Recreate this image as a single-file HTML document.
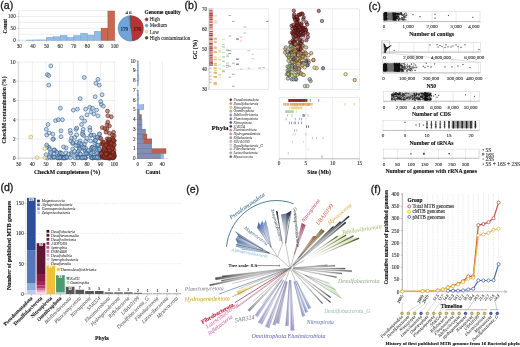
<!DOCTYPE html>
<html><head><meta charset="utf-8"><style>
html,body{margin:0;padding:0;background:#fff;width:520px;height:347px;overflow:hidden}
svg{display:block;will-change:transform;font-family:"Liberation Serif",serif}
</style></head><body>
<svg width="520" height="347" viewBox="0 0 520 347">
<rect width="520" height="347" fill="#fff"/>
<text x="0.3" y="9" font-size="10.6" text-anchor="start" fill="#1a1a1a" stroke="#1a1a1a" stroke-width="0.3" font-family='"Liberation Sans", sans-serif'>(a)</text>
<line x1="18.8" y1="10.55" x2="116.5" y2="10.55" stroke="#e4e4e4" stroke-width="0.6"/>
<line x1="18.8" y1="16.5" x2="116.5" y2="16.5" stroke="#e4e4e4" stroke-width="0.6"/>
<line x1="18.8" y1="22.45" x2="116.5" y2="22.45" stroke="#e4e4e4" stroke-width="0.6"/>
<line x1="18.8" y1="28.4" x2="116.5" y2="28.4" stroke="#e4e4e4" stroke-width="0.6"/>
<line x1="18.8" y1="34.35" x2="116.5" y2="34.35" stroke="#e4e4e4" stroke-width="0.6"/>
<line x1="18.8" y1="11" x2="18.8" y2="40.3" stroke="#bbb" stroke-width="0.5"/>
<line x1="18.8" y1="40.3" x2="116" y2="40.3" stroke="#bbb" stroke-width="0.5"/>
<text x="15.8" y="18.3" font-size="5.2" text-anchor="end" fill="#333" stroke="#333" stroke-width="0.12">100</text>
<line x1="16.8" y1="16.5" x2="18.8" y2="16.5" stroke="#999" stroke-width="0.4"/>
<text x="15.8" y="30.2" font-size="5.2" text-anchor="end" fill="#333" stroke="#333" stroke-width="0.12">50</text>
<line x1="16.8" y1="28.4" x2="18.8" y2="28.4" stroke="#999" stroke-width="0.4"/>
<text x="15.8" y="42.1" font-size="5.2" text-anchor="end" fill="#333" stroke="#333" stroke-width="0.12">0</text>
<line x1="16.8" y1="40.3" x2="18.8" y2="40.3" stroke="#999" stroke-width="0.4"/>
<text x="19.3" y="47.9" font-size="5.2" text-anchor="middle" fill="#333" stroke="#333" stroke-width="0.12">30</text>
<line x1="19.3" y1="40.3" x2="19.3" y2="42" stroke="#999" stroke-width="0.4"/>
<text x="32.93" y="47.9" font-size="5.2" text-anchor="middle" fill="#333" stroke="#333" stroke-width="0.12">40</text>
<line x1="32.93" y1="40.3" x2="32.93" y2="42" stroke="#999" stroke-width="0.4"/>
<text x="46.56" y="47.9" font-size="5.2" text-anchor="middle" fill="#333" stroke="#333" stroke-width="0.12">50</text>
<line x1="46.56" y1="40.3" x2="46.56" y2="42" stroke="#999" stroke-width="0.4"/>
<text x="60.19" y="47.9" font-size="5.2" text-anchor="middle" fill="#333" stroke="#333" stroke-width="0.12">60</text>
<line x1="60.19" y1="40.3" x2="60.19" y2="42" stroke="#999" stroke-width="0.4"/>
<text x="73.82" y="47.9" font-size="5.2" text-anchor="middle" fill="#333" stroke="#333" stroke-width="0.12">70</text>
<line x1="73.82" y1="40.3" x2="73.82" y2="42" stroke="#999" stroke-width="0.4"/>
<text x="87.45" y="47.9" font-size="5.2" text-anchor="middle" fill="#333" stroke="#333" stroke-width="0.12">80</text>
<line x1="87.45" y1="40.3" x2="87.45" y2="42" stroke="#999" stroke-width="0.4"/>
<text x="101.08" y="47.9" font-size="5.2" text-anchor="middle" fill="#333" stroke="#333" stroke-width="0.12">90</text>
<line x1="101.08" y1="40.3" x2="101.08" y2="42" stroke="#999" stroke-width="0.4"/>
<text x="114.71" y="47.9" font-size="5.2" text-anchor="middle" fill="#333" stroke="#333" stroke-width="0.12">100</text>
<line x1="114.71" y1="40.3" x2="114.71" y2="42" stroke="#999" stroke-width="0.4"/>
<text x="6.9" y="26.3" font-size="5.5" text-anchor="middle" fill="#111" stroke="#111" stroke-width="0.1" font-weight="bold" transform="rotate(-90 6.9 26.3)">Count</text>
<rect x="26.12" y="40.06" width="6.81" height="0.24" fill="#92bce6" stroke="#6c9dcf" stroke-width="0.4"/>
<rect x="32.93" y="39.94" width="6.82" height="0.36" fill="#92bce6" stroke="#6c9dcf" stroke-width="0.4"/>
<rect x="39.75" y="39.94" width="6.81" height="0.36" fill="#92bce6" stroke="#6c9dcf" stroke-width="0.4"/>
<rect x="46.56" y="37.21" width="6.81" height="3.09" fill="#92bce6" stroke="#6c9dcf" stroke-width="0.4"/>
<rect x="53.38" y="36.73" width="6.81" height="3.57" fill="#92bce6" stroke="#6c9dcf" stroke-width="0.4"/>
<rect x="60.19" y="35.3" width="6.81" height="5" fill="#92bce6" stroke="#6c9dcf" stroke-width="0.4"/>
<rect x="67" y="37.44" width="6.81" height="2.86" fill="#92bce6" stroke="#6c9dcf" stroke-width="0.4"/>
<rect x="73.82" y="35.54" width="6.82" height="4.76" fill="#92bce6" stroke="#6c9dcf" stroke-width="0.4"/>
<rect x="80.64" y="33.16" width="6.81" height="7.14" fill="#92bce6" stroke="#6c9dcf" stroke-width="0.4"/>
<rect x="87.45" y="35.06" width="6.81" height="5.24" fill="#92bce6" stroke="#6c9dcf" stroke-width="0.4"/>
<rect x="94.27" y="31.26" width="6.81" height="9.04" fill="#92bce6" stroke="#6c9dcf" stroke-width="0.4"/>
<rect x="101.08" y="28.16" width="6.81" height="12.14" fill="#c9684e" stroke="#9a4a38" stroke-width="0.4"/>
<rect x="107.89" y="11.03" width="6.81" height="29.27" fill="#c9684e" stroke="#9a4a38" stroke-width="0.4"/>
<path d="M130.75 28.4 L130.75 15.6 A12.8 12.8 0 0 1 132.18 41.12 Z" fill="#b83434" stroke="#555" stroke-width="0.3"/>
<path d="M130.75 28.4 L132.18 41.12 A12.8 12.8 0 0 1 128.56 15.79 Z" fill="#6ea6dc" stroke="#555" stroke-width="0.3"/>
<path d="M130.75 28.4 L128.56 15.79 A12.8 12.8 0 0 1 129.43 15.67 Z" fill="#e0cc70" stroke="#555" stroke-width="0.3"/>
<path d="M130.75 28.4 L129.43 15.67 A12.8 12.8 0 0 1 130.75 15.6 Z" fill="#4a4a44" stroke="#555" stroke-width="0.3"/>
<text x="124.3" y="30.6" font-size="5.2" text-anchor="middle" fill="#1c3a72" stroke="#1c3a72" stroke-width="0.1" font-weight="bold">179</text>
<text x="137.3" y="30.6" font-size="5.2" text-anchor="middle" fill="#5a1212" stroke="#5a1212" stroke-width="0.1" font-weight="bold">176</text>
<text x="126.7" y="14.3" font-size="5" text-anchor="middle" fill="#222" stroke="#222" stroke-width="0.12">4</text>
<text x="130.2" y="14.3" font-size="5" text-anchor="middle" fill="#222" stroke="#222" stroke-width="0.12">6</text>
<text x="144.6" y="14" font-size="5.3" text-anchor="start" fill="#111" stroke="#111" stroke-width="0.1" font-weight="bold">Genome quality</text>
<circle cx="146.6" cy="19.4" r="1.4" fill="#a83030" stroke="#7a2020" stroke-width="0.5"/>
<text x="149.7" y="21.2" font-size="5.1" text-anchor="start" fill="#333" stroke="#333" stroke-width="0.12">High</text>
<circle cx="146.6" cy="25.55" r="1.4" fill="#6ea6dc" stroke="#4a80b8" stroke-width="0.5"/>
<text x="149.7" y="27.35" font-size="5.1" text-anchor="start" fill="#333" stroke="#333" stroke-width="0.12">Medium</text>
<circle cx="146.6" cy="31.7" r="1.4" fill="#f4ecc0" stroke="#c0a850" stroke-width="0.5"/>
<text x="149.7" y="33.5" font-size="5.1" text-anchor="start" fill="#333" stroke="#333" stroke-width="0.12">Low</text>
<circle cx="146.6" cy="37.85" r="1.4" fill="#4a4a44" stroke="#333" stroke-width="0.5"/>
<text x="149.7" y="39.65" font-size="5.1" text-anchor="start" fill="#333" stroke="#333" stroke-width="0.12">High contamination</text>
<line x1="18.7" y1="61.5" x2="18.7" y2="158.1" stroke="#e2e2ea" stroke-width="0.55"/>
<line x1="32.36" y1="61.5" x2="32.36" y2="158.1" stroke="#e2e2ea" stroke-width="0.55"/>
<line x1="46.02" y1="61.5" x2="46.02" y2="158.1" stroke="#e2e2ea" stroke-width="0.55"/>
<line x1="59.68" y1="61.5" x2="59.68" y2="158.1" stroke="#e2e2ea" stroke-width="0.55"/>
<line x1="73.34" y1="61.5" x2="73.34" y2="158.1" stroke="#e2e2ea" stroke-width="0.55"/>
<line x1="87" y1="61.5" x2="87" y2="158.1" stroke="#e2e2ea" stroke-width="0.55"/>
<line x1="100.66" y1="61.5" x2="100.66" y2="158.1" stroke="#e2e2ea" stroke-width="0.55"/>
<line x1="114.32" y1="61.5" x2="114.32" y2="158.1" stroke="#e2e2ea" stroke-width="0.55"/>
<line x1="18" y1="158.1" x2="116" y2="158.1" stroke="#e2e2ea" stroke-width="0.55"/>
<line x1="18" y1="138.9" x2="116" y2="138.9" stroke="#e2e2ea" stroke-width="0.55"/>
<line x1="18" y1="119.7" x2="116" y2="119.7" stroke="#e2e2ea" stroke-width="0.55"/>
<line x1="18" y1="100.5" x2="116" y2="100.5" stroke="#e2e2ea" stroke-width="0.55"/>
<line x1="18" y1="81.3" x2="116" y2="81.3" stroke="#e2e2ea" stroke-width="0.55"/>
<line x1="18" y1="62.1" x2="116" y2="62.1" stroke="#e2e2ea" stroke-width="0.55"/>
<line x1="18.3" y1="61.5" x2="18.3" y2="158.1" stroke="#bbb" stroke-width="0.5"/>
<line x1="18" y1="158.1" x2="115" y2="158.1" stroke="#bbb" stroke-width="0.5"/>
<text x="15.5" y="159.9" font-size="5.2" text-anchor="end" fill="#333" stroke="#333" stroke-width="0.12">0</text>
<line x1="16.3" y1="158.1" x2="18" y2="158.1" stroke="#999" stroke-width="0.4"/>
<text x="15.5" y="140.7" font-size="5.2" text-anchor="end" fill="#333" stroke="#333" stroke-width="0.12">2</text>
<line x1="16.3" y1="138.9" x2="18" y2="138.9" stroke="#999" stroke-width="0.4"/>
<text x="15.5" y="121.5" font-size="5.2" text-anchor="end" fill="#333" stroke="#333" stroke-width="0.12">4</text>
<line x1="16.3" y1="119.7" x2="18" y2="119.7" stroke="#999" stroke-width="0.4"/>
<text x="15.5" y="102.3" font-size="5.2" text-anchor="end" fill="#333" stroke="#333" stroke-width="0.12">6</text>
<line x1="16.3" y1="100.5" x2="18" y2="100.5" stroke="#999" stroke-width="0.4"/>
<text x="15.5" y="83.1" font-size="5.2" text-anchor="end" fill="#333" stroke="#333" stroke-width="0.12">8</text>
<line x1="16.3" y1="81.3" x2="18" y2="81.3" stroke="#999" stroke-width="0.4"/>
<text x="15.5" y="63.9" font-size="5.2" text-anchor="end" fill="#333" stroke="#333" stroke-width="0.12">10</text>
<line x1="16.3" y1="62.1" x2="18" y2="62.1" stroke="#999" stroke-width="0.4"/>
<text x="18.7" y="165.9" font-size="5.2" text-anchor="middle" fill="#333" stroke="#333" stroke-width="0.12">30</text>
<line x1="18.7" y1="158.1" x2="18.7" y2="160" stroke="#999" stroke-width="0.4"/>
<text x="32.36" y="165.9" font-size="5.2" text-anchor="middle" fill="#333" stroke="#333" stroke-width="0.12">40</text>
<line x1="32.36" y1="158.1" x2="32.36" y2="160" stroke="#999" stroke-width="0.4"/>
<text x="46.02" y="165.9" font-size="5.2" text-anchor="middle" fill="#333" stroke="#333" stroke-width="0.12">50</text>
<line x1="46.02" y1="158.1" x2="46.02" y2="160" stroke="#999" stroke-width="0.4"/>
<text x="59.68" y="165.9" font-size="5.2" text-anchor="middle" fill="#333" stroke="#333" stroke-width="0.12">60</text>
<line x1="59.68" y1="158.1" x2="59.68" y2="160" stroke="#999" stroke-width="0.4"/>
<text x="73.34" y="165.9" font-size="5.2" text-anchor="middle" fill="#333" stroke="#333" stroke-width="0.12">70</text>
<line x1="73.34" y1="158.1" x2="73.34" y2="160" stroke="#999" stroke-width="0.4"/>
<text x="87" y="165.9" font-size="5.2" text-anchor="middle" fill="#333" stroke="#333" stroke-width="0.12">80</text>
<line x1="87" y1="158.1" x2="87" y2="160" stroke="#999" stroke-width="0.4"/>
<text x="100.66" y="165.9" font-size="5.2" text-anchor="middle" fill="#333" stroke="#333" stroke-width="0.12">90</text>
<line x1="100.66" y1="158.1" x2="100.66" y2="160" stroke="#999" stroke-width="0.4"/>
<text x="114.32" y="165.9" font-size="5.2" text-anchor="middle" fill="#333" stroke="#333" stroke-width="0.12">100</text>
<line x1="114.32" y1="158.1" x2="114.32" y2="160" stroke="#999" stroke-width="0.4"/>
<text x="67.1" y="173.8" font-size="5.8" text-anchor="middle" fill="#111" stroke="#111" stroke-width="0.1" font-weight="bold">CheckM completeness (%)</text>
<text x="6.4" y="110" font-size="5.6" text-anchor="middle" fill="#111" stroke="#111" stroke-width="0.1" font-weight="bold" transform="rotate(-90 6.4 110)">CheckM contamination (%)</text>
<circle cx="50.8" cy="65.94" r="1.95" fill="rgba(150,186,222,0.55)" stroke="#2a527e" stroke-width="0.55"/>
<circle cx="47.39" cy="74.58" r="1.95" fill="rgba(150,186,222,0.55)" stroke="#2a527e" stroke-width="0.55"/>
<circle cx="48.75" cy="75.54" r="1.95" fill="rgba(150,186,222,0.55)" stroke="#2a527e" stroke-width="0.55"/>
<circle cx="48.75" cy="85.14" r="1.95" fill="rgba(150,186,222,0.55)" stroke="#2a527e" stroke-width="0.55"/>
<circle cx="84.27" cy="77.46" r="1.95" fill="rgba(150,186,222,0.55)" stroke="#2a527e" stroke-width="0.55"/>
<circle cx="97.93" cy="79.38" r="1.95" fill="rgba(150,186,222,0.55)" stroke="#2a527e" stroke-width="0.55"/>
<circle cx="95.88" cy="83.22" r="1.95" fill="rgba(150,186,222,0.55)" stroke="#2a527e" stroke-width="0.55"/>
<circle cx="99.29" cy="85.14" r="1.95" fill="rgba(150,186,222,0.55)" stroke="#2a527e" stroke-width="0.55"/>
<circle cx="95.2" cy="96.66" r="1.95" fill="rgba(150,186,222,0.55)" stroke="#2a527e" stroke-width="0.55"/>
<circle cx="80.17" cy="98.58" r="1.95" fill="rgba(150,186,222,0.55)" stroke="#2a527e" stroke-width="0.55"/>
<circle cx="101.34" cy="104.34" r="1.95" fill="rgba(150,186,222,0.55)" stroke="#2a527e" stroke-width="0.55"/>
<circle cx="60.36" cy="108.18" r="1.95" fill="rgba(150,186,222,0.55)" stroke="#2a527e" stroke-width="0.55"/>
<circle cx="73.34" cy="110.1" r="1.95" fill="rgba(150,186,222,0.55)" stroke="#2a527e" stroke-width="0.55"/>
<circle cx="77.44" cy="109.14" r="1.95" fill="rgba(150,186,222,0.55)" stroke="#2a527e" stroke-width="0.55"/>
<circle cx="89.73" cy="107.22" r="1.95" fill="rgba(150,186,222,0.55)" stroke="#2a527e" stroke-width="0.55"/>
<circle cx="91.1" cy="112.02" r="1.95" fill="rgba(150,186,222,0.55)" stroke="#2a527e" stroke-width="0.55"/>
<circle cx="103.39" cy="106.26" r="1.95" fill="rgba(150,186,222,0.55)" stroke="#2a527e" stroke-width="0.55"/>
<circle cx="100.66" cy="101.46" r="1.95" fill="rgba(150,186,222,0.55)" stroke="#2a527e" stroke-width="0.55"/>
<circle cx="96.56" cy="110.1" r="1.95" fill="rgba(150,186,222,0.55)" stroke="#2a527e" stroke-width="0.55"/>
<circle cx="55.58" cy="120.66" r="1.95" fill="rgba(150,186,222,0.55)" stroke="#2a527e" stroke-width="0.55"/>
<circle cx="58.31" cy="119.7" r="1.95" fill="rgba(150,186,222,0.55)" stroke="#2a527e" stroke-width="0.55"/>
<circle cx="62.41" cy="119.7" r="1.95" fill="rgba(150,186,222,0.55)" stroke="#2a527e" stroke-width="0.55"/>
<circle cx="48.07" cy="124.5" r="1.95" fill="rgba(150,186,222,0.55)" stroke="#2a527e" stroke-width="0.55"/>
<circle cx="46.7" cy="135.06" r="1.95" fill="rgba(150,186,222,0.55)" stroke="#2a527e" stroke-width="0.55"/>
<circle cx="52.85" cy="134.1" r="1.95" fill="rgba(150,186,222,0.55)" stroke="#2a527e" stroke-width="0.55"/>
<circle cx="53.53" cy="138.9" r="1.95" fill="rgba(150,186,222,0.55)" stroke="#2a527e" stroke-width="0.55"/>
<circle cx="81.54" cy="124.5" r="1.95" fill="rgba(150,186,222,0.55)" stroke="#2a527e" stroke-width="0.55"/>
<circle cx="87" cy="114.9" r="1.95" fill="rgba(150,186,222,0.55)" stroke="#2a527e" stroke-width="0.55"/>
<circle cx="93.83" cy="113.94" r="1.95" fill="rgba(150,186,222,0.55)" stroke="#2a527e" stroke-width="0.55"/>
<circle cx="70.61" cy="133.14" r="1.95" fill="rgba(150,186,222,0.55)" stroke="#2a527e" stroke-width="0.55"/>
<circle cx="76.07" cy="129.3" r="1.95" fill="rgba(150,186,222,0.55)" stroke="#2a527e" stroke-width="0.55"/>
<circle cx="92.46" cy="108.18" r="1.95" fill="rgba(150,186,222,0.55)" stroke="#2a527e" stroke-width="0.55"/>
<circle cx="85.63" cy="109.14" r="1.95" fill="rgba(150,186,222,0.55)" stroke="#2a527e" stroke-width="0.55"/>
<circle cx="97.93" cy="115.86" r="1.95" fill="rgba(150,186,222,0.55)" stroke="#2a527e" stroke-width="0.55"/>
<circle cx="102.03" cy="94.74" r="1.95" fill="rgba(150,186,222,0.55)" stroke="#2a527e" stroke-width="0.55"/>
<circle cx="49.11" cy="132.93" r="1.95" fill="rgba(150,186,222,0.55)" stroke="#2a527e" stroke-width="0.55"/>
<circle cx="49.2" cy="147.57" r="1.95" fill="rgba(150,186,222,0.55)" stroke="#2a527e" stroke-width="0.55"/>
<circle cx="47.28" cy="146.63" r="1.95" fill="rgba(150,186,222,0.55)" stroke="#2a527e" stroke-width="0.55"/>
<circle cx="51.44" cy="157.75" r="1.95" fill="rgba(150,186,222,0.55)" stroke="#2a527e" stroke-width="0.55"/>
<circle cx="46.64" cy="145" r="1.95" fill="rgba(150,186,222,0.55)" stroke="#2a527e" stroke-width="0.55"/>
<circle cx="46.31" cy="129.3" r="1.95" fill="rgba(150,186,222,0.55)" stroke="#2a527e" stroke-width="0.55"/>
<circle cx="50.49" cy="153.74" r="1.95" fill="rgba(150,186,222,0.55)" stroke="#2a527e" stroke-width="0.55"/>
<circle cx="46.12" cy="154.69" r="1.95" fill="rgba(150,186,222,0.55)" stroke="#2a527e" stroke-width="0.55"/>
<circle cx="47.32" cy="158.07" r="1.95" fill="rgba(150,186,222,0.55)" stroke="#2a527e" stroke-width="0.55"/>
<circle cx="49.19" cy="157.13" r="1.95" fill="rgba(150,186,222,0.55)" stroke="#2a527e" stroke-width="0.55"/>
<circle cx="49.57" cy="149.24" r="1.95" fill="rgba(150,186,222,0.55)" stroke="#2a527e" stroke-width="0.55"/>
<circle cx="50.54" cy="152.4" r="1.95" fill="rgba(150,186,222,0.55)" stroke="#2a527e" stroke-width="0.55"/>
<circle cx="52.83" cy="139.37" r="1.95" fill="rgba(150,186,222,0.55)" stroke="#2a527e" stroke-width="0.55"/>
<circle cx="57.68" cy="157.84" r="1.95" fill="rgba(150,186,222,0.55)" stroke="#2a527e" stroke-width="0.55"/>
<circle cx="54.82" cy="157.22" r="1.95" fill="rgba(150,186,222,0.55)" stroke="#2a527e" stroke-width="0.55"/>
<circle cx="55.58" cy="151" r="1.95" fill="rgba(150,186,222,0.55)" stroke="#2a527e" stroke-width="0.55"/>
<circle cx="59.39" cy="155.22" r="1.95" fill="rgba(150,186,222,0.55)" stroke="#2a527e" stroke-width="0.55"/>
<circle cx="54.28" cy="149.73" r="1.95" fill="rgba(150,186,222,0.55)" stroke="#2a527e" stroke-width="0.55"/>
<circle cx="59.55" cy="158.02" r="1.95" fill="rgba(150,186,222,0.55)" stroke="#2a527e" stroke-width="0.55"/>
<circle cx="57.15" cy="152.5" r="1.95" fill="rgba(150,186,222,0.55)" stroke="#2a527e" stroke-width="0.55"/>
<circle cx="53.45" cy="156.99" r="1.95" fill="rgba(150,186,222,0.55)" stroke="#2a527e" stroke-width="0.55"/>
<circle cx="58.03" cy="157.82" r="1.95" fill="rgba(150,186,222,0.55)" stroke="#2a527e" stroke-width="0.55"/>
<circle cx="53.54" cy="157.18" r="1.95" fill="rgba(150,186,222,0.55)" stroke="#2a527e" stroke-width="0.55"/>
<circle cx="54.06" cy="150.1" r="1.95" fill="rgba(150,186,222,0.55)" stroke="#2a527e" stroke-width="0.55"/>
<circle cx="54.15" cy="154.01" r="1.95" fill="rgba(150,186,222,0.55)" stroke="#2a527e" stroke-width="0.55"/>
<circle cx="57.25" cy="157.62" r="1.95" fill="rgba(150,186,222,0.55)" stroke="#2a527e" stroke-width="0.55"/>
<circle cx="54.3" cy="156.98" r="1.95" fill="rgba(150,186,222,0.55)" stroke="#2a527e" stroke-width="0.55"/>
<circle cx="65.17" cy="157.08" r="1.95" fill="rgba(150,186,222,0.55)" stroke="#2a527e" stroke-width="0.55"/>
<circle cx="61.12" cy="157.12" r="1.95" fill="rgba(150,186,222,0.55)" stroke="#2a527e" stroke-width="0.55"/>
<circle cx="64.06" cy="156.96" r="1.95" fill="rgba(150,186,222,0.55)" stroke="#2a527e" stroke-width="0.55"/>
<circle cx="61.14" cy="157.21" r="1.95" fill="rgba(150,186,222,0.55)" stroke="#2a527e" stroke-width="0.55"/>
<circle cx="61.93" cy="158.02" r="1.95" fill="rgba(150,186,222,0.55)" stroke="#2a527e" stroke-width="0.55"/>
<circle cx="60.3" cy="152.81" r="1.95" fill="rgba(150,186,222,0.55)" stroke="#2a527e" stroke-width="0.55"/>
<circle cx="63.79" cy="157.58" r="1.95" fill="rgba(150,186,222,0.55)" stroke="#2a527e" stroke-width="0.55"/>
<circle cx="66.23" cy="147.84" r="1.95" fill="rgba(150,186,222,0.55)" stroke="#2a527e" stroke-width="0.55"/>
<circle cx="65.6" cy="157.92" r="1.95" fill="rgba(150,186,222,0.55)" stroke="#2a527e" stroke-width="0.55"/>
<circle cx="65.88" cy="152.74" r="1.95" fill="rgba(150,186,222,0.55)" stroke="#2a527e" stroke-width="0.55"/>
<circle cx="60.98" cy="130.85" r="1.95" fill="rgba(150,186,222,0.55)" stroke="#2a527e" stroke-width="0.55"/>
<circle cx="61.02" cy="136.74" r="1.95" fill="rgba(150,186,222,0.55)" stroke="#2a527e" stroke-width="0.55"/>
<circle cx="63.8" cy="157.98" r="1.95" fill="rgba(150,186,222,0.55)" stroke="#2a527e" stroke-width="0.55"/>
<circle cx="59.94" cy="152.87" r="1.95" fill="rgba(150,186,222,0.55)" stroke="#2a527e" stroke-width="0.55"/>
<circle cx="64.49" cy="157.15" r="1.95" fill="rgba(150,186,222,0.55)" stroke="#2a527e" stroke-width="0.55"/>
<circle cx="63.75" cy="157.9" r="1.95" fill="rgba(150,186,222,0.55)" stroke="#2a527e" stroke-width="0.55"/>
<circle cx="64.6" cy="157.84" r="1.95" fill="rgba(150,186,222,0.55)" stroke="#2a527e" stroke-width="0.55"/>
<circle cx="63.5" cy="146.99" r="1.95" fill="rgba(150,186,222,0.55)" stroke="#2a527e" stroke-width="0.55"/>
<circle cx="61.59" cy="153.25" r="1.95" fill="rgba(150,186,222,0.55)" stroke="#2a527e" stroke-width="0.55"/>
<circle cx="59.79" cy="157.59" r="1.95" fill="rgba(150,186,222,0.55)" stroke="#2a527e" stroke-width="0.55"/>
<circle cx="66.92" cy="157.68" r="1.95" fill="rgba(150,186,222,0.55)" stroke="#2a527e" stroke-width="0.55"/>
<circle cx="70.42" cy="157.68" r="1.95" fill="rgba(150,186,222,0.55)" stroke="#2a527e" stroke-width="0.55"/>
<circle cx="72.6" cy="143.44" r="1.95" fill="rgba(150,186,222,0.55)" stroke="#2a527e" stroke-width="0.55"/>
<circle cx="71.23" cy="153.14" r="1.95" fill="rgba(150,186,222,0.55)" stroke="#2a527e" stroke-width="0.55"/>
<circle cx="66.75" cy="157.05" r="1.95" fill="rgba(150,186,222,0.55)" stroke="#2a527e" stroke-width="0.55"/>
<circle cx="71.3" cy="154.51" r="1.95" fill="rgba(150,186,222,0.55)" stroke="#2a527e" stroke-width="0.55"/>
<circle cx="70.86" cy="140.89" r="1.95" fill="rgba(150,186,222,0.55)" stroke="#2a527e" stroke-width="0.55"/>
<circle cx="68.69" cy="153.91" r="1.95" fill="rgba(150,186,222,0.55)" stroke="#2a527e" stroke-width="0.55"/>
<circle cx="70.24" cy="130.4" r="1.95" fill="rgba(150,186,222,0.55)" stroke="#2a527e" stroke-width="0.55"/>
<circle cx="71.54" cy="138.09" r="1.95" fill="rgba(150,186,222,0.55)" stroke="#2a527e" stroke-width="0.55"/>
<circle cx="72.76" cy="142.54" r="1.95" fill="rgba(150,186,222,0.55)" stroke="#2a527e" stroke-width="0.55"/>
<circle cx="72.66" cy="149.04" r="1.95" fill="rgba(150,186,222,0.55)" stroke="#2a527e" stroke-width="0.55"/>
<circle cx="78.74" cy="145.76" r="1.95" fill="rgba(150,186,222,0.55)" stroke="#2a527e" stroke-width="0.55"/>
<circle cx="77.61" cy="145.51" r="1.95" fill="rgba(150,186,222,0.55)" stroke="#2a527e" stroke-width="0.55"/>
<circle cx="77.5" cy="157.36" r="1.95" fill="rgba(150,186,222,0.55)" stroke="#2a527e" stroke-width="0.55"/>
<circle cx="80.12" cy="140.98" r="1.95" fill="rgba(150,186,222,0.55)" stroke="#2a527e" stroke-width="0.55"/>
<circle cx="75.99" cy="145.56" r="1.95" fill="rgba(150,186,222,0.55)" stroke="#2a527e" stroke-width="0.55"/>
<circle cx="76.35" cy="153.82" r="1.95" fill="rgba(150,186,222,0.55)" stroke="#2a527e" stroke-width="0.55"/>
<circle cx="78.46" cy="157.41" r="1.95" fill="rgba(150,186,222,0.55)" stroke="#2a527e" stroke-width="0.55"/>
<circle cx="76.62" cy="142.08" r="1.95" fill="rgba(150,186,222,0.55)" stroke="#2a527e" stroke-width="0.55"/>
<circle cx="76.74" cy="128.01" r="1.95" fill="rgba(150,186,222,0.55)" stroke="#2a527e" stroke-width="0.55"/>
<circle cx="75.09" cy="157.75" r="1.95" fill="rgba(150,186,222,0.55)" stroke="#2a527e" stroke-width="0.55"/>
<circle cx="77.97" cy="157.9" r="1.95" fill="rgba(150,186,222,0.55)" stroke="#2a527e" stroke-width="0.55"/>
<circle cx="79.53" cy="148.58" r="1.95" fill="rgba(150,186,222,0.55)" stroke="#2a527e" stroke-width="0.55"/>
<circle cx="79.43" cy="143.16" r="1.95" fill="rgba(150,186,222,0.55)" stroke="#2a527e" stroke-width="0.55"/>
<circle cx="74.7" cy="137.42" r="1.95" fill="rgba(150,186,222,0.55)" stroke="#2a527e" stroke-width="0.55"/>
<circle cx="79.58" cy="149.62" r="1.95" fill="rgba(150,186,222,0.55)" stroke="#2a527e" stroke-width="0.55"/>
<circle cx="77.32" cy="153.19" r="1.95" fill="rgba(150,186,222,0.55)" stroke="#2a527e" stroke-width="0.55"/>
<circle cx="76.73" cy="134.8" r="1.95" fill="rgba(150,186,222,0.55)" stroke="#2a527e" stroke-width="0.55"/>
<circle cx="78.2" cy="151.32" r="1.95" fill="rgba(150,186,222,0.55)" stroke="#2a527e" stroke-width="0.55"/>
<circle cx="74.5" cy="151.34" r="1.95" fill="rgba(150,186,222,0.55)" stroke="#2a527e" stroke-width="0.55"/>
<circle cx="81.63" cy="144.36" r="1.95" fill="rgba(150,186,222,0.55)" stroke="#2a527e" stroke-width="0.55"/>
<circle cx="83.54" cy="135.45" r="1.95" fill="rgba(150,186,222,0.55)" stroke="#2a527e" stroke-width="0.55"/>
<circle cx="86.88" cy="153.92" r="1.95" fill="rgba(150,186,222,0.55)" stroke="#2a527e" stroke-width="0.55"/>
<circle cx="80.39" cy="154.29" r="1.95" fill="rgba(150,186,222,0.55)" stroke="#2a527e" stroke-width="0.55"/>
<circle cx="85.01" cy="150.84" r="1.95" fill="rgba(150,186,222,0.55)" stroke="#2a527e" stroke-width="0.55"/>
<circle cx="85.58" cy="157.94" r="1.95" fill="rgba(150,186,222,0.55)" stroke="#2a527e" stroke-width="0.55"/>
<circle cx="83.28" cy="157.14" r="1.95" fill="rgba(150,186,222,0.55)" stroke="#2a527e" stroke-width="0.55"/>
<circle cx="81.79" cy="158.05" r="1.95" fill="rgba(150,186,222,0.55)" stroke="#2a527e" stroke-width="0.55"/>
<circle cx="84.47" cy="144.24" r="1.95" fill="rgba(150,186,222,0.55)" stroke="#2a527e" stroke-width="0.55"/>
<circle cx="84.64" cy="121.15" r="1.95" fill="rgba(150,186,222,0.55)" stroke="#2a527e" stroke-width="0.55"/>
<circle cx="84.85" cy="157.55" r="1.95" fill="rgba(150,186,222,0.55)" stroke="#2a527e" stroke-width="0.55"/>
<circle cx="81.39" cy="157.56" r="1.95" fill="rgba(150,186,222,0.55)" stroke="#2a527e" stroke-width="0.55"/>
<circle cx="85.05" cy="157.79" r="1.95" fill="rgba(150,186,222,0.55)" stroke="#2a527e" stroke-width="0.55"/>
<circle cx="82.53" cy="146.98" r="1.95" fill="rgba(150,186,222,0.55)" stroke="#2a527e" stroke-width="0.55"/>
<circle cx="84.37" cy="149.46" r="1.95" fill="rgba(150,186,222,0.55)" stroke="#2a527e" stroke-width="0.55"/>
<circle cx="85.58" cy="153.78" r="1.95" fill="rgba(150,186,222,0.55)" stroke="#2a527e" stroke-width="0.55"/>
<circle cx="86.54" cy="153.27" r="1.95" fill="rgba(150,186,222,0.55)" stroke="#2a527e" stroke-width="0.55"/>
<circle cx="83.27" cy="129.32" r="1.95" fill="rgba(150,186,222,0.55)" stroke="#2a527e" stroke-width="0.55"/>
<circle cx="82.74" cy="132.41" r="1.95" fill="rgba(150,186,222,0.55)" stroke="#2a527e" stroke-width="0.55"/>
<circle cx="85.61" cy="148.16" r="1.95" fill="rgba(150,186,222,0.55)" stroke="#2a527e" stroke-width="0.55"/>
<circle cx="84.62" cy="157.27" r="1.95" fill="rgba(150,186,222,0.55)" stroke="#2a527e" stroke-width="0.55"/>
<circle cx="85.76" cy="141.39" r="1.95" fill="rgba(150,186,222,0.55)" stroke="#2a527e" stroke-width="0.55"/>
<circle cx="81.63" cy="117.78" r="1.95" fill="rgba(150,186,222,0.55)" stroke="#2a527e" stroke-width="0.55"/>
<circle cx="86.85" cy="138.22" r="1.95" fill="rgba(150,186,222,0.55)" stroke="#2a527e" stroke-width="0.55"/>
<circle cx="82.36" cy="134.29" r="1.95" fill="rgba(150,186,222,0.55)" stroke="#2a527e" stroke-width="0.55"/>
<circle cx="82.55" cy="157.59" r="1.95" fill="rgba(150,186,222,0.55)" stroke="#2a527e" stroke-width="0.55"/>
<circle cx="83.93" cy="147.68" r="1.95" fill="rgba(150,186,222,0.55)" stroke="#2a527e" stroke-width="0.55"/>
<circle cx="80.36" cy="154.04" r="1.95" fill="rgba(150,186,222,0.55)" stroke="#2a527e" stroke-width="0.55"/>
<circle cx="92.46" cy="157.71" r="1.95" fill="rgba(150,186,222,0.55)" stroke="#2a527e" stroke-width="0.55"/>
<circle cx="92.38" cy="157.93" r="1.95" fill="rgba(150,186,222,0.55)" stroke="#2a527e" stroke-width="0.55"/>
<circle cx="90.53" cy="135.39" r="1.95" fill="rgba(150,186,222,0.55)" stroke="#2a527e" stroke-width="0.55"/>
<circle cx="91.71" cy="147.58" r="1.95" fill="rgba(150,186,222,0.55)" stroke="#2a527e" stroke-width="0.55"/>
<circle cx="93.48" cy="157.84" r="1.95" fill="rgba(150,186,222,0.55)" stroke="#2a527e" stroke-width="0.55"/>
<circle cx="90.6" cy="140.96" r="1.95" fill="rgba(150,186,222,0.55)" stroke="#2a527e" stroke-width="0.55"/>
<circle cx="91.36" cy="135.15" r="1.95" fill="rgba(150,186,222,0.55)" stroke="#2a527e" stroke-width="0.55"/>
<circle cx="90.82" cy="149.67" r="1.95" fill="rgba(150,186,222,0.55)" stroke="#2a527e" stroke-width="0.55"/>
<circle cx="92.77" cy="152.27" r="1.95" fill="rgba(150,186,222,0.55)" stroke="#2a527e" stroke-width="0.55"/>
<circle cx="92.81" cy="146.9" r="1.95" fill="rgba(150,186,222,0.55)" stroke="#2a527e" stroke-width="0.55"/>
<circle cx="90.91" cy="157.48" r="1.95" fill="rgba(150,186,222,0.55)" stroke="#2a527e" stroke-width="0.55"/>
<circle cx="90.44" cy="154.44" r="1.95" fill="rgba(150,186,222,0.55)" stroke="#2a527e" stroke-width="0.55"/>
<circle cx="93.62" cy="149.34" r="1.95" fill="rgba(150,186,222,0.55)" stroke="#2a527e" stroke-width="0.55"/>
<circle cx="92.47" cy="147.61" r="1.95" fill="rgba(150,186,222,0.55)" stroke="#2a527e" stroke-width="0.55"/>
<circle cx="91.72" cy="157.48" r="1.95" fill="rgba(150,186,222,0.55)" stroke="#2a527e" stroke-width="0.55"/>
<circle cx="89.83" cy="127.61" r="1.95" fill="rgba(150,186,222,0.55)" stroke="#2a527e" stroke-width="0.55"/>
<circle cx="88.84" cy="153.31" r="1.95" fill="rgba(150,186,222,0.55)" stroke="#2a527e" stroke-width="0.55"/>
<circle cx="89.96" cy="130.37" r="1.95" fill="rgba(150,186,222,0.55)" stroke="#2a527e" stroke-width="0.55"/>
<circle cx="90.25" cy="152.5" r="1.95" fill="rgba(150,186,222,0.55)" stroke="#2a527e" stroke-width="0.55"/>
<circle cx="91.22" cy="153.28" r="1.95" fill="rgba(150,186,222,0.55)" stroke="#2a527e" stroke-width="0.55"/>
<circle cx="92.32" cy="157.88" r="1.95" fill="rgba(150,186,222,0.55)" stroke="#2a527e" stroke-width="0.55"/>
<circle cx="88.55" cy="150.64" r="1.95" fill="rgba(150,186,222,0.55)" stroke="#2a527e" stroke-width="0.55"/>
<circle cx="96.26" cy="153.57" r="1.95" fill="rgba(150,186,222,0.55)" stroke="#2a527e" stroke-width="0.55"/>
<circle cx="98.82" cy="157.51" r="1.95" fill="rgba(150,186,222,0.55)" stroke="#2a527e" stroke-width="0.55"/>
<circle cx="95.54" cy="157.49" r="1.95" fill="rgba(150,186,222,0.55)" stroke="#2a527e" stroke-width="0.55"/>
<circle cx="96.81" cy="149.11" r="1.95" fill="rgba(150,186,222,0.55)" stroke="#2a527e" stroke-width="0.55"/>
<circle cx="97.45" cy="157.86" r="1.95" fill="rgba(150,186,222,0.55)" stroke="#2a527e" stroke-width="0.55"/>
<circle cx="98.14" cy="146.78" r="1.95" fill="rgba(150,186,222,0.55)" stroke="#2a527e" stroke-width="0.55"/>
<circle cx="99.64" cy="134.22" r="1.95" fill="rgba(150,186,222,0.55)" stroke="#2a527e" stroke-width="0.55"/>
<circle cx="95.42" cy="137.17" r="1.95" fill="rgba(150,186,222,0.55)" stroke="#2a527e" stroke-width="0.55"/>
<circle cx="100" cy="150.74" r="1.95" fill="rgba(150,186,222,0.55)" stroke="#2a527e" stroke-width="0.55"/>
<circle cx="100.13" cy="156.95" r="1.95" fill="rgba(150,186,222,0.55)" stroke="#2a527e" stroke-width="0.55"/>
<circle cx="99.89" cy="157.82" r="1.95" fill="rgba(150,186,222,0.55)" stroke="#2a527e" stroke-width="0.55"/>
<circle cx="98.79" cy="153.66" r="1.95" fill="rgba(150,186,222,0.55)" stroke="#2a527e" stroke-width="0.55"/>
<circle cx="99.51" cy="138.26" r="1.95" fill="rgba(150,186,222,0.55)" stroke="#2a527e" stroke-width="0.55"/>
<circle cx="94.69" cy="142.53" r="1.95" fill="rgba(150,186,222,0.55)" stroke="#2a527e" stroke-width="0.55"/>
<circle cx="93.95" cy="157.31" r="1.95" fill="rgba(150,186,222,0.55)" stroke="#2a527e" stroke-width="0.55"/>
<circle cx="100.05" cy="153.45" r="1.95" fill="rgba(150,186,222,0.55)" stroke="#2a527e" stroke-width="0.55"/>
<circle cx="97.28" cy="147.36" r="1.95" fill="rgba(150,186,222,0.55)" stroke="#2a527e" stroke-width="0.55"/>
<circle cx="98.51" cy="158.02" r="1.95" fill="rgba(150,186,222,0.55)" stroke="#2a527e" stroke-width="0.55"/>
<circle cx="94.56" cy="157.46" r="1.95" fill="rgba(150,186,222,0.55)" stroke="#2a527e" stroke-width="0.55"/>
<circle cx="97.35" cy="153.07" r="1.95" fill="rgba(150,186,222,0.55)" stroke="#2a527e" stroke-width="0.55"/>
<circle cx="95.09" cy="157.13" r="1.95" fill="rgba(150,186,222,0.55)" stroke="#2a527e" stroke-width="0.55"/>
<circle cx="100.59" cy="153.68" r="1.95" fill="rgba(150,186,222,0.55)" stroke="#2a527e" stroke-width="0.55"/>
<circle cx="94.25" cy="148.19" r="1.95" fill="rgba(150,186,222,0.55)" stroke="#2a527e" stroke-width="0.55"/>
<circle cx="99.05" cy="148.1" r="1.95" fill="rgba(150,186,222,0.55)" stroke="#2a527e" stroke-width="0.55"/>
<circle cx="97.35" cy="145.04" r="1.95" fill="rgba(150,186,222,0.55)" stroke="#2a527e" stroke-width="0.55"/>
<circle cx="93.92" cy="135.1" r="1.95" fill="rgba(150,186,222,0.55)" stroke="#2a527e" stroke-width="0.55"/>
<circle cx="95.07" cy="140.54" r="1.95" fill="rgba(150,186,222,0.55)" stroke="#2a527e" stroke-width="0.55"/>
<circle cx="96.6" cy="157.91" r="1.95" fill="rgba(150,186,222,0.55)" stroke="#2a527e" stroke-width="0.55"/>
<circle cx="97.33" cy="157.07" r="1.95" fill="rgba(150,186,222,0.55)" stroke="#2a527e" stroke-width="0.55"/>
<circle cx="99.31" cy="133.92" r="1.95" fill="rgba(150,186,222,0.55)" stroke="#2a527e" stroke-width="0.55"/>
<circle cx="98.13" cy="145.07" r="1.95" fill="rgba(150,186,222,0.55)" stroke="#2a527e" stroke-width="0.55"/>
<circle cx="97.27" cy="137.49" r="1.95" fill="rgba(150,186,222,0.55)" stroke="#2a527e" stroke-width="0.55"/>
<circle cx="95.59" cy="140.33" r="1.95" fill="rgba(150,186,222,0.55)" stroke="#2a527e" stroke-width="0.55"/>
<circle cx="99.14" cy="149.25" r="1.95" fill="rgba(150,186,222,0.55)" stroke="#2a527e" stroke-width="0.55"/>
<circle cx="113.31" cy="145.57" r="1.95" fill="rgba(160,66,50,0.6)" stroke="#5a1a12" stroke-width="0.55"/>
<circle cx="112.01" cy="152.6" r="1.95" fill="rgba(160,66,50,0.6)" stroke="#5a1a12" stroke-width="0.55"/>
<circle cx="111.54" cy="157.12" r="1.95" fill="rgba(160,66,50,0.6)" stroke="#5a1a12" stroke-width="0.55"/>
<circle cx="108.7" cy="157.08" r="1.95" fill="rgba(160,66,50,0.6)" stroke="#5a1a12" stroke-width="0.55"/>
<circle cx="110.64" cy="155.31" r="1.95" fill="rgba(160,66,50,0.6)" stroke="#5a1a12" stroke-width="0.55"/>
<circle cx="113.79" cy="153.75" r="1.95" fill="rgba(160,66,50,0.6)" stroke="#5a1a12" stroke-width="0.55"/>
<circle cx="110.87" cy="150.06" r="1.95" fill="rgba(160,66,50,0.6)" stroke="#5a1a12" stroke-width="0.55"/>
<circle cx="107.72" cy="147.24" r="1.95" fill="rgba(160,66,50,0.6)" stroke="#5a1a12" stroke-width="0.55"/>
<circle cx="111.32" cy="116.74" r="1.95" fill="rgba(160,66,50,0.6)" stroke="#5a1a12" stroke-width="0.55"/>
<circle cx="101.63" cy="143.92" r="1.95" fill="rgba(160,66,50,0.6)" stroke="#5a1a12" stroke-width="0.55"/>
<circle cx="105.93" cy="157.55" r="1.95" fill="rgba(160,66,50,0.6)" stroke="#5a1a12" stroke-width="0.55"/>
<circle cx="105.02" cy="157.01" r="1.95" fill="rgba(160,66,50,0.6)" stroke="#5a1a12" stroke-width="0.55"/>
<circle cx="105.85" cy="149.67" r="1.95" fill="rgba(160,66,50,0.6)" stroke="#5a1a12" stroke-width="0.55"/>
<circle cx="109.16" cy="149.24" r="1.95" fill="rgba(160,66,50,0.6)" stroke="#5a1a12" stroke-width="0.55"/>
<circle cx="114.27" cy="140.59" r="1.95" fill="rgba(160,66,50,0.6)" stroke="#5a1a12" stroke-width="0.55"/>
<circle cx="102.91" cy="143.06" r="1.95" fill="rgba(160,66,50,0.6)" stroke="#5a1a12" stroke-width="0.55"/>
<circle cx="102.22" cy="156.26" r="1.95" fill="rgba(160,66,50,0.6)" stroke="#5a1a12" stroke-width="0.55"/>
<circle cx="108.73" cy="156.67" r="1.95" fill="rgba(160,66,50,0.6)" stroke="#5a1a12" stroke-width="0.55"/>
<circle cx="110.34" cy="155.38" r="1.95" fill="rgba(160,66,50,0.6)" stroke="#5a1a12" stroke-width="0.55"/>
<circle cx="108.11" cy="148.48" r="1.95" fill="rgba(160,66,50,0.6)" stroke="#5a1a12" stroke-width="0.55"/>
<circle cx="107.41" cy="146.86" r="1.95" fill="rgba(160,66,50,0.6)" stroke="#5a1a12" stroke-width="0.55"/>
<circle cx="109.77" cy="144.78" r="1.95" fill="rgba(160,66,50,0.6)" stroke="#5a1a12" stroke-width="0.55"/>
<circle cx="106.49" cy="157.39" r="1.95" fill="rgba(160,66,50,0.6)" stroke="#5a1a12" stroke-width="0.55"/>
<circle cx="102.16" cy="155.93" r="1.95" fill="rgba(160,66,50,0.6)" stroke="#5a1a12" stroke-width="0.55"/>
<circle cx="107.73" cy="143.53" r="1.95" fill="rgba(160,66,50,0.6)" stroke="#5a1a12" stroke-width="0.55"/>
<circle cx="102.34" cy="127.58" r="1.95" fill="rgba(160,66,50,0.6)" stroke="#5a1a12" stroke-width="0.55"/>
<circle cx="102.86" cy="152.17" r="1.95" fill="rgba(160,66,50,0.6)" stroke="#5a1a12" stroke-width="0.55"/>
<circle cx="108.8" cy="155.15" r="1.95" fill="rgba(160,66,50,0.6)" stroke="#5a1a12" stroke-width="0.55"/>
<circle cx="109.34" cy="144.55" r="1.95" fill="rgba(160,66,50,0.6)" stroke="#5a1a12" stroke-width="0.55"/>
<circle cx="108.69" cy="140.18" r="1.95" fill="rgba(160,66,50,0.6)" stroke="#5a1a12" stroke-width="0.55"/>
<circle cx="110.25" cy="156.3" r="1.95" fill="rgba(160,66,50,0.6)" stroke="#5a1a12" stroke-width="0.55"/>
<circle cx="108.54" cy="157.95" r="1.95" fill="rgba(160,66,50,0.6)" stroke="#5a1a12" stroke-width="0.55"/>
<circle cx="109.4" cy="156.82" r="1.95" fill="rgba(160,66,50,0.6)" stroke="#5a1a12" stroke-width="0.55"/>
<circle cx="110.96" cy="154.89" r="1.95" fill="rgba(160,66,50,0.6)" stroke="#5a1a12" stroke-width="0.55"/>
<circle cx="110.01" cy="142.21" r="1.95" fill="rgba(160,66,50,0.6)" stroke="#5a1a12" stroke-width="0.55"/>
<circle cx="109.43" cy="125.89" r="1.95" fill="rgba(160,66,50,0.6)" stroke="#5a1a12" stroke-width="0.55"/>
<circle cx="111.66" cy="157.77" r="1.95" fill="rgba(160,66,50,0.6)" stroke="#5a1a12" stroke-width="0.55"/>
<circle cx="113.28" cy="147.74" r="1.95" fill="rgba(160,66,50,0.6)" stroke="#5a1a12" stroke-width="0.55"/>
<circle cx="107.33" cy="145.9" r="1.95" fill="rgba(160,66,50,0.6)" stroke="#5a1a12" stroke-width="0.55"/>
<circle cx="109.82" cy="147.51" r="1.95" fill="rgba(160,66,50,0.6)" stroke="#5a1a12" stroke-width="0.55"/>
<circle cx="111.86" cy="157.38" r="1.95" fill="rgba(160,66,50,0.6)" stroke="#5a1a12" stroke-width="0.55"/>
<circle cx="114.13" cy="135.82" r="1.95" fill="rgba(160,66,50,0.6)" stroke="#5a1a12" stroke-width="0.55"/>
<circle cx="102.08" cy="157.32" r="1.95" fill="rgba(160,66,50,0.6)" stroke="#5a1a12" stroke-width="0.55"/>
<circle cx="108.17" cy="156.96" r="1.95" fill="rgba(160,66,50,0.6)" stroke="#5a1a12" stroke-width="0.55"/>
<circle cx="109.55" cy="157.85" r="1.95" fill="rgba(160,66,50,0.6)" stroke="#5a1a12" stroke-width="0.55"/>
<circle cx="111.05" cy="147.57" r="1.95" fill="rgba(160,66,50,0.6)" stroke="#5a1a12" stroke-width="0.55"/>
<circle cx="107.51" cy="155.6" r="1.95" fill="rgba(160,66,50,0.6)" stroke="#5a1a12" stroke-width="0.55"/>
<circle cx="107.13" cy="138.84" r="1.95" fill="rgba(160,66,50,0.6)" stroke="#5a1a12" stroke-width="0.55"/>
<circle cx="102.87" cy="155.77" r="1.95" fill="rgba(160,66,50,0.6)" stroke="#5a1a12" stroke-width="0.55"/>
<circle cx="110.48" cy="155.57" r="1.95" fill="rgba(160,66,50,0.6)" stroke="#5a1a12" stroke-width="0.55"/>
<circle cx="108.16" cy="140.57" r="1.95" fill="rgba(160,66,50,0.6)" stroke="#5a1a12" stroke-width="0.55"/>
<circle cx="107.46" cy="111.06" r="1.95" fill="rgba(160,66,50,0.6)" stroke="#5a1a12" stroke-width="0.55"/>
<circle cx="106.88" cy="143.62" r="1.95" fill="rgba(160,66,50,0.6)" stroke="#5a1a12" stroke-width="0.55"/>
<circle cx="113.55" cy="153.23" r="1.95" fill="rgba(160,66,50,0.6)" stroke="#5a1a12" stroke-width="0.55"/>
<circle cx="103.33" cy="157.24" r="1.95" fill="rgba(160,66,50,0.6)" stroke="#5a1a12" stroke-width="0.55"/>
<circle cx="103.05" cy="151.1" r="1.95" fill="rgba(160,66,50,0.6)" stroke="#5a1a12" stroke-width="0.55"/>
<circle cx="111.15" cy="142.32" r="1.95" fill="rgba(160,66,50,0.6)" stroke="#5a1a12" stroke-width="0.55"/>
<circle cx="102.91" cy="156.19" r="1.95" fill="rgba(160,66,50,0.6)" stroke="#5a1a12" stroke-width="0.55"/>
<circle cx="103.03" cy="144.47" r="1.95" fill="rgba(160,66,50,0.6)" stroke="#5a1a12" stroke-width="0.55"/>
<circle cx="111.24" cy="156.47" r="1.95" fill="rgba(160,66,50,0.6)" stroke="#5a1a12" stroke-width="0.55"/>
<circle cx="107.31" cy="153.28" r="1.95" fill="rgba(160,66,50,0.6)" stroke="#5a1a12" stroke-width="0.55"/>
<circle cx="103.71" cy="149.21" r="1.95" fill="rgba(160,66,50,0.6)" stroke="#5a1a12" stroke-width="0.55"/>
<circle cx="113.53" cy="132.27" r="1.95" fill="rgba(160,66,50,0.6)" stroke="#5a1a12" stroke-width="0.55"/>
<circle cx="108.32" cy="154.26" r="1.95" fill="rgba(160,66,50,0.6)" stroke="#5a1a12" stroke-width="0.55"/>
<circle cx="106.78" cy="129.29" r="1.95" fill="rgba(160,66,50,0.6)" stroke="#5a1a12" stroke-width="0.55"/>
<circle cx="113.3" cy="157.06" r="1.95" fill="rgba(160,66,50,0.6)" stroke="#5a1a12" stroke-width="0.55"/>
<circle cx="107.41" cy="152.78" r="1.95" fill="rgba(160,66,50,0.6)" stroke="#5a1a12" stroke-width="0.55"/>
<circle cx="107.7" cy="156.48" r="1.95" fill="rgba(160,66,50,0.6)" stroke="#5a1a12" stroke-width="0.55"/>
<circle cx="112.31" cy="138.98" r="1.95" fill="rgba(160,66,50,0.6)" stroke="#5a1a12" stroke-width="0.55"/>
<circle cx="109.79" cy="155.91" r="1.95" fill="rgba(160,66,50,0.6)" stroke="#5a1a12" stroke-width="0.55"/>
<circle cx="113.16" cy="157.86" r="1.95" fill="rgba(160,66,50,0.6)" stroke="#5a1a12" stroke-width="0.55"/>
<circle cx="109.25" cy="149.25" r="1.95" fill="rgba(160,66,50,0.6)" stroke="#5a1a12" stroke-width="0.55"/>
<circle cx="114" cy="140.87" r="1.95" fill="rgba(160,66,50,0.6)" stroke="#5a1a12" stroke-width="0.55"/>
<circle cx="102.66" cy="141.72" r="1.95" fill="rgba(160,66,50,0.6)" stroke="#5a1a12" stroke-width="0.55"/>
<circle cx="103.07" cy="155.98" r="1.95" fill="rgba(160,66,50,0.6)" stroke="#5a1a12" stroke-width="0.55"/>
<circle cx="113.34" cy="156.27" r="1.95" fill="rgba(160,66,50,0.6)" stroke="#5a1a12" stroke-width="0.55"/>
<circle cx="104.18" cy="147.04" r="1.95" fill="rgba(160,66,50,0.6)" stroke="#5a1a12" stroke-width="0.55"/>
<circle cx="105.77" cy="155.9" r="1.95" fill="rgba(160,66,50,0.6)" stroke="#5a1a12" stroke-width="0.55"/>
<circle cx="109.32" cy="152.8" r="1.95" fill="rgba(160,66,50,0.6)" stroke="#5a1a12" stroke-width="0.55"/>
<circle cx="107.05" cy="146.32" r="1.95" fill="rgba(160,66,50,0.6)" stroke="#5a1a12" stroke-width="0.55"/>
<circle cx="108.99" cy="144.62" r="1.95" fill="rgba(160,66,50,0.6)" stroke="#5a1a12" stroke-width="0.55"/>
<circle cx="111.39" cy="152.52" r="1.95" fill="rgba(160,66,50,0.6)" stroke="#5a1a12" stroke-width="0.55"/>
<circle cx="112.61" cy="137.82" r="1.95" fill="rgba(160,66,50,0.6)" stroke="#5a1a12" stroke-width="0.55"/>
<circle cx="112.4" cy="134.92" r="1.95" fill="rgba(160,66,50,0.6)" stroke="#5a1a12" stroke-width="0.55"/>
<circle cx="113.91" cy="150.26" r="1.95" fill="rgba(160,66,50,0.6)" stroke="#5a1a12" stroke-width="0.55"/>
<circle cx="111.41" cy="152.32" r="1.95" fill="rgba(160,66,50,0.6)" stroke="#5a1a12" stroke-width="0.55"/>
<circle cx="108.11" cy="155.97" r="1.95" fill="rgba(160,66,50,0.6)" stroke="#5a1a12" stroke-width="0.55"/>
<circle cx="114.23" cy="156.16" r="1.95" fill="rgba(160,66,50,0.6)" stroke="#5a1a12" stroke-width="0.55"/>
<circle cx="105.16" cy="154.45" r="1.95" fill="rgba(160,66,50,0.6)" stroke="#5a1a12" stroke-width="0.55"/>
<circle cx="114.03" cy="157.21" r="1.95" fill="rgba(160,66,50,0.6)" stroke="#5a1a12" stroke-width="0.55"/>
<circle cx="103.66" cy="142.3" r="1.95" fill="rgba(160,66,50,0.6)" stroke="#5a1a12" stroke-width="0.55"/>
<circle cx="104.76" cy="156.78" r="1.95" fill="rgba(160,66,50,0.6)" stroke="#5a1a12" stroke-width="0.55"/>
<circle cx="110.04" cy="157.71" r="1.95" fill="rgba(160,66,50,0.6)" stroke="#5a1a12" stroke-width="0.55"/>
<circle cx="103.55" cy="157.47" r="1.95" fill="rgba(160,66,50,0.6)" stroke="#5a1a12" stroke-width="0.55"/>
<circle cx="105.62" cy="148.56" r="1.95" fill="rgba(160,66,50,0.6)" stroke="#5a1a12" stroke-width="0.55"/>
<circle cx="105.45" cy="157.29" r="1.95" fill="rgba(160,66,50,0.6)" stroke="#5a1a12" stroke-width="0.55"/>
<circle cx="104.65" cy="154.16" r="1.95" fill="rgba(160,66,50,0.6)" stroke="#5a1a12" stroke-width="0.55"/>
<circle cx="109.63" cy="151.2" r="1.95" fill="rgba(160,66,50,0.6)" stroke="#5a1a12" stroke-width="0.55"/>
<circle cx="105.99" cy="132.16" r="1.95" fill="rgba(160,66,50,0.6)" stroke="#5a1a12" stroke-width="0.55"/>
<circle cx="107.11" cy="124.87" r="1.95" fill="rgba(160,66,50,0.6)" stroke="#5a1a12" stroke-width="0.55"/>
<circle cx="108.86" cy="157.96" r="1.95" fill="rgba(160,66,50,0.6)" stroke="#5a1a12" stroke-width="0.55"/>
<circle cx="113.81" cy="152.97" r="1.95" fill="rgba(160,66,50,0.6)" stroke="#5a1a12" stroke-width="0.55"/>
<circle cx="109.39" cy="154.71" r="1.95" fill="rgba(160,66,50,0.6)" stroke="#5a1a12" stroke-width="0.55"/>
<circle cx="114.23" cy="155.24" r="1.95" fill="rgba(160,66,50,0.6)" stroke="#5a1a12" stroke-width="0.55"/>
<circle cx="101.24" cy="153.19" r="1.95" fill="rgba(160,66,50,0.6)" stroke="#5a1a12" stroke-width="0.55"/>
<circle cx="112.31" cy="148.26" r="1.95" fill="rgba(160,66,50,0.6)" stroke="#5a1a12" stroke-width="0.55"/>
<circle cx="104.4" cy="157.17" r="1.95" fill="rgba(160,66,50,0.6)" stroke="#5a1a12" stroke-width="0.55"/>
<circle cx="105.97" cy="150.43" r="1.95" fill="rgba(160,66,50,0.6)" stroke="#5a1a12" stroke-width="0.55"/>
<circle cx="110.62" cy="154.83" r="1.95" fill="rgba(160,66,50,0.6)" stroke="#5a1a12" stroke-width="0.55"/>
<circle cx="109.47" cy="155.88" r="1.95" fill="rgba(160,66,50,0.6)" stroke="#5a1a12" stroke-width="0.55"/>
<circle cx="100.79" cy="138.33" r="1.95" fill="rgba(160,66,50,0.6)" stroke="#5a1a12" stroke-width="0.55"/>
<circle cx="112.57" cy="157.32" r="1.95" fill="rgba(160,66,50,0.6)" stroke="#5a1a12" stroke-width="0.55"/>
<circle cx="111.48" cy="156.72" r="1.95" fill="rgba(160,66,50,0.6)" stroke="#5a1a12" stroke-width="0.55"/>
<circle cx="108.7" cy="148.77" r="1.95" fill="rgba(160,66,50,0.6)" stroke="#5a1a12" stroke-width="0.55"/>
<circle cx="112.92" cy="141.65" r="1.95" fill="rgba(160,66,50,0.6)" stroke="#5a1a12" stroke-width="0.55"/>
<circle cx="108.06" cy="157.09" r="1.95" fill="rgba(160,66,50,0.6)" stroke="#5a1a12" stroke-width="0.55"/>
<circle cx="112.61" cy="156.54" r="1.95" fill="rgba(160,66,50,0.6)" stroke="#5a1a12" stroke-width="0.55"/>
<circle cx="109.37" cy="155.7" r="1.95" fill="rgba(160,66,50,0.6)" stroke="#5a1a12" stroke-width="0.55"/>
<circle cx="106.7" cy="157.27" r="1.95" fill="rgba(160,66,50,0.6)" stroke="#5a1a12" stroke-width="0.55"/>
<circle cx="106.62" cy="144.84" r="1.95" fill="rgba(160,66,50,0.6)" stroke="#5a1a12" stroke-width="0.55"/>
<circle cx="107.34" cy="156.92" r="1.95" fill="rgba(160,66,50,0.6)" stroke="#5a1a12" stroke-width="0.55"/>
<circle cx="107.78" cy="122.11" r="1.95" fill="rgba(160,66,50,0.6)" stroke="#5a1a12" stroke-width="0.55"/>
<circle cx="112.65" cy="157.97" r="1.95" fill="rgba(160,66,50,0.6)" stroke="#5a1a12" stroke-width="0.55"/>
<circle cx="107.56" cy="155.24" r="1.95" fill="rgba(160,66,50,0.6)" stroke="#5a1a12" stroke-width="0.55"/>
<circle cx="109.81" cy="157.99" r="1.95" fill="rgba(160,66,50,0.6)" stroke="#5a1a12" stroke-width="0.55"/>
<circle cx="114.24" cy="155.65" r="1.95" fill="rgba(160,66,50,0.6)" stroke="#5a1a12" stroke-width="0.55"/>
<circle cx="110.39" cy="153.12" r="1.95" fill="rgba(160,66,50,0.6)" stroke="#5a1a12" stroke-width="0.55"/>
<circle cx="109.53" cy="153.75" r="1.95" fill="rgba(160,66,50,0.6)" stroke="#5a1a12" stroke-width="0.55"/>
<circle cx="107.75" cy="154.97" r="1.95" fill="rgba(160,66,50,0.6)" stroke="#5a1a12" stroke-width="0.55"/>
<circle cx="105.09" cy="153.88" r="1.95" fill="rgba(160,66,50,0.6)" stroke="#5a1a12" stroke-width="0.55"/>
<circle cx="113.79" cy="144.51" r="1.95" fill="rgba(160,66,50,0.6)" stroke="#5a1a12" stroke-width="0.55"/>
<circle cx="106.97" cy="157.08" r="1.95" fill="rgba(160,66,50,0.6)" stroke="#5a1a12" stroke-width="0.55"/>
<circle cx="104.12" cy="156.15" r="1.95" fill="rgba(160,66,50,0.6)" stroke="#5a1a12" stroke-width="0.55"/>
<circle cx="111.39" cy="156.94" r="1.95" fill="rgba(160,66,50,0.6)" stroke="#5a1a12" stroke-width="0.55"/>
<circle cx="112.72" cy="157.1" r="1.95" fill="rgba(160,66,50,0.6)" stroke="#5a1a12" stroke-width="0.55"/>
<circle cx="105.49" cy="157.74" r="1.95" fill="rgba(160,66,50,0.6)" stroke="#5a1a12" stroke-width="0.55"/>
<circle cx="107.94" cy="155.45" r="1.95" fill="rgba(160,66,50,0.6)" stroke="#5a1a12" stroke-width="0.55"/>
<circle cx="108.19" cy="147.1" r="1.95" fill="rgba(160,66,50,0.6)" stroke="#5a1a12" stroke-width="0.55"/>
<circle cx="112" cy="152.95" r="1.95" fill="rgba(160,66,50,0.6)" stroke="#5a1a12" stroke-width="0.55"/>
<circle cx="106.97" cy="157.94" r="1.95" fill="rgba(160,66,50,0.6)" stroke="#5a1a12" stroke-width="0.55"/>
<circle cx="107.86" cy="115.71" r="1.95" fill="rgba(160,66,50,0.6)" stroke="#5a1a12" stroke-width="0.55"/>
<circle cx="112.24" cy="148.19" r="1.95" fill="rgba(160,66,50,0.6)" stroke="#5a1a12" stroke-width="0.55"/>
<circle cx="101.5" cy="153.68" r="1.95" fill="rgba(160,66,50,0.6)" stroke="#5a1a12" stroke-width="0.55"/>
<circle cx="110.77" cy="157.01" r="1.95" fill="rgba(160,66,50,0.6)" stroke="#5a1a12" stroke-width="0.55"/>
<circle cx="109.18" cy="139.68" r="1.95" fill="rgba(160,66,50,0.6)" stroke="#5a1a12" stroke-width="0.55"/>
<circle cx="110.34" cy="155.89" r="1.95" fill="rgba(160,66,50,0.6)" stroke="#5a1a12" stroke-width="0.55"/>
<circle cx="113.38" cy="153.51" r="1.95" fill="rgba(160,66,50,0.6)" stroke="#5a1a12" stroke-width="0.55"/>
<circle cx="109.07" cy="156.05" r="1.95" fill="rgba(160,66,50,0.6)" stroke="#5a1a12" stroke-width="0.55"/>
<circle cx="114.19" cy="144.83" r="1.95" fill="rgba(160,66,50,0.6)" stroke="#5a1a12" stroke-width="0.55"/>
<circle cx="112.71" cy="155.38" r="1.95" fill="rgba(160,66,50,0.6)" stroke="#5a1a12" stroke-width="0.55"/>
<circle cx="110.51" cy="157.86" r="1.95" fill="rgba(160,66,50,0.6)" stroke="#5a1a12" stroke-width="0.55"/>
<circle cx="105.76" cy="145.49" r="1.95" fill="rgba(160,66,50,0.6)" stroke="#5a1a12" stroke-width="0.55"/>
<circle cx="106.94" cy="153.37" r="1.95" fill="rgba(160,66,50,0.6)" stroke="#5a1a12" stroke-width="0.55"/>
<circle cx="108.63" cy="155.3" r="1.95" fill="rgba(160,66,50,0.6)" stroke="#5a1a12" stroke-width="0.55"/>
<circle cx="104.03" cy="149.82" r="1.95" fill="rgba(160,66,50,0.6)" stroke="#5a1a12" stroke-width="0.55"/>
<circle cx="109.77" cy="154.86" r="1.95" fill="rgba(160,66,50,0.6)" stroke="#5a1a12" stroke-width="0.55"/>
<circle cx="113.44" cy="140.14" r="1.95" fill="rgba(160,66,50,0.6)" stroke="#5a1a12" stroke-width="0.55"/>
<circle cx="110.23" cy="155.73" r="1.95" fill="rgba(160,66,50,0.6)" stroke="#5a1a12" stroke-width="0.55"/>
<circle cx="106.38" cy="155.19" r="1.95" fill="rgba(160,66,50,0.6)" stroke="#5a1a12" stroke-width="0.55"/>
<circle cx="109.92" cy="155.93" r="1.95" fill="rgba(160,66,50,0.6)" stroke="#5a1a12" stroke-width="0.55"/>
<circle cx="109.62" cy="158.01" r="1.95" fill="rgba(160,66,50,0.6)" stroke="#5a1a12" stroke-width="0.55"/>
<circle cx="104.77" cy="128.49" r="1.95" fill="rgba(160,66,50,0.6)" stroke="#5a1a12" stroke-width="0.55"/>
<circle cx="110.85" cy="146.35" r="1.95" fill="rgba(160,66,50,0.6)" stroke="#5a1a12" stroke-width="0.55"/>
<circle cx="111.7" cy="148.64" r="1.95" fill="rgba(160,66,50,0.6)" stroke="#5a1a12" stroke-width="0.55"/>
<circle cx="112.38" cy="157.53" r="1.95" fill="rgba(160,66,50,0.6)" stroke="#5a1a12" stroke-width="0.55"/>
<circle cx="108.69" cy="156.99" r="1.95" fill="rgba(160,66,50,0.6)" stroke="#5a1a12" stroke-width="0.55"/>
<circle cx="109.87" cy="156.6" r="1.95" fill="rgba(160,66,50,0.6)" stroke="#5a1a12" stroke-width="0.55"/>
<circle cx="106.03" cy="153.84" r="1.95" fill="rgba(160,66,50,0.6)" stroke="#5a1a12" stroke-width="0.55"/>
<circle cx="110.67" cy="156.17" r="1.95" fill="rgba(160,66,50,0.6)" stroke="#5a1a12" stroke-width="0.55"/>
<circle cx="104.19" cy="148.42" r="1.95" fill="rgba(160,66,50,0.6)" stroke="#5a1a12" stroke-width="0.55"/>
<circle cx="108.71" cy="147.78" r="1.95" fill="rgba(160,66,50,0.6)" stroke="#5a1a12" stroke-width="0.55"/>
<circle cx="111.19" cy="143.39" r="1.95" fill="rgba(160,66,50,0.6)" stroke="#5a1a12" stroke-width="0.55"/>
<circle cx="108.9" cy="138.86" r="1.95" fill="rgba(160,66,50,0.6)" stroke="#5a1a12" stroke-width="0.55"/>
<circle cx="112.9" cy="152.09" r="1.95" fill="rgba(160,66,50,0.6)" stroke="#5a1a12" stroke-width="0.55"/>
<circle cx="109.83" cy="150.22" r="1.95" fill="rgba(160,66,50,0.6)" stroke="#5a1a12" stroke-width="0.55"/>
<circle cx="109.36" cy="133.32" r="1.95" fill="rgba(160,66,50,0.6)" stroke="#5a1a12" stroke-width="0.55"/>
<circle cx="30.72" cy="136.98" r="1.95" fill="rgba(240,232,170,0.7)" stroke="#b8a850" stroke-width="0.55"/>
<circle cx="45.06" cy="148.5" r="1.95" fill="rgba(240,232,170,0.7)" stroke="#b8a850" stroke-width="0.55"/>
<circle cx="37.14" cy="157.62" r="1.95" fill="rgba(240,232,170,0.7)" stroke="#b8a850" stroke-width="0.55"/>
<circle cx="44.93" cy="157.62" r="1.95" fill="rgba(240,232,170,0.7)" stroke="#b8a850" stroke-width="0.55"/>
<line x1="137.7" y1="61.5" x2="137.7" y2="158.4" stroke="#e2e2ea" stroke-width="0.55"/>
<line x1="150" y1="61.5" x2="150" y2="158.4" stroke="#e2e2ea" stroke-width="0.55"/>
<line x1="162.3" y1="61.5" x2="162.3" y2="158.4" stroke="#e2e2ea" stroke-width="0.55"/>
<text x="135.6" y="160.2" font-size="5.2" text-anchor="end" fill="#333" stroke="#333" stroke-width="0.12">0</text>
<line x1="136.2" y1="158.4" x2="137.7" y2="158.4" stroke="#999" stroke-width="0.4"/>
<text x="135.6" y="150.45" font-size="5.2" text-anchor="end" fill="#333" stroke="#333" stroke-width="0.12">1</text>
<line x1="136.2" y1="148.65" x2="137.7" y2="148.65" stroke="#999" stroke-width="0.4"/>
<text x="135.6" y="140.7" font-size="5.2" text-anchor="end" fill="#333" stroke="#333" stroke-width="0.12">2</text>
<line x1="136.2" y1="138.9" x2="137.7" y2="138.9" stroke="#999" stroke-width="0.4"/>
<text x="135.6" y="130.95" font-size="5.2" text-anchor="end" fill="#333" stroke="#333" stroke-width="0.12">3</text>
<line x1="136.2" y1="129.15" x2="137.7" y2="129.15" stroke="#999" stroke-width="0.4"/>
<text x="135.6" y="121.2" font-size="5.2" text-anchor="end" fill="#333" stroke="#333" stroke-width="0.12">4</text>
<line x1="136.2" y1="119.4" x2="137.7" y2="119.4" stroke="#999" stroke-width="0.4"/>
<text x="135.6" y="111.45" font-size="5.2" text-anchor="end" fill="#333" stroke="#333" stroke-width="0.12">5</text>
<line x1="136.2" y1="109.65" x2="137.7" y2="109.65" stroke="#999" stroke-width="0.4"/>
<text x="135.6" y="101.7" font-size="5.2" text-anchor="end" fill="#333" stroke="#333" stroke-width="0.12">6</text>
<line x1="136.2" y1="99.9" x2="137.7" y2="99.9" stroke="#999" stroke-width="0.4"/>
<text x="135.6" y="91.95" font-size="5.2" text-anchor="end" fill="#333" stroke="#333" stroke-width="0.12">7</text>
<line x1="136.2" y1="90.15" x2="137.7" y2="90.15" stroke="#999" stroke-width="0.4"/>
<text x="135.6" y="82.2" font-size="5.2" text-anchor="end" fill="#333" stroke="#333" stroke-width="0.12">8</text>
<line x1="136.2" y1="80.4" x2="137.7" y2="80.4" stroke="#999" stroke-width="0.4"/>
<text x="135.6" y="72.45" font-size="5.2" text-anchor="end" fill="#333" stroke="#333" stroke-width="0.12">9</text>
<line x1="136.2" y1="70.65" x2="137.7" y2="70.65" stroke="#999" stroke-width="0.4"/>
<text x="135.6" y="62.7" font-size="5.2" text-anchor="end" fill="#333" stroke="#333" stroke-width="0.12">10</text>
<line x1="136.2" y1="60.9" x2="137.7" y2="60.9" stroke="#999" stroke-width="0.4"/>
<line x1="137.7" y1="61.5" x2="137.7" y2="158.4" stroke="#bbb" stroke-width="0.5"/>
<line x1="137.7" y1="158.4" x2="168.5" y2="158.4" stroke="#bbb" stroke-width="0.5"/>
<text x="137.7" y="165.9" font-size="5.2" text-anchor="middle" fill="#333" stroke="#333" stroke-width="0.12">0</text>
<text x="150" y="165.9" font-size="5.2" text-anchor="middle" fill="#333" stroke="#333" stroke-width="0.12">20</text>
<text x="162.3" y="165.9" font-size="5.2" text-anchor="middle" fill="#333" stroke="#333" stroke-width="0.12">40</text>
<text x="152.9" y="173.8" font-size="5.55" text-anchor="middle" fill="#111" stroke="#111" stroke-width="0.1" font-weight="bold">Count</text>
<rect x="137.7" y="153.53" width="22.75" height="4.88" fill="rgb(184,98,80)" stroke="#8a3a30" stroke-width="0.35"/>
<rect x="137.7" y="148.65" width="28.29" height="4.88" fill="rgb(184,98,80)" stroke="#8a3a30" stroke-width="0.35"/>
<rect x="137.7" y="143.78" width="13.53" height="4.88" fill="rgb(184,98,80)" stroke="#8a3a30" stroke-width="0.35"/>
<rect x="137.7" y="138.9" width="14.14" height="4.88" fill="rgb(184,98,80)" stroke="#8a3a30" stroke-width="0.35"/>
<rect x="137.7" y="134.03" width="9.22" height="4.88" fill="rgb(184,98,80)" stroke="#8a3a30" stroke-width="0.35"/>
<rect x="137.7" y="129.15" width="7.38" height="4.88" fill="rgb(184,98,80)" stroke="#8a3a30" stroke-width="0.35"/>
<rect x="137.7" y="124.28" width="3.69" height="4.88" fill="rgb(184,98,80)" stroke="#8a3a30" stroke-width="0.35"/>
<rect x="137.7" y="119.4" width="3.69" height="4.88" fill="rgb(184,98,80)" stroke="#8a3a30" stroke-width="0.35"/>
<rect x="137.7" y="114.53" width="3.69" height="4.88" fill="rgb(184,98,80)" stroke="#8a3a30" stroke-width="0.35"/>
<rect x="137.7" y="109.65" width="1.23" height="4.88" fill="rgb(184,98,80)" stroke="#8a3a30" stroke-width="0.35"/>
<rect x="137.7" y="153.53" width="25.83" height="4.88" fill="rgba(110,160,220,0.7)" stroke="#5a80b0" stroke-width="0.35"/>
<rect x="137.7" y="148.65" width="14.14" height="4.88" fill="rgba(110,160,220,0.7)" stroke="#5a80b0" stroke-width="0.35"/>
<rect x="137.7" y="143.78" width="14.14" height="4.88" fill="rgba(110,160,220,0.7)" stroke="#5a80b0" stroke-width="0.35"/>
<rect x="137.7" y="138.9" width="6.15" height="4.88" fill="rgba(110,160,220,0.7)" stroke="#5a80b0" stroke-width="0.35"/>
<rect x="137.7" y="134.03" width="4.92" height="4.88" fill="rgba(110,160,220,0.7)" stroke="#5a80b0" stroke-width="0.35"/>
<rect x="137.7" y="129.15" width="8" height="4.88" fill="rgba(110,160,220,0.7)" stroke="#5a80b0" stroke-width="0.35"/>
<rect x="137.7" y="124.28" width="4.3" height="4.88" fill="rgba(110,160,220,0.7)" stroke="#5a80b0" stroke-width="0.35"/>
<rect x="137.7" y="119.4" width="4.3" height="4.88" fill="rgba(110,160,220,0.7)" stroke="#5a80b0" stroke-width="0.35"/>
<rect x="137.7" y="114.53" width="1.84" height="4.88" fill="rgba(110,160,220,0.7)" stroke="#5a80b0" stroke-width="0.35"/>
<rect x="137.7" y="109.65" width="1.54" height="4.88" fill="rgba(110,160,220,0.7)" stroke="#5a80b0" stroke-width="0.35"/>
<rect x="137.7" y="104.78" width="6.15" height="4.88" fill="rgba(110,160,220,0.7)" stroke="#5a80b0" stroke-width="0.35"/>
<rect x="137.7" y="99.9" width="0.61" height="4.88" fill="rgba(110,160,220,0.7)" stroke="#5a80b0" stroke-width="0.35"/>
<rect x="137.7" y="95.03" width="1.23" height="4.88" fill="rgba(110,160,220,0.7)" stroke="#5a80b0" stroke-width="0.35"/>
<rect x="137.7" y="90.15" width="0.61" height="4.88" fill="rgba(110,160,220,0.7)" stroke="#5a80b0" stroke-width="0.35"/>
<rect x="137.7" y="80.4" width="0.61" height="4.88" fill="rgba(110,160,220,0.7)" stroke="#5a80b0" stroke-width="0.35"/>
<rect x="137.7" y="75.53" width="1.23" height="4.88" fill="rgba(110,160,220,0.7)" stroke="#5a80b0" stroke-width="0.35"/>
<rect x="137.7" y="70.65" width="0.61" height="4.88" fill="rgba(110,160,220,0.7)" stroke="#5a80b0" stroke-width="0.35"/>
<rect x="137.7" y="65.78" width="0.61" height="4.88" fill="rgba(110,160,220,0.7)" stroke="#5a80b0" stroke-width="0.35"/>
<rect x="137.7" y="60.9" width="0.61" height="4.88" fill="rgba(110,160,220,0.7)" stroke="#5a80b0" stroke-width="0.35"/>
<text x="184.5" y="8.9" font-size="10.6" text-anchor="start" fill="#1a1a1a" stroke="#1a1a1a" stroke-width="0.3" font-family='"Liberation Sans", sans-serif'>(b)</text>
<line x1="209.1" y1="29" x2="268.8" y2="29" stroke="#dcdcdc" stroke-width="0.5"/>
<line x1="209.1" y1="49.1" x2="268.8" y2="49.1" stroke="#dcdcdc" stroke-width="0.5"/>
<line x1="209.1" y1="69.2" x2="268.8" y2="69.2" stroke="#dcdcdc" stroke-width="0.5"/>
<rect x="209.1" y="8.9" width="59.7" height="80.4" fill="none" stroke="#d4d4d4" stroke-width="0.5"/>
<line x1="209.1" y1="8.9" x2="209.1" y2="89.3" stroke="#aaa" stroke-width="0.5"/>
<text x="207.2" y="10.7" font-size="5.2" text-anchor="end" fill="#333" stroke="#333" stroke-width="0.12">70</text>
<line x1="207.6" y1="8.9" x2="209.1" y2="8.9" stroke="#999" stroke-width="0.4"/>
<text x="207.2" y="30.8" font-size="5.2" text-anchor="end" fill="#333" stroke="#333" stroke-width="0.12">60</text>
<line x1="207.6" y1="29" x2="209.1" y2="29" stroke="#999" stroke-width="0.4"/>
<text x="207.2" y="50.9" font-size="5.2" text-anchor="end" fill="#333" stroke="#333" stroke-width="0.12">50</text>
<line x1="207.6" y1="49.1" x2="209.1" y2="49.1" stroke="#999" stroke-width="0.4"/>
<text x="207.2" y="71" font-size="5.2" text-anchor="end" fill="#333" stroke="#333" stroke-width="0.12">40</text>
<line x1="207.6" y1="69.2" x2="209.1" y2="69.2" stroke="#999" stroke-width="0.4"/>
<text x="207.2" y="91.1" font-size="5.2" text-anchor="end" fill="#333" stroke="#333" stroke-width="0.12">30</text>
<line x1="207.6" y1="89.3" x2="209.1" y2="89.3" stroke="#999" stroke-width="0.4"/>
<text x="197.4" y="49.5" font-size="5.7" text-anchor="middle" fill="#111" stroke="#111" stroke-width="0.1" font-weight="bold" transform="rotate(-90 197.4 49.5)">GC (%)</text>
<rect x="209.3" y="8.5" width="3.5" height="1.2" fill="#e0a0a0" stroke="none" stroke-width="0.4" opacity="0.92"/>
<rect x="209.3" y="10.19" width="3.5" height="1.34" fill="#b83a3a" stroke="none" stroke-width="0.4" opacity="0.92"/>
<rect x="209.3" y="12.42" width="3.5" height="1.57" fill="#a82c2c" stroke="none" stroke-width="0.4" opacity="0.92"/>
<rect x="209.3" y="14.32" width="3.5" height="1.63" fill="#9e2424" stroke="none" stroke-width="0.4" opacity="0.92"/>
<rect x="209.3" y="16.16" width="3.5" height="2.12" fill="#c45858" stroke="none" stroke-width="0.4" opacity="0.92"/>
<rect x="209.3" y="18.53" width="3.5" height="1.95" fill="#b83a3a" stroke="none" stroke-width="0.4" opacity="0.92"/>
<rect x="209.3" y="21.33" width="3.5" height="1.83" fill="#c45858" stroke="none" stroke-width="0.4" opacity="0.92"/>
<rect x="209.3" y="24.06" width="3.5" height="1.89" fill="#c45858" stroke="none" stroke-width="0.4" opacity="0.92"/>
<rect x="209.3" y="26.57" width="3.5" height="1.04" fill="#8a1c1c" stroke="none" stroke-width="0.4" opacity="0.92"/>
<rect x="209.3" y="28.19" width="3.5" height="1.83" fill="#e0a0a0" stroke="none" stroke-width="0.4" opacity="0.92"/>
<rect x="209.3" y="30.89" width="3.5" height="1.44" fill="#b83a3a" stroke="none" stroke-width="0.4" opacity="0.92"/>
<rect x="209.3" y="33.05" width="3.5" height="1.11" fill="#9e2424" stroke="none" stroke-width="0.4" opacity="0.92"/>
<rect x="209.3" y="34.68" width="3.5" height="1.66" fill="#8a1c1c" stroke="none" stroke-width="0.4" opacity="0.92"/>
<rect x="209.3" y="36.82" width="3.5" height="1.18" fill="#e0a0a0" stroke="none" stroke-width="0.4" opacity="0.92"/>
<rect x="209.3" y="38.23" width="3.5" height="2.04" fill="#b83a3a" stroke="none" stroke-width="0.4" opacity="0.92"/>
<rect x="209.3" y="40.52" width="3.5" height="1.24" fill="#e0a0a0" stroke="none" stroke-width="0.4" opacity="0.92"/>
<rect x="209.3" y="42.63" width="3.5" height="2.07" fill="#a82c2c" stroke="none" stroke-width="0.4" opacity="0.92"/>
<rect x="209.3" y="45.6" width="3.5" height="1.09" fill="#a82c2c" stroke="none" stroke-width="0.4" opacity="0.92"/>
<rect x="209.3" y="47.22" width="3.5" height="1.99" fill="#b83a3a" stroke="none" stroke-width="0.4" opacity="0.92"/>
<rect x="209.3" y="49.65" width="3.5" height="1.18" fill="#a82c2c" stroke="none" stroke-width="0.4" opacity="0.92"/>
<rect x="209.3" y="51.31" width="3.5" height="1.44" fill="#c45858" stroke="none" stroke-width="0.4" opacity="0.92"/>
<rect x="209.3" y="53.3" width="3.5" height="1.38" fill="#c45858" stroke="none" stroke-width="0.4" opacity="0.92"/>
<rect x="209.3" y="55.15" width="3.5" height="1.03" fill="#9e2424" stroke="none" stroke-width="0.4" opacity="0.92"/>
<rect x="209.3" y="56.49" width="3.5" height="1.86" fill="#c45858" stroke="none" stroke-width="0.4" opacity="0.92"/>
<rect x="209.3" y="58.56" width="3.5" height="1.08" fill="#a82c2c" stroke="none" stroke-width="0.4" opacity="0.92"/>
<rect x="209.3" y="60.36" width="3.5" height="1.27" fill="#a82c2c" stroke="none" stroke-width="0.4" opacity="0.92"/>
<rect x="209.3" y="62.05" width="3.5" height="2.18" fill="#9e2424" stroke="none" stroke-width="0.4" opacity="0.92"/>
<rect x="209.3" y="64.56" width="3.5" height="1.2" fill="#8a1c1c" stroke="none" stroke-width="0.4" opacity="0.92"/>
<rect x="209.3" y="59.65" width="2.4" height="1" fill="#dc9a9a" stroke="none" stroke-width="0.4" opacity="0.85"/>
<rect x="209.3" y="62.67" width="2.4" height="1" fill="#dc9a9a" stroke="none" stroke-width="0.4" opacity="0.85"/>
<rect x="209.3" y="64.68" width="2.4" height="1" fill="#dc9a9a" stroke="none" stroke-width="0.4" opacity="0.85"/>
<rect x="209.3" y="67.69" width="2.4" height="1" fill="#dc9a9a" stroke="none" stroke-width="0.4" opacity="0.85"/>
<rect x="209.3" y="71.71" width="2.4" height="1" fill="#dc9a9a" stroke="none" stroke-width="0.4" opacity="0.85"/>
<rect x="209.3" y="75.73" width="2.4" height="1" fill="#dc9a9a" stroke="none" stroke-width="0.4" opacity="0.85"/>
<rect x="209.3" y="78.75" width="2.4" height="1" fill="#dc9a9a" stroke="none" stroke-width="0.4" opacity="0.85"/>
<rect x="209.3" y="81.77" width="2.4" height="1" fill="#dc9a9a" stroke="none" stroke-width="0.4" opacity="0.85"/>
<rect x="213.8" y="68.08" width="3" height="1" fill="#e4b050" stroke="none" stroke-width="0.4" opacity="0.8"/>
<rect x="213.8" y="46.5" width="3" height="1" fill="#e4b050" stroke="none" stroke-width="0.4" opacity="0.8"/>
<rect x="213.8" y="38.06" width="3" height="1" fill="#e4b050" stroke="none" stroke-width="0.4" opacity="0.8"/>
<rect x="213.8" y="72.43" width="3" height="1" fill="#e4b050" stroke="none" stroke-width="0.4" opacity="0.8"/>
<rect x="213.8" y="76.3" width="3" height="1" fill="#e4b050" stroke="none" stroke-width="0.4" opacity="0.8"/>
<rect x="213.8" y="38.39" width="3" height="1" fill="#e4b050" stroke="none" stroke-width="0.4" opacity="0.8"/>
<rect x="213.8" y="76.04" width="3" height="1" fill="#e4b050" stroke="none" stroke-width="0.4" opacity="0.8"/>
<rect x="213.8" y="63.24" width="3" height="1" fill="#e4b050" stroke="none" stroke-width="0.4" opacity="0.8"/>
<rect x="213.8" y="76.75" width="3" height="1" fill="#e4b050" stroke="none" stroke-width="0.4" opacity="0.8"/>
<rect x="213.8" y="82.94" width="3" height="1" fill="#e4b050" stroke="none" stroke-width="0.4" opacity="0.8"/>
<rect x="213.8" y="58.67" width="3" height="1" fill="#e4b050" stroke="none" stroke-width="0.4" opacity="0.8"/>
<rect x="213.8" y="51.72" width="3" height="1" fill="#e4b050" stroke="none" stroke-width="0.4" opacity="0.8"/>
<rect x="213.8" y="72.64" width="3" height="1" fill="#e4b050" stroke="none" stroke-width="0.4" opacity="0.8"/>
<rect x="213.8" y="38.66" width="3" height="1" fill="#e4b050" stroke="none" stroke-width="0.4" opacity="0.8"/>
<rect x="213.8" y="76.58" width="3" height="1" fill="#e4b050" stroke="none" stroke-width="0.4" opacity="0.8"/>
<rect x="213.8" y="47.5" width="3" height="1" fill="#e4b050" stroke="none" stroke-width="0.4" opacity="0.8"/>
<rect x="213.8" y="84.06" width="3" height="1" fill="#e4b050" stroke="none" stroke-width="0.4" opacity="0.8"/>
<rect x="213.8" y="67.36" width="3" height="1" fill="#e4b050" stroke="none" stroke-width="0.4" opacity="0.8"/>
<rect x="213.8" y="59.35" width="3" height="1" fill="#e4b050" stroke="none" stroke-width="0.4" opacity="0.8"/>
<rect x="213.8" y="51.27" width="3" height="1" fill="#e4b050" stroke="none" stroke-width="0.4" opacity="0.8"/>
<rect x="213.8" y="37.73" width="3" height="1" fill="#e4b050" stroke="none" stroke-width="0.4" opacity="0.8"/>
<rect x="213.8" y="72.42" width="3" height="1" fill="#e4b050" stroke="none" stroke-width="0.4" opacity="0.8"/>
<rect x="213.8" y="56.55" width="3" height="1" fill="#e4b050" stroke="none" stroke-width="0.4" opacity="0.8"/>
<rect x="213.8" y="62.71" width="3" height="1" fill="#e4b050" stroke="none" stroke-width="0.4" opacity="0.8"/>
<rect x="213.8" y="64.3" width="3" height="1" fill="#e4b050" stroke="none" stroke-width="0.4" opacity="0.8"/>
<rect x="213.8" y="47.52" width="3" height="1" fill="#e4b050" stroke="none" stroke-width="0.4" opacity="0.8"/>
<rect x="213.8" y="81.89" width="3" height="1" fill="#e4b050" stroke="none" stroke-width="0.4" opacity="0.8"/>
<rect x="213.8" y="70.31" width="3" height="1" fill="#e4b050" stroke="none" stroke-width="0.4" opacity="0.8"/>
<rect x="213.8" y="41.9" width="3" height="1" fill="#e4b050" stroke="none" stroke-width="0.4" opacity="0.8"/>
<rect x="213.8" y="51.69" width="3" height="1" fill="#e4b050" stroke="none" stroke-width="0.4" opacity="0.8"/>
<rect x="213.8" y="83.03" width="3" height="1" fill="#e4b050" stroke="none" stroke-width="0.4" opacity="0.8"/>
<rect x="213.8" y="72.29" width="3" height="1" fill="#e4b050" stroke="none" stroke-width="0.4" opacity="0.8"/>
<rect x="213.8" y="64.96" width="3" height="1" fill="#e4b050" stroke="none" stroke-width="0.4" opacity="0.8"/>
<rect x="213.8" y="41.04" width="3" height="1" fill="#e4b050" stroke="none" stroke-width="0.4" opacity="0.8"/>
<rect x="213.8" y="22.47" width="3" height="1" fill="#e4b050" stroke="none" stroke-width="0.4" opacity="0.8"/>
<rect x="213.8" y="20.46" width="3" height="1" fill="#e4b050" stroke="none" stroke-width="0.4" opacity="0.8"/>
<rect x="213.8" y="15.43" width="3" height="1" fill="#e4b050" stroke="none" stroke-width="0.4" opacity="0.8"/>
<rect x="218.3" y="59.29" width="2.8" height="1" fill="#d8d070" stroke="none" stroke-width="0.4" opacity="0.6"/>
<rect x="218.3" y="74.34" width="2.8" height="1" fill="#d8d070" stroke="none" stroke-width="0.4" opacity="0.6"/>
<rect x="218.3" y="74.19" width="2.8" height="1" fill="#d8d070" stroke="none" stroke-width="0.4" opacity="0.6"/>
<rect x="218.3" y="56.79" width="2.8" height="1" fill="#d8d070" stroke="none" stroke-width="0.4" opacity="0.6"/>
<rect x="218.3" y="77.26" width="2.8" height="1" fill="#d8d070" stroke="none" stroke-width="0.4" opacity="0.6"/>
<rect x="218.3" y="74.54" width="2.8" height="1" fill="#d8d070" stroke="none" stroke-width="0.4" opacity="0.6"/>
<rect x="218.3" y="59.14" width="2.8" height="1" fill="#d8d070" stroke="none" stroke-width="0.4" opacity="0.6"/>
<rect x="218.3" y="51.27" width="2.8" height="1" fill="#d8d070" stroke="none" stroke-width="0.4" opacity="0.6"/>
<rect x="218.3" y="64.31" width="2.8" height="1" fill="#d8d070" stroke="none" stroke-width="0.4" opacity="0.6"/>
<rect x="218.3" y="50.02" width="2.8" height="1" fill="#d8d070" stroke="none" stroke-width="0.4" opacity="0.6"/>
<rect x="218.3" y="51.63" width="2.8" height="1" fill="#d8d070" stroke="none" stroke-width="0.4" opacity="0.6"/>
<rect x="218.3" y="67.72" width="2.8" height="1" fill="#d8d070" stroke="none" stroke-width="0.4" opacity="0.6"/>
<rect x="222.1" y="70.25" width="2.8" height="1" fill="#98c488" stroke="none" stroke-width="0.4" opacity="0.6"/>
<rect x="222.1" y="61.17" width="2.8" height="1" fill="#98c488" stroke="none" stroke-width="0.4" opacity="0.6"/>
<rect x="222.1" y="44.12" width="2.8" height="1" fill="#98c488" stroke="none" stroke-width="0.4" opacity="0.6"/>
<rect x="222.1" y="56.29" width="2.8" height="1" fill="#98c488" stroke="none" stroke-width="0.4" opacity="0.6"/>
<rect x="222.1" y="38.64" width="2.8" height="1" fill="#98c488" stroke="none" stroke-width="0.4" opacity="0.6"/>
<rect x="222.1" y="56.61" width="2.8" height="1" fill="#98c488" stroke="none" stroke-width="0.4" opacity="0.6"/>
<rect x="222.1" y="70.88" width="2.8" height="1" fill="#98c488" stroke="none" stroke-width="0.4" opacity="0.6"/>
<rect x="222.1" y="51.9" width="2.8" height="1" fill="#98c488" stroke="none" stroke-width="0.4" opacity="0.6"/>
<rect x="222.1" y="70.86" width="2.8" height="1" fill="#98c488" stroke="none" stroke-width="0.4" opacity="0.6"/>
<rect x="222.1" y="46.32" width="2.8" height="1" fill="#98c488" stroke="none" stroke-width="0.4" opacity="0.6"/>
<rect x="222.1" y="60.6" width="2.8" height="1" fill="#98c488" stroke="none" stroke-width="0.4" opacity="0.6"/>
<rect x="222.1" y="71.43" width="2.8" height="1" fill="#98c488" stroke="none" stroke-width="0.4" opacity="0.6"/>
<rect x="222.1" y="46.53" width="2.8" height="1" fill="#98c488" stroke="none" stroke-width="0.4" opacity="0.6"/>
<rect x="222.1" y="65.58" width="2.8" height="1" fill="#98c488" stroke="none" stroke-width="0.4" opacity="0.6"/>
<rect x="226.1" y="64.85" width="2.8" height="1" fill="#88a8b0" stroke="none" stroke-width="0.4" opacity="0.65"/>
<rect x="226.1" y="66.7" width="2.8" height="1" fill="#88a8b0" stroke="none" stroke-width="0.4" opacity="0.65"/>
<rect x="226.1" y="49.67" width="2.8" height="1" fill="#88a8b0" stroke="none" stroke-width="0.4" opacity="0.65"/>
<rect x="226.1" y="62.56" width="2.8" height="1" fill="#88a8b0" stroke="none" stroke-width="0.4" opacity="0.65"/>
<rect x="226.1" y="56.24" width="2.8" height="1" fill="#88a8b0" stroke="none" stroke-width="0.4" opacity="0.65"/>
<rect x="226.1" y="54.59" width="2.8" height="1" fill="#88a8b0" stroke="none" stroke-width="0.4" opacity="0.65"/>
<rect x="226.1" y="49.6" width="2.8" height="1" fill="#88a8b0" stroke="none" stroke-width="0.4" opacity="0.65"/>
<rect x="226.1" y="64.68" width="2.8" height="1" fill="#88a8b0" stroke="none" stroke-width="0.4" opacity="0.65"/>
<rect x="228.5" y="15.03" width="2.6" height="1" fill="#8a8a9a" stroke="none" stroke-width="0.4" opacity="0.7"/>
<rect x="228.5" y="35.53" width="2.6" height="1" fill="#8a8a9a" stroke="none" stroke-width="0.4" opacity="0.7"/>
<rect x="228.5" y="65.69" width="2.6" height="1" fill="#8a8a9a" stroke="none" stroke-width="0.4" opacity="0.7"/>
<rect x="228.5" y="76.74" width="2.6" height="1" fill="#8a8a9a" stroke="none" stroke-width="0.4" opacity="0.7"/>
<rect x="228.3" y="50.21" width="3" height="1" fill="#6a86b8" stroke="none" stroke-width="0.4" opacity="0.8"/>
<rect x="228.3" y="53.02" width="3" height="1" fill="#6a86b8" stroke="none" stroke-width="0.4" opacity="0.8"/>
<rect x="232" y="20.86" width="2.6" height="1" fill="#8a8a8a" stroke="none" stroke-width="0.4" opacity="0.75"/>
<rect x="232" y="62.67" width="2.6" height="1" fill="#8a8a8a" stroke="none" stroke-width="0.4" opacity="0.75"/>
<rect x="232" y="73.72" width="2.6" height="1" fill="#8a8a8a" stroke="none" stroke-width="0.4" opacity="0.75"/>
<rect x="232" y="85.78" width="2.6" height="1" fill="#8a8a8a" stroke="none" stroke-width="0.4" opacity="0.75"/>
<rect x="236.1" y="38.55" width="2.8" height="1" fill="#2c2c66" stroke="none" stroke-width="0.4" opacity="0.85"/>
<rect x="236.1" y="58.65" width="2.8" height="1" fill="#2c2c66" stroke="none" stroke-width="0.4" opacity="0.85"/>
<rect x="236.1" y="63.67" width="2.8" height="1" fill="#2c2c66" stroke="none" stroke-width="0.4" opacity="0.85"/>
<rect x="239.7" y="36.54" width="2.6" height="1" fill="#dc8c9c" stroke="none" stroke-width="0.4" opacity="0.6"/>
<rect x="239.7" y="40.56" width="2.6" height="1" fill="#dc8c9c" stroke="none" stroke-width="0.4" opacity="0.6"/>
<rect x="239.7" y="68.7" width="2.6" height="1" fill="#dc8c9c" stroke="none" stroke-width="0.4" opacity="0.6"/>
<rect x="243.5" y="26.49" width="2.6" height="1" fill="#9a9a9a" stroke="none" stroke-width="0.4" opacity="0.7"/>
<rect x="243.5" y="32.52" width="2.6" height="1" fill="#9a9a9a" stroke="none" stroke-width="0.4" opacity="0.7"/>
<rect x="247.5" y="50.21" width="2.6" height="1" fill="#9a9a9a" stroke="none" stroke-width="0.4" opacity="0.6"/>
<rect x="247.5" y="67.69" width="2.6" height="1" fill="#9a9a9a" stroke="none" stroke-width="0.4" opacity="0.6"/>
<rect x="251.4" y="53.62" width="2.6" height="1" fill="#aaaaaa" stroke="none" stroke-width="0.4" opacity="0.6"/>
<rect x="251.4" y="58.25" width="2.6" height="1" fill="#aaaaaa" stroke="none" stroke-width="0.4" opacity="0.6"/>
<rect x="258.3" y="67.49" width="2.6" height="1" fill="#999999" stroke="none" stroke-width="0.4" opacity="0.7"/>
<rect x="262.2" y="67.09" width="2.6" height="1" fill="#999999" stroke="none" stroke-width="0.4" opacity="0.7"/>
<rect x="266" y="20.86" width="2.6" height="1" fill="#6e6e6a" stroke="none" stroke-width="0.4" opacity="0.8"/>
<line x1="279.1" y1="29" x2="359.5" y2="29" stroke="#dcdcdc" stroke-width="0.5"/>
<line x1="279.1" y1="49.1" x2="359.5" y2="49.1" stroke="#dcdcdc" stroke-width="0.5"/>
<line x1="279.1" y1="69.2" x2="359.5" y2="69.2" stroke="#dcdcdc" stroke-width="0.5"/>
<line x1="305.9" y1="8.9" x2="305.9" y2="89.3" stroke="#dcdcdc" stroke-width="0.5"/>
<line x1="332.7" y1="8.9" x2="332.7" y2="89.3" stroke="#dcdcdc" stroke-width="0.5"/>
<rect x="279.1" y="8.9" width="80.4" height="80.4" fill="none" stroke="#d4d4d4" stroke-width="0.5"/>
<circle cx="294.58" cy="58.79" r="1.7" fill="#dca060" stroke="#533c24" stroke-width="0.55" fill-opacity="0.6"/>
<circle cx="291.67" cy="25.73" r="1.7" fill="#8e2a2a" stroke="#350f0f" stroke-width="0.55" fill-opacity="0.6"/>
<circle cx="303.38" cy="54.1" r="1.7" fill="#dca060" stroke="#533c24" stroke-width="0.55" fill-opacity="0.6"/>
<circle cx="305.96" cy="32.25" r="1.7" fill="#8e2a2a" stroke="#350f0f" stroke-width="0.55" fill-opacity="0.6"/>
<circle cx="295.48" cy="40.71" r="1.7" fill="#8e2a2a" stroke="#350f0f" stroke-width="0.55" fill-opacity="0.6"/>
<circle cx="292.6" cy="52.22" r="1.7" fill="#dca060" stroke="#533c24" stroke-width="0.55" fill-opacity="0.6"/>
<circle cx="300.88" cy="35.25" r="1.7" fill="#8e2a2a" stroke="#350f0f" stroke-width="0.55" fill-opacity="0.6"/>
<circle cx="296.41" cy="39.06" r="1.7" fill="#8e2a2a" stroke="#350f0f" stroke-width="0.55" fill-opacity="0.6"/>
<circle cx="293.83" cy="10.73" r="1.7" fill="#8e2a2a" stroke="#350f0f" stroke-width="0.55" fill-opacity="0.6"/>
<circle cx="301.54" cy="23.34" r="1.7" fill="#8e2a2a" stroke="#350f0f" stroke-width="0.55" fill-opacity="0.6"/>
<circle cx="299.89" cy="32.88" r="1.7" fill="#8e2a2a" stroke="#350f0f" stroke-width="0.55" fill-opacity="0.6"/>
<circle cx="295.28" cy="18.21" r="1.7" fill="#8e2a2a" stroke="#350f0f" stroke-width="0.55" fill-opacity="0.6"/>
<circle cx="298.99" cy="35.26" r="1.7" fill="#8e2a2a" stroke="#350f0f" stroke-width="0.55" fill-opacity="0.6"/>
<circle cx="290.35" cy="63.6" r="1.7" fill="#a6cc98" stroke="#3f4d39" stroke-width="0.55" fill-opacity="0.6"/>
<circle cx="323.05" cy="68.19" r="1.7" fill="#55559a" stroke="#20203a" stroke-width="0.55" fill-opacity="0.6"/>
<circle cx="294.57" cy="18.13" r="1.7" fill="#8e2a2a" stroke="#350f0f" stroke-width="0.55" fill-opacity="0.6"/>
<circle cx="294.57" cy="38.68" r="1.7" fill="#8e2a2a" stroke="#350f0f" stroke-width="0.55" fill-opacity="0.6"/>
<circle cx="307.89" cy="37.01" r="1.7" fill="#8e2a2a" stroke="#350f0f" stroke-width="0.55" fill-opacity="0.6"/>
<circle cx="293.63" cy="35.03" r="1.7" fill="#dca060" stroke="#533c24" stroke-width="0.55" fill-opacity="0.6"/>
<circle cx="297.44" cy="24.27" r="1.7" fill="#8e2a2a" stroke="#350f0f" stroke-width="0.55" fill-opacity="0.6"/>
<circle cx="294.82" cy="68.86" r="1.7" fill="#dca060" stroke="#533c24" stroke-width="0.55" fill-opacity="0.6"/>
<circle cx="292.56" cy="40.47" r="1.7" fill="#8e2a2a" stroke="#350f0f" stroke-width="0.55" fill-opacity="0.6"/>
<circle cx="310.63" cy="81.02" r="1.7" fill="#8aaaa6" stroke="#34403f" stroke-width="0.55" fill-opacity="0.6"/>
<circle cx="293.78" cy="42.18" r="1.7" fill="#8e2a2a" stroke="#350f0f" stroke-width="0.55" fill-opacity="0.6"/>
<circle cx="298.37" cy="15.01" r="1.7" fill="#8e2a2a" stroke="#350f0f" stroke-width="0.55" fill-opacity="0.6"/>
<circle cx="297.59" cy="62.53" r="1.7" fill="#dca060" stroke="#533c24" stroke-width="0.55" fill-opacity="0.6"/>
<circle cx="299.9" cy="49.8" r="1.7" fill="#8e2a2a" stroke="#350f0f" stroke-width="0.55" fill-opacity="0.6"/>
<circle cx="298.88" cy="67.89" r="1.7" fill="#8aaaa6" stroke="#34403f" stroke-width="0.55" fill-opacity="0.6"/>
<circle cx="288.12" cy="74.48" r="1.7" fill="#a6cc98" stroke="#3f4d39" stroke-width="0.55" fill-opacity="0.6"/>
<circle cx="297.86" cy="52.68" r="1.7" fill="#8e2a2a" stroke="#350f0f" stroke-width="0.55" fill-opacity="0.6"/>
<circle cx="296.86" cy="70.64" r="1.7" fill="#a6cc98" stroke="#3f4d39" stroke-width="0.55" fill-opacity="0.6"/>
<circle cx="301.24" cy="55.72" r="1.7" fill="#dca060" stroke="#533c24" stroke-width="0.55" fill-opacity="0.6"/>
<circle cx="302.99" cy="56.28" r="1.7" fill="#dca060" stroke="#533c24" stroke-width="0.55" fill-opacity="0.6"/>
<circle cx="298.03" cy="36.68" r="1.7" fill="#dca060" stroke="#533c24" stroke-width="0.55" fill-opacity="0.6"/>
<circle cx="308.66" cy="62.5" r="1.7" fill="#8aaaa6" stroke="#34403f" stroke-width="0.55" fill-opacity="0.6"/>
<circle cx="300.19" cy="40.46" r="1.7" fill="#8e2a2a" stroke="#350f0f" stroke-width="0.55" fill-opacity="0.6"/>
<circle cx="296.98" cy="25.94" r="1.7" fill="#8e2a2a" stroke="#350f0f" stroke-width="0.55" fill-opacity="0.6"/>
<circle cx="298.61" cy="35.9" r="1.7" fill="#8e2a2a" stroke="#350f0f" stroke-width="0.55" fill-opacity="0.6"/>
<circle cx="302.18" cy="46.99" r="1.7" fill="#dca060" stroke="#533c24" stroke-width="0.55" fill-opacity="0.6"/>
<circle cx="299.06" cy="67.86" r="1.7" fill="#e6d27a" stroke="#574f2e" stroke-width="0.55" fill-opacity="0.6"/>
<circle cx="287.52" cy="70.43" r="1.7" fill="#a6cc98" stroke="#3f4d39" stroke-width="0.55" fill-opacity="0.6"/>
<circle cx="293.36" cy="59.54" r="1.7" fill="#dca060" stroke="#533c24" stroke-width="0.55" fill-opacity="0.6"/>
<circle cx="304.96" cy="28" r="1.7" fill="#8e2a2a" stroke="#350f0f" stroke-width="0.55" fill-opacity="0.6"/>
<circle cx="297.65" cy="32.16" r="1.7" fill="#8e2a2a" stroke="#350f0f" stroke-width="0.55" fill-opacity="0.6"/>
<circle cx="301.99" cy="13.47" r="1.7" fill="#8e2a2a" stroke="#350f0f" stroke-width="0.55" fill-opacity="0.6"/>
<circle cx="291.99" cy="32.69" r="1.7" fill="#8e2a2a" stroke="#350f0f" stroke-width="0.55" fill-opacity="0.6"/>
<circle cx="290.28" cy="46.95" r="1.7" fill="#a6cc98" stroke="#3f4d39" stroke-width="0.55" fill-opacity="0.6"/>
<circle cx="306.24" cy="22.33" r="1.7" fill="#8e2a2a" stroke="#350f0f" stroke-width="0.55" fill-opacity="0.6"/>
<circle cx="297.25" cy="19.4" r="1.7" fill="#8e2a2a" stroke="#350f0f" stroke-width="0.55" fill-opacity="0.6"/>
<circle cx="298.11" cy="36.13" r="1.7" fill="#8e2a2a" stroke="#350f0f" stroke-width="0.55" fill-opacity="0.6"/>
<circle cx="311.26" cy="53.12" r="1.7" fill="#dca060" stroke="#533c24" stroke-width="0.55" fill-opacity="0.6"/>
<circle cx="302.22" cy="29.96" r="1.7" fill="#8e2a2a" stroke="#350f0f" stroke-width="0.55" fill-opacity="0.6"/>
<circle cx="304.83" cy="86.08" r="1.7" fill="#a6cc98" stroke="#3f4d39" stroke-width="0.55" fill-opacity="0.6"/>
<circle cx="298.77" cy="73.58" r="1.7" fill="#dca060" stroke="#533c24" stroke-width="0.55" fill-opacity="0.6"/>
<circle cx="287.1" cy="51.5" r="1.7" fill="#8aaaa6" stroke="#34403f" stroke-width="0.55" fill-opacity="0.6"/>
<circle cx="300.93" cy="25.75" r="1.7" fill="#8e2a2a" stroke="#350f0f" stroke-width="0.55" fill-opacity="0.6"/>
<circle cx="285.3" cy="48.96" r="1.7" fill="#dca060" stroke="#533c24" stroke-width="0.55" fill-opacity="0.6"/>
<circle cx="297.34" cy="54.43" r="1.7" fill="#8e2a2a" stroke="#350f0f" stroke-width="0.55" fill-opacity="0.6"/>
<circle cx="300.86" cy="48.96" r="1.7" fill="#dca060" stroke="#533c24" stroke-width="0.55" fill-opacity="0.6"/>
<circle cx="291.96" cy="44.43" r="1.7" fill="#8e2a2a" stroke="#350f0f" stroke-width="0.55" fill-opacity="0.6"/>
<circle cx="307.22" cy="24.47" r="1.7" fill="#8e2a2a" stroke="#350f0f" stroke-width="0.55" fill-opacity="0.6"/>
<circle cx="316.62" cy="68.19" r="1.7" fill="#e6d27a" stroke="#574f2e" stroke-width="0.55" fill-opacity="0.6"/>
<circle cx="293.88" cy="37.01" r="1.7" fill="#dca060" stroke="#533c24" stroke-width="0.55" fill-opacity="0.6"/>
<circle cx="289.03" cy="70.51" r="1.7" fill="#dca060" stroke="#533c24" stroke-width="0.55" fill-opacity="0.6"/>
<circle cx="300.91" cy="53.06" r="1.7" fill="#8e2a2a" stroke="#350f0f" stroke-width="0.55" fill-opacity="0.6"/>
<circle cx="289.23" cy="57.77" r="1.7" fill="#e6d27a" stroke="#574f2e" stroke-width="0.55" fill-opacity="0.6"/>
<circle cx="304.37" cy="53.84" r="1.7" fill="#8aaaa6" stroke="#34403f" stroke-width="0.55" fill-opacity="0.6"/>
<circle cx="296.95" cy="33.52" r="1.7" fill="#8e2a2a" stroke="#350f0f" stroke-width="0.55" fill-opacity="0.6"/>
<circle cx="308.3" cy="60.51" r="1.7" fill="#dca060" stroke="#533c24" stroke-width="0.55" fill-opacity="0.6"/>
<circle cx="297.13" cy="32.94" r="1.7" fill="#8e2a2a" stroke="#350f0f" stroke-width="0.55" fill-opacity="0.6"/>
<circle cx="301.92" cy="63.3" r="1.7" fill="#dca060" stroke="#533c24" stroke-width="0.55" fill-opacity="0.6"/>
<circle cx="290.43" cy="58.95" r="1.7" fill="#e6d27a" stroke="#574f2e" stroke-width="0.55" fill-opacity="0.6"/>
<circle cx="294.88" cy="43.31" r="1.7" fill="#dca060" stroke="#533c24" stroke-width="0.55" fill-opacity="0.6"/>
<circle cx="292.74" cy="50.67" r="1.7" fill="#dca060" stroke="#533c24" stroke-width="0.55" fill-opacity="0.6"/>
<circle cx="297.71" cy="19.85" r="1.7" fill="#8e2a2a" stroke="#350f0f" stroke-width="0.55" fill-opacity="0.6"/>
<circle cx="313.4" cy="60.15" r="1.7" fill="#dca060" stroke="#533c24" stroke-width="0.55" fill-opacity="0.6"/>
<circle cx="295.64" cy="57.22" r="1.7" fill="#dca060" stroke="#533c24" stroke-width="0.55" fill-opacity="0.6"/>
<circle cx="296.44" cy="49.34" r="1.7" fill="#dca060" stroke="#533c24" stroke-width="0.55" fill-opacity="0.6"/>
<circle cx="294.62" cy="27.11" r="1.7" fill="#8e2a2a" stroke="#350f0f" stroke-width="0.55" fill-opacity="0.6"/>
<circle cx="291.8" cy="79.33" r="1.7" fill="#8aaaa6" stroke="#34403f" stroke-width="0.55" fill-opacity="0.6"/>
<circle cx="298.91" cy="60.46" r="1.7" fill="#dca060" stroke="#533c24" stroke-width="0.55" fill-opacity="0.6"/>
<circle cx="294.06" cy="52.06" r="1.7" fill="#dca060" stroke="#533c24" stroke-width="0.55" fill-opacity="0.6"/>
<circle cx="303.2" cy="62.61" r="1.7" fill="#e6d27a" stroke="#574f2e" stroke-width="0.55" fill-opacity="0.6"/>
<circle cx="318.76" cy="10.91" r="1.7" fill="#8e2a2a" stroke="#350f0f" stroke-width="0.55" fill-opacity="0.6"/>
<circle cx="292.77" cy="48.52" r="1.7" fill="#dca060" stroke="#533c24" stroke-width="0.55" fill-opacity="0.6"/>
<circle cx="293.5" cy="62.31" r="1.7" fill="#a6cc98" stroke="#3f4d39" stroke-width="0.55" fill-opacity="0.6"/>
<circle cx="296.08" cy="79.54" r="1.7" fill="#8aaaa6" stroke="#34403f" stroke-width="0.55" fill-opacity="0.6"/>
<circle cx="313.4" cy="59.93" r="1.7" fill="#dca060" stroke="#533c24" stroke-width="0.55" fill-opacity="0.6"/>
<circle cx="285.05" cy="52.61" r="1.7" fill="#dca060" stroke="#533c24" stroke-width="0.55" fill-opacity="0.6"/>
<circle cx="305.26" cy="52.56" r="1.7" fill="#dca060" stroke="#533c24" stroke-width="0.55" fill-opacity="0.6"/>
<circle cx="299.5" cy="15" r="1.7" fill="#8e2a2a" stroke="#350f0f" stroke-width="0.55" fill-opacity="0.6"/>
<circle cx="296.1" cy="25.88" r="1.7" fill="#8e2a2a" stroke="#350f0f" stroke-width="0.55" fill-opacity="0.6"/>
<circle cx="295.12" cy="32.57" r="1.7" fill="#8e2a2a" stroke="#350f0f" stroke-width="0.55" fill-opacity="0.6"/>
<circle cx="291.55" cy="66.69" r="1.7" fill="#a6cc98" stroke="#3f4d39" stroke-width="0.55" fill-opacity="0.6"/>
<circle cx="291.98" cy="55" r="1.7" fill="#dca060" stroke="#533c24" stroke-width="0.55" fill-opacity="0.6"/>
<circle cx="299.11" cy="45.29" r="1.7" fill="#8e2a2a" stroke="#350f0f" stroke-width="0.55" fill-opacity="0.6"/>
<circle cx="308.58" cy="55.13" r="1.7" fill="#e6bcbc" stroke="#574747" stroke-width="0.55" fill-opacity="0.6"/>
<circle cx="314.48" cy="67.59" r="1.7" fill="#e6d27a" stroke="#574f2e" stroke-width="0.55" fill-opacity="0.6"/>
<circle cx="298.45" cy="53.62" r="1.7" fill="#dca060" stroke="#533c24" stroke-width="0.55" fill-opacity="0.6"/>
<circle cx="298.48" cy="60.81" r="1.7" fill="#e6d27a" stroke="#574f2e" stroke-width="0.55" fill-opacity="0.6"/>
<circle cx="296.89" cy="49.97" r="1.7" fill="#e6d27a" stroke="#574f2e" stroke-width="0.55" fill-opacity="0.6"/>
<circle cx="294.67" cy="38.08" r="1.7" fill="#dca060" stroke="#533c24" stroke-width="0.55" fill-opacity="0.6"/>
<circle cx="302.68" cy="27.61" r="1.7" fill="#8e2a2a" stroke="#350f0f" stroke-width="0.55" fill-opacity="0.6"/>
<circle cx="303.01" cy="31.04" r="1.7" fill="#8e2a2a" stroke="#350f0f" stroke-width="0.55" fill-opacity="0.6"/>
<circle cx="294.49" cy="42.16" r="1.7" fill="#8e2a2a" stroke="#350f0f" stroke-width="0.55" fill-opacity="0.6"/>
<circle cx="296.66" cy="26.79" r="1.7" fill="#8e2a2a" stroke="#350f0f" stroke-width="0.55" fill-opacity="0.6"/>
<circle cx="292.31" cy="65.93" r="1.7" fill="#dca060" stroke="#533c24" stroke-width="0.55" fill-opacity="0.6"/>
<circle cx="287.61" cy="66.58" r="1.7" fill="#a6cc98" stroke="#3f4d39" stroke-width="0.55" fill-opacity="0.6"/>
<circle cx="290.09" cy="53.41" r="1.7" fill="#dca060" stroke="#533c24" stroke-width="0.55" fill-opacity="0.6"/>
<circle cx="294.92" cy="35.03" r="1.7" fill="#dca060" stroke="#533c24" stroke-width="0.55" fill-opacity="0.6"/>
<circle cx="299.19" cy="30.34" r="1.7" fill="#8e2a2a" stroke="#350f0f" stroke-width="0.55" fill-opacity="0.6"/>
<circle cx="295.63" cy="28.54" r="1.7" fill="#8e2a2a" stroke="#350f0f" stroke-width="0.55" fill-opacity="0.6"/>
<circle cx="299.33" cy="43.02" r="1.7" fill="#8e2a2a" stroke="#350f0f" stroke-width="0.55" fill-opacity="0.6"/>
<circle cx="293.88" cy="42.94" r="1.7" fill="#8e2a2a" stroke="#350f0f" stroke-width="0.55" fill-opacity="0.6"/>
<circle cx="300.03" cy="39.52" r="1.7" fill="#8e2a2a" stroke="#350f0f" stroke-width="0.55" fill-opacity="0.6"/>
<circle cx="297.68" cy="28.07" r="1.7" fill="#8e2a2a" stroke="#350f0f" stroke-width="0.55" fill-opacity="0.6"/>
<circle cx="296.11" cy="60.38" r="1.7" fill="#dca060" stroke="#533c24" stroke-width="0.55" fill-opacity="0.6"/>
<circle cx="299.05" cy="23.23" r="1.7" fill="#8e2a2a" stroke="#350f0f" stroke-width="0.55" fill-opacity="0.6"/>
<circle cx="302.15" cy="64.81" r="1.7" fill="#8aaaa6" stroke="#34403f" stroke-width="0.55" fill-opacity="0.6"/>
<circle cx="294.37" cy="44.37" r="1.7" fill="#8e2a2a" stroke="#350f0f" stroke-width="0.55" fill-opacity="0.6"/>
<circle cx="288.8" cy="66.87" r="1.7" fill="#a6cc98" stroke="#3f4d39" stroke-width="0.55" fill-opacity="0.6"/>
<circle cx="295.31" cy="28.91" r="1.7" fill="#8e2a2a" stroke="#350f0f" stroke-width="0.55" fill-opacity="0.6"/>
<circle cx="295.31" cy="75.22" r="1.7" fill="#a6cc98" stroke="#3f4d39" stroke-width="0.55" fill-opacity="0.6"/>
<circle cx="294.91" cy="70.31" r="1.7" fill="#a6cc98" stroke="#3f4d39" stroke-width="0.55" fill-opacity="0.6"/>
<circle cx="354.68" cy="80.05" r="1.7" fill="#dca060" stroke="#533c24" stroke-width="0.55" fill-opacity="0.6"/>
<circle cx="298.85" cy="61.05" r="1.7" fill="#dca060" stroke="#533c24" stroke-width="0.55" fill-opacity="0.6"/>
<circle cx="298.75" cy="27.47" r="1.7" fill="#8e2a2a" stroke="#350f0f" stroke-width="0.55" fill-opacity="0.6"/>
<circle cx="298.84" cy="69.46" r="1.7" fill="#dca060" stroke="#533c24" stroke-width="0.55" fill-opacity="0.6"/>
<circle cx="291.96" cy="68.53" r="1.7" fill="#e6d27a" stroke="#574f2e" stroke-width="0.55" fill-opacity="0.6"/>
<circle cx="287.95" cy="78.54" r="1.7" fill="#8aaaa6" stroke="#34403f" stroke-width="0.55" fill-opacity="0.6"/>
<circle cx="300.68" cy="58.18" r="1.7" fill="#e6d27a" stroke="#574f2e" stroke-width="0.55" fill-opacity="0.6"/>
<circle cx="292.74" cy="47.62" r="1.7" fill="#dca060" stroke="#533c24" stroke-width="0.55" fill-opacity="0.6"/>
<circle cx="302.47" cy="31.66" r="1.7" fill="#8e2a2a" stroke="#350f0f" stroke-width="0.55" fill-opacity="0.6"/>
<circle cx="292.04" cy="57.03" r="1.7" fill="#dca060" stroke="#533c24" stroke-width="0.55" fill-opacity="0.6"/>
<circle cx="307.69" cy="33.77" r="1.7" fill="#8e2a2a" stroke="#350f0f" stroke-width="0.55" fill-opacity="0.6"/>
<circle cx="296.24" cy="44.96" r="1.7" fill="#8e2a2a" stroke="#350f0f" stroke-width="0.55" fill-opacity="0.6"/>
<circle cx="299.55" cy="29.83" r="1.7" fill="#8e2a2a" stroke="#350f0f" stroke-width="0.55" fill-opacity="0.6"/>
<circle cx="306.12" cy="47.42" r="1.7" fill="#dca060" stroke="#533c24" stroke-width="0.55" fill-opacity="0.6"/>
<circle cx="300.84" cy="44.16" r="1.7" fill="#dca060" stroke="#533c24" stroke-width="0.55" fill-opacity="0.6"/>
<circle cx="295.75" cy="78.96" r="1.7" fill="#8aaaa6" stroke="#34403f" stroke-width="0.55" fill-opacity="0.6"/>
<circle cx="289.34" cy="75.24" r="1.7" fill="#e6d27a" stroke="#574f2e" stroke-width="0.55" fill-opacity="0.6"/>
<circle cx="298.16" cy="55.38" r="1.7" fill="#e6d27a" stroke="#574f2e" stroke-width="0.55" fill-opacity="0.6"/>
<circle cx="294.84" cy="65.19" r="1.7" fill="#dca060" stroke="#533c24" stroke-width="0.55" fill-opacity="0.6"/>
<circle cx="295.72" cy="39.05" r="1.7" fill="#dc8c9c" stroke="#53353b" stroke-width="0.55" fill-opacity="0.6"/>
<circle cx="296.67" cy="19.46" r="1.7" fill="#8e2a2a" stroke="#350f0f" stroke-width="0.55" fill-opacity="0.6"/>
<circle cx="306.05" cy="53.54" r="1.7" fill="#dca060" stroke="#533c24" stroke-width="0.55" fill-opacity="0.6"/>
<circle cx="295.28" cy="32.44" r="1.7" fill="#8e2a2a" stroke="#350f0f" stroke-width="0.55" fill-opacity="0.6"/>
<circle cx="300.54" cy="73.22" r="1.7" fill="#6c88bc" stroke="#293347" stroke-width="0.55" fill-opacity="0.6"/>
<circle cx="307.51" cy="86.08" r="1.7" fill="#a6cc98" stroke="#3f4d39" stroke-width="0.55" fill-opacity="0.6"/>
<circle cx="302.34" cy="34.39" r="1.7" fill="#8e2a2a" stroke="#350f0f" stroke-width="0.55" fill-opacity="0.6"/>
<circle cx="296.97" cy="60.73" r="1.7" fill="#a6cc98" stroke="#3f4d39" stroke-width="0.55" fill-opacity="0.6"/>
<circle cx="293.33" cy="24.73" r="1.7" fill="#8e2a2a" stroke="#350f0f" stroke-width="0.55" fill-opacity="0.6"/>
<circle cx="306.49" cy="40.26" r="1.7" fill="#8e2a2a" stroke="#350f0f" stroke-width="0.55" fill-opacity="0.6"/>
<circle cx="292.47" cy="61.51" r="1.7" fill="#e6d27a" stroke="#574f2e" stroke-width="0.55" fill-opacity="0.6"/>
<circle cx="292.05" cy="62.29" r="1.7" fill="#dca060" stroke="#533c24" stroke-width="0.55" fill-opacity="0.6"/>
<circle cx="292.35" cy="28.8" r="1.7" fill="#8e2a2a" stroke="#350f0f" stroke-width="0.55" fill-opacity="0.6"/>
<circle cx="301.1" cy="73.48" r="1.7" fill="#e6d27a" stroke="#574f2e" stroke-width="0.55" fill-opacity="0.6"/>
<circle cx="299.31" cy="58.1" r="1.7" fill="#dca060" stroke="#533c24" stroke-width="0.55" fill-opacity="0.6"/>
<circle cx="294.15" cy="16.5" r="1.7" fill="#8e2a2a" stroke="#350f0f" stroke-width="0.55" fill-opacity="0.6"/>
<circle cx="294.41" cy="37.35" r="1.7" fill="#8e2a2a" stroke="#350f0f" stroke-width="0.55" fill-opacity="0.6"/>
<circle cx="303.22" cy="37.04" r="1.7" fill="#d2d2c8" stroke="#4f4f4c" stroke-width="0.55" fill-opacity="0.6"/>
<circle cx="293.57" cy="59.15" r="1.7" fill="#55559a" stroke="#20203a" stroke-width="0.55" fill-opacity="0.6"/>
<circle cx="291.95" cy="67.31" r="1.7" fill="#e6d27a" stroke="#574f2e" stroke-width="0.55" fill-opacity="0.6"/>
<circle cx="300.47" cy="14.07" r="1.7" fill="#8e2a2a" stroke="#350f0f" stroke-width="0.55" fill-opacity="0.6"/>
<circle cx="296.28" cy="58.16" r="1.7" fill="#dca060" stroke="#533c24" stroke-width="0.55" fill-opacity="0.6"/>
<circle cx="289.82" cy="55.13" r="1.7" fill="#6c88bc" stroke="#293347" stroke-width="0.55" fill-opacity="0.6"/>
<circle cx="302.63" cy="74.76" r="1.7" fill="#e6d27a" stroke="#574f2e" stroke-width="0.55" fill-opacity="0.6"/>
<circle cx="297.08" cy="63.61" r="1.7" fill="#dca060" stroke="#533c24" stroke-width="0.55" fill-opacity="0.6"/>
<circle cx="295.54" cy="69.13" r="1.7" fill="#e6d27a" stroke="#574f2e" stroke-width="0.55" fill-opacity="0.6"/>
<circle cx="293.04" cy="35.03" r="1.7" fill="#d8a4b0" stroke="#523e42" stroke-width="0.55" fill-opacity="0.6"/>
<circle cx="291.74" cy="75.52" r="1.7" fill="#e6d27a" stroke="#574f2e" stroke-width="0.55" fill-opacity="0.6"/>
<circle cx="291.6" cy="46.73" r="1.7" fill="#a6cc98" stroke="#3f4d39" stroke-width="0.55" fill-opacity="0.6"/>
<circle cx="302.17" cy="45.42" r="1.7" fill="#dca060" stroke="#533c24" stroke-width="0.55" fill-opacity="0.6"/>
<circle cx="289.73" cy="72.07" r="1.7" fill="#8aaaa6" stroke="#34403f" stroke-width="0.55" fill-opacity="0.6"/>
<circle cx="299.64" cy="43.47" r="1.7" fill="#8aaaa6" stroke="#34403f" stroke-width="0.55" fill-opacity="0.6"/>
<circle cx="345.56" cy="74.22" r="1.7" fill="#e6d27a" stroke="#574f2e" stroke-width="0.55" fill-opacity="0.6"/>
<circle cx="293.4" cy="79.3" r="1.7" fill="#8aaaa6" stroke="#34403f" stroke-width="0.55" fill-opacity="0.6"/>
<circle cx="294.83" cy="54.4" r="1.7" fill="#8e2a2a" stroke="#350f0f" stroke-width="0.55" fill-opacity="0.6"/>
<circle cx="321.98" cy="20.96" r="1.7" fill="#6e6e6a" stroke="#292928" stroke-width="0.55" fill-opacity="0.6"/>
<circle cx="288.21" cy="55.93" r="1.7" fill="#e6d27a" stroke="#574f2e" stroke-width="0.55" fill-opacity="0.6"/>
<circle cx="300.77" cy="53.39" r="1.7" fill="#dca060" stroke="#533c24" stroke-width="0.55" fill-opacity="0.6"/>
<circle cx="309.61" cy="79.21" r="1.7" fill="#8aaaa6" stroke="#34403f" stroke-width="0.55" fill-opacity="0.6"/>
<circle cx="298.39" cy="49.41" r="1.7" fill="#8e2a2a" stroke="#350f0f" stroke-width="0.55" fill-opacity="0.6"/>
<circle cx="295.14" cy="44.56" r="1.7" fill="#8e2a2a" stroke="#350f0f" stroke-width="0.55" fill-opacity="0.6"/>
<circle cx="285.94" cy="47.36" r="1.7" fill="#a6cc98" stroke="#3f4d39" stroke-width="0.55" fill-opacity="0.6"/>
<circle cx="307.51" cy="65.18" r="1.7" fill="#2c2c66" stroke="#101026" stroke-width="0.55" fill-opacity="0.6"/>
<circle cx="291.58" cy="48.4" r="1.7" fill="#a6cc98" stroke="#3f4d39" stroke-width="0.55" fill-opacity="0.6"/>
<circle cx="297.1" cy="74.95" r="1.7" fill="#e6d27a" stroke="#574f2e" stroke-width="0.55" fill-opacity="0.6"/>
<circle cx="303.48" cy="35.07" r="1.7" fill="#8e2a2a" stroke="#350f0f" stroke-width="0.55" fill-opacity="0.6"/>
<circle cx="302.83" cy="45.34" r="1.7" fill="#8aaaa6" stroke="#34403f" stroke-width="0.55" fill-opacity="0.6"/>
<circle cx="290.89" cy="52.11" r="1.7" fill="#2c2c66" stroke="#101026" stroke-width="0.55" fill-opacity="0.6"/>
<circle cx="300.57" cy="49.05" r="1.7" fill="#8e2a2a" stroke="#350f0f" stroke-width="0.55" fill-opacity="0.6"/>
<circle cx="295.69" cy="35.9" r="1.7" fill="#8e2a2a" stroke="#350f0f" stroke-width="0.55" fill-opacity="0.6"/>
<circle cx="293.68" cy="33.57" r="1.7" fill="#8e2a2a" stroke="#350f0f" stroke-width="0.55" fill-opacity="0.6"/>
<circle cx="288.56" cy="60.7" r="1.7" fill="#a6cc98" stroke="#3f4d39" stroke-width="0.55" fill-opacity="0.6"/>
<circle cx="288.5" cy="72.87" r="1.7" fill="#a6cc98" stroke="#3f4d39" stroke-width="0.55" fill-opacity="0.6"/>
<circle cx="293.57" cy="53.64" r="1.7" fill="#e6d27a" stroke="#574f2e" stroke-width="0.55" fill-opacity="0.6"/>
<circle cx="288.73" cy="74.79" r="1.7" fill="#dca060" stroke="#533c24" stroke-width="0.55" fill-opacity="0.6"/>
<circle cx="286.78" cy="74.23" r="1.7" fill="#a6cc98" stroke="#3f4d39" stroke-width="0.55" fill-opacity="0.6"/>
<circle cx="293.97" cy="41.54" r="1.7" fill="#8e2a2a" stroke="#350f0f" stroke-width="0.55" fill-opacity="0.6"/>
<circle cx="296.56" cy="68.56" r="1.7" fill="#dca060" stroke="#533c24" stroke-width="0.55" fill-opacity="0.6"/>
<circle cx="302.82" cy="58.41" r="1.7" fill="#e6d27a" stroke="#574f2e" stroke-width="0.55" fill-opacity="0.6"/>
<circle cx="306.44" cy="61.16" r="1.7" fill="#2c2c66" stroke="#101026" stroke-width="0.55" fill-opacity="0.6"/>
<circle cx="297.42" cy="24.2" r="1.7" fill="#8e2a2a" stroke="#350f0f" stroke-width="0.55" fill-opacity="0.6"/>
<circle cx="295.18" cy="67.19" r="1.7" fill="#6c88bc" stroke="#293347" stroke-width="0.55" fill-opacity="0.6"/>
<circle cx="288.65" cy="74.4" r="1.7" fill="#e6d27a" stroke="#574f2e" stroke-width="0.55" fill-opacity="0.6"/>
<circle cx="290.13" cy="42.33" r="1.7" fill="#8e2a2a" stroke="#350f0f" stroke-width="0.55" fill-opacity="0.6"/>
<circle cx="296.94" cy="25.37" r="1.7" fill="#8e2a2a" stroke="#350f0f" stroke-width="0.55" fill-opacity="0.6"/>
<circle cx="298.03" cy="33.31" r="1.7" fill="#8e2a2a" stroke="#350f0f" stroke-width="0.55" fill-opacity="0.6"/>
<circle cx="295.75" cy="28.73" r="1.7" fill="#8e2a2a" stroke="#350f0f" stroke-width="0.55" fill-opacity="0.6"/>
<circle cx="303.11" cy="29.09" r="1.7" fill="#8e2a2a" stroke="#350f0f" stroke-width="0.55" fill-opacity="0.6"/>
<circle cx="298.86" cy="68.04" r="1.7" fill="#e6d27a" stroke="#574f2e" stroke-width="0.55" fill-opacity="0.6"/>
<circle cx="299.44" cy="34.52" r="1.7" fill="#8e2a2a" stroke="#350f0f" stroke-width="0.55" fill-opacity="0.6"/>
<circle cx="288.69" cy="56.82" r="1.7" fill="#e6d27a" stroke="#574f2e" stroke-width="0.55" fill-opacity="0.6"/>
<circle cx="305.99" cy="29.78" r="1.7" fill="#8e2a2a" stroke="#350f0f" stroke-width="0.55" fill-opacity="0.6"/>
<circle cx="294.99" cy="29.97" r="1.7" fill="#8e2a2a" stroke="#350f0f" stroke-width="0.55" fill-opacity="0.6"/>
<circle cx="304.78" cy="67.22" r="1.7" fill="#e6d27a" stroke="#574f2e" stroke-width="0.55" fill-opacity="0.6"/>
<circle cx="295.4" cy="43.99" r="1.7" fill="#dca060" stroke="#533c24" stroke-width="0.55" fill-opacity="0.6"/>
<circle cx="292.92" cy="33.7" r="1.7" fill="#8e2a2a" stroke="#350f0f" stroke-width="0.55" fill-opacity="0.6"/>
<circle cx="297.56" cy="18.63" r="1.7" fill="#8e2a2a" stroke="#350f0f" stroke-width="0.55" fill-opacity="0.6"/>
<circle cx="287.05" cy="55.07" r="1.7" fill="#a6cc98" stroke="#3f4d39" stroke-width="0.55" fill-opacity="0.6"/>
<circle cx="301.13" cy="43.98" r="1.7" fill="#dca060" stroke="#533c24" stroke-width="0.55" fill-opacity="0.6"/>
<circle cx="290.48" cy="49.36" r="1.7" fill="#dca060" stroke="#533c24" stroke-width="0.55" fill-opacity="0.6"/>
<circle cx="302.68" cy="51.11" r="1.7" fill="#c89494" stroke="#4c3838" stroke-width="0.55" fill-opacity="0.6"/>
<circle cx="294.71" cy="74.86" r="1.7" fill="#e6d27a" stroke="#574f2e" stroke-width="0.55" fill-opacity="0.6"/>
<circle cx="304.04" cy="29.68" r="1.7" fill="#8e2a2a" stroke="#350f0f" stroke-width="0.55" fill-opacity="0.6"/>
<circle cx="298.61" cy="63.51" r="1.7" fill="#e6d27a" stroke="#574f2e" stroke-width="0.55" fill-opacity="0.6"/>
<circle cx="303.5" cy="33.53" r="1.7" fill="#8e2a2a" stroke="#350f0f" stroke-width="0.55" fill-opacity="0.6"/>
<circle cx="301.95" cy="56.82" r="1.7" fill="#dca060" stroke="#533c24" stroke-width="0.55" fill-opacity="0.6"/>
<circle cx="296.78" cy="17.05" r="1.7" fill="#8e2a2a" stroke="#350f0f" stroke-width="0.55" fill-opacity="0.6"/>
<circle cx="296.68" cy="60.17" r="1.7" fill="#dca060" stroke="#533c24" stroke-width="0.55" fill-opacity="0.6"/>
<circle cx="290.69" cy="45.88" r="1.7" fill="#a6cc98" stroke="#3f4d39" stroke-width="0.55" fill-opacity="0.6"/>
<circle cx="296.43" cy="22.2" r="1.7" fill="#8e2a2a" stroke="#350f0f" stroke-width="0.55" fill-opacity="0.6"/>
<circle cx="302.32" cy="41.2" r="1.7" fill="#8e2a2a" stroke="#350f0f" stroke-width="0.55" fill-opacity="0.6"/>
<circle cx="303.7" cy="17.46" r="1.7" fill="#8e2a2a" stroke="#350f0f" stroke-width="0.55" fill-opacity="0.6"/>
<circle cx="301.16" cy="66.53" r="1.7" fill="#e6d27a" stroke="#574f2e" stroke-width="0.55" fill-opacity="0.6"/>
<circle cx="302.68" cy="63.17" r="1.7" fill="#55559a" stroke="#20203a" stroke-width="0.55" fill-opacity="0.6"/>
<circle cx="305.03" cy="57.35" r="1.7" fill="#e6d27a" stroke="#574f2e" stroke-width="0.55" fill-opacity="0.6"/>
<circle cx="305.4" cy="57.86" r="1.7" fill="#e6d27a" stroke="#574f2e" stroke-width="0.55" fill-opacity="0.6"/>
<circle cx="296.7" cy="22.63" r="1.7" fill="#8e2a2a" stroke="#350f0f" stroke-width="0.55" fill-opacity="0.6"/>
<circle cx="303.02" cy="56.53" r="1.7" fill="#dca060" stroke="#533c24" stroke-width="0.55" fill-opacity="0.6"/>
<circle cx="294.15" cy="14.37" r="1.7" fill="#8e2a2a" stroke="#350f0f" stroke-width="0.55" fill-opacity="0.6"/>
<circle cx="303.25" cy="19.52" r="1.7" fill="#8e2a2a" stroke="#350f0f" stroke-width="0.55" fill-opacity="0.6"/>
<circle cx="295.11" cy="20.16" r="1.7" fill="#8e2a2a" stroke="#350f0f" stroke-width="0.55" fill-opacity="0.6"/>
<circle cx="291.84" cy="53.02" r="1.7" fill="#dca060" stroke="#533c24" stroke-width="0.55" fill-opacity="0.6"/>
<circle cx="305.73" cy="30.09" r="1.7" fill="#8e2a2a" stroke="#350f0f" stroke-width="0.55" fill-opacity="0.6"/>
<circle cx="288.14" cy="74.04" r="1.7" fill="#a6cc98" stroke="#3f4d39" stroke-width="0.55" fill-opacity="0.6"/>
<circle cx="289.28" cy="54.89" r="1.7" fill="#a6cc98" stroke="#3f4d39" stroke-width="0.55" fill-opacity="0.6"/>
<circle cx="298.52" cy="30.28" r="1.7" fill="#8e2a2a" stroke="#350f0f" stroke-width="0.55" fill-opacity="0.6"/>
<circle cx="303.69" cy="74.93" r="1.7" fill="#e6d27a" stroke="#574f2e" stroke-width="0.55" fill-opacity="0.6"/>
<circle cx="297.86" cy="48.81" r="1.7" fill="#8e2a2a" stroke="#350f0f" stroke-width="0.55" fill-opacity="0.6"/>
<circle cx="303.66" cy="63.8" r="1.7" fill="#e6d27a" stroke="#574f2e" stroke-width="0.55" fill-opacity="0.6"/>
<circle cx="290.22" cy="65.83" r="1.7" fill="#a6cc98" stroke="#3f4d39" stroke-width="0.55" fill-opacity="0.6"/>
<circle cx="302.53" cy="27.97" r="1.7" fill="#8e2a2a" stroke="#350f0f" stroke-width="0.55" fill-opacity="0.6"/>
<circle cx="292.31" cy="55.11" r="1.7" fill="#e6d27a" stroke="#574f2e" stroke-width="0.55" fill-opacity="0.6"/>
<circle cx="299.3" cy="45.3" r="1.7" fill="#8e2a2a" stroke="#350f0f" stroke-width="0.55" fill-opacity="0.6"/>
<circle cx="298.5" cy="71.58" r="1.7" fill="#e6d27a" stroke="#574f2e" stroke-width="0.55" fill-opacity="0.6"/>
<circle cx="291.52" cy="72.22" r="1.7" fill="#a6cc98" stroke="#3f4d39" stroke-width="0.55" fill-opacity="0.6"/>
<circle cx="292.1" cy="65.7" r="1.7" fill="#8aaaa6" stroke="#34403f" stroke-width="0.55" fill-opacity="0.6"/>
<circle cx="297.79" cy="59.28" r="1.7" fill="#e6d27a" stroke="#574f2e" stroke-width="0.55" fill-opacity="0.6"/>
<circle cx="294.38" cy="54.91" r="1.7" fill="#a6cc98" stroke="#3f4d39" stroke-width="0.55" fill-opacity="0.6"/>
<circle cx="301.01" cy="29.43" r="1.7" fill="#8e2a2a" stroke="#350f0f" stroke-width="0.55" fill-opacity="0.6"/>
<circle cx="300.47" cy="43.3" r="1.7" fill="#8e2a2a" stroke="#350f0f" stroke-width="0.55" fill-opacity="0.6"/>
<circle cx="301.27" cy="25.03" r="1.7" fill="#8e2a2a" stroke="#350f0f" stroke-width="0.55" fill-opacity="0.6"/>
<circle cx="293.82" cy="31.41" r="1.7" fill="#8e2a2a" stroke="#350f0f" stroke-width="0.55" fill-opacity="0.6"/>
<circle cx="299.02" cy="27.31" r="1.7" fill="#8e2a2a" stroke="#350f0f" stroke-width="0.55" fill-opacity="0.6"/>
<circle cx="302.68" cy="14.37" r="1.7" fill="#8e2a2a" stroke="#350f0f" stroke-width="0.55" fill-opacity="0.6"/>
<circle cx="297.55" cy="58.63" r="1.7" fill="#dca060" stroke="#533c24" stroke-width="0.55" fill-opacity="0.6"/>
<circle cx="300.27" cy="27.31" r="1.7" fill="#8e2a2a" stroke="#350f0f" stroke-width="0.55" fill-opacity="0.6"/>
<circle cx="297.45" cy="46.88" r="1.7" fill="#dca060" stroke="#533c24" stroke-width="0.55" fill-opacity="0.6"/>
<circle cx="300.29" cy="28.21" r="1.7" fill="#8e2a2a" stroke="#350f0f" stroke-width="0.55" fill-opacity="0.6"/>
<circle cx="302.34" cy="65.31" r="1.7" fill="#e6d27a" stroke="#574f2e" stroke-width="0.55" fill-opacity="0.6"/>
<circle cx="298.93" cy="69.2" r="1.7" fill="#dc8c9c" stroke="#53353b" stroke-width="0.55" fill-opacity="0.6"/>
<circle cx="300.58" cy="28.98" r="1.7" fill="#8e2a2a" stroke="#350f0f" stroke-width="0.55" fill-opacity="0.6"/>
<circle cx="294.81" cy="27.88" r="1.7" fill="#8e2a2a" stroke="#350f0f" stroke-width="0.55" fill-opacity="0.6"/>
<circle cx="299.24" cy="27.08" r="1.7" fill="#8e2a2a" stroke="#350f0f" stroke-width="0.55" fill-opacity="0.6"/>
<line x1="305.9" y1="97.8" x2="305.9" y2="158.8" stroke="#dcdcdc" stroke-width="0.5"/>
<line x1="332.7" y1="97.8" x2="332.7" y2="158.8" stroke="#dcdcdc" stroke-width="0.5"/>
<rect x="279.1" y="97.8" width="80.4" height="61" fill="none" stroke="#d4d4d4" stroke-width="0.5"/>
<line x1="279.1" y1="158.8" x2="359.5" y2="158.8" stroke="#999" stroke-width="0.5"/>
<line x1="279.1" y1="158.8" x2="279.1" y2="160.4" stroke="#999" stroke-width="0.4"/>
<text x="279.1" y="165" font-size="5.2" text-anchor="middle" fill="#333" stroke="#333" stroke-width="0.12">0</text>
<line x1="305.9" y1="158.8" x2="305.9" y2="160.4" stroke="#999" stroke-width="0.4"/>
<text x="305.9" y="165" font-size="5.2" text-anchor="middle" fill="#333" stroke="#333" stroke-width="0.12">5</text>
<line x1="332.7" y1="158.8" x2="332.7" y2="160.4" stroke="#999" stroke-width="0.4"/>
<text x="332.7" y="165" font-size="5.2" text-anchor="middle" fill="#333" stroke="#333" stroke-width="0.12">10</text>
<line x1="359.5" y1="158.8" x2="359.5" y2="160.4" stroke="#999" stroke-width="0.4"/>
<text x="359.5" y="165" font-size="5.2" text-anchor="middle" fill="#333" stroke="#333" stroke-width="0.12">15</text>
<text x="319.1" y="173.5" font-size="5.7" text-anchor="middle" fill="#111" stroke="#111" stroke-width="0.1" font-weight="bold">Size (Mb)</text>
<rect x="288.75" y="99.1" width="18.76" height="2.6" fill="#9a2a2a" stroke="none" stroke-width="0.4" opacity="0.9"/>
<rect x="291.43" y="103" width="18.76" height="2.6" fill="#e2b458" stroke="none" stroke-width="0.4" opacity="0.85"/>
<rect x="290.89" y="106.6" width="11.26" height="2.6" fill="#ccd484" stroke="none" stroke-width="0.4" opacity="0.7"/>
<rect x="285.53" y="110.3" width="8.04" height="2.6" fill="#a8d098" stroke="none" stroke-width="0.4" opacity="0.75"/>
<rect x="302.68" y="114.1" width="2.14" height="2.6" fill="#607a80" stroke="none" stroke-width="0.4" opacity="0.8"/>
<rect x="293.94" y="99.1" width="0.7" height="2.6" fill="#8e2a2a" stroke="none" stroke-width="0.4" opacity="0.85"/>
<rect x="290.69" y="99.1" width="0.7" height="2.6" fill="#8e2a2a" stroke="none" stroke-width="0.4" opacity="0.85"/>
<rect x="300.07" y="99.1" width="0.7" height="2.6" fill="#8e2a2a" stroke="none" stroke-width="0.4" opacity="0.85"/>
<rect x="289.22" y="99.1" width="0.7" height="2.6" fill="#8e2a2a" stroke="none" stroke-width="0.4" opacity="0.85"/>
<rect x="297.92" y="99.1" width="0.7" height="2.6" fill="#8e2a2a" stroke="none" stroke-width="0.4" opacity="0.85"/>
<rect x="294.72" y="99.1" width="0.7" height="2.6" fill="#8e2a2a" stroke="none" stroke-width="0.4" opacity="0.85"/>
<rect x="288.95" y="99.1" width="0.7" height="2.6" fill="#8e2a2a" stroke="none" stroke-width="0.4" opacity="0.85"/>
<rect x="297.38" y="99.1" width="0.7" height="2.6" fill="#8e2a2a" stroke="none" stroke-width="0.4" opacity="0.85"/>
<rect x="288.57" y="99.1" width="0.7" height="2.6" fill="#8e2a2a" stroke="none" stroke-width="0.4" opacity="0.85"/>
<rect x="296" y="99.1" width="0.7" height="2.6" fill="#8e2a2a" stroke="none" stroke-width="0.4" opacity="0.85"/>
<rect x="289.17" y="99.1" width="0.7" height="2.6" fill="#8e2a2a" stroke="none" stroke-width="0.4" opacity="0.85"/>
<rect x="289.56" y="99.1" width="0.7" height="2.6" fill="#8e2a2a" stroke="none" stroke-width="0.4" opacity="0.85"/>
<rect x="295.83" y="99.1" width="0.7" height="2.6" fill="#8e2a2a" stroke="none" stroke-width="0.4" opacity="0.85"/>
<rect x="303.37" y="99.1" width="0.7" height="2.6" fill="#8e2a2a" stroke="none" stroke-width="0.4" opacity="0.85"/>
<rect x="290.18" y="99.1" width="0.7" height="2.6" fill="#8e2a2a" stroke="none" stroke-width="0.4" opacity="0.85"/>
<rect x="292.05" y="99.1" width="0.7" height="2.6" fill="#8e2a2a" stroke="none" stroke-width="0.4" opacity="0.85"/>
<rect x="299.63" y="99.1" width="0.7" height="2.6" fill="#8e2a2a" stroke="none" stroke-width="0.4" opacity="0.85"/>
<rect x="305.64" y="99.1" width="0.7" height="2.6" fill="#8e2a2a" stroke="none" stroke-width="0.4" opacity="0.85"/>
<rect x="298.69" y="99.1" width="0.7" height="2.6" fill="#8e2a2a" stroke="none" stroke-width="0.4" opacity="0.85"/>
<rect x="295.3" y="99.1" width="0.7" height="2.6" fill="#8e2a2a" stroke="none" stroke-width="0.4" opacity="0.85"/>
<rect x="306.18" y="99.1" width="0.7" height="2.6" fill="#8e2a2a" stroke="none" stroke-width="0.4" opacity="0.85"/>
<rect x="288.74" y="99.1" width="0.7" height="2.6" fill="#8e2a2a" stroke="none" stroke-width="0.4" opacity="0.85"/>
<rect x="303.97" y="99.1" width="0.7" height="2.6" fill="#8e2a2a" stroke="none" stroke-width="0.4" opacity="0.85"/>
<rect x="293.3" y="99.1" width="0.7" height="2.6" fill="#8e2a2a" stroke="none" stroke-width="0.4" opacity="0.85"/>
<rect x="290.57" y="99.1" width="0.7" height="2.6" fill="#8e2a2a" stroke="none" stroke-width="0.4" opacity="0.85"/>
<rect x="290.07" y="99.1" width="0.7" height="2.6" fill="#8e2a2a" stroke="none" stroke-width="0.4" opacity="0.85"/>
<rect x="293.65" y="99.1" width="0.7" height="2.6" fill="#8e2a2a" stroke="none" stroke-width="0.4" opacity="0.85"/>
<rect x="303.17" y="99.1" width="0.7" height="2.6" fill="#8e2a2a" stroke="none" stroke-width="0.4" opacity="0.85"/>
<rect x="291.25" y="99.1" width="0.7" height="2.6" fill="#8e2a2a" stroke="none" stroke-width="0.4" opacity="0.85"/>
<rect x="298.77" y="99.1" width="0.7" height="2.6" fill="#8e2a2a" stroke="none" stroke-width="0.4" opacity="0.85"/>
<rect x="299.85" y="99.1" width="0.7" height="2.6" fill="#8e2a2a" stroke="none" stroke-width="0.4" opacity="0.85"/>
<rect x="294.85" y="99.1" width="0.7" height="2.6" fill="#8e2a2a" stroke="none" stroke-width="0.4" opacity="0.85"/>
<rect x="298.14" y="99.1" width="0.7" height="2.6" fill="#8e2a2a" stroke="none" stroke-width="0.4" opacity="0.85"/>
<rect x="289.04" y="99.1" width="0.7" height="2.6" fill="#8e2a2a" stroke="none" stroke-width="0.4" opacity="0.85"/>
<rect x="288.98" y="99.1" width="0.7" height="2.6" fill="#8e2a2a" stroke="none" stroke-width="0.4" opacity="0.85"/>
<rect x="291.73" y="99.1" width="0.7" height="2.6" fill="#8e2a2a" stroke="none" stroke-width="0.4" opacity="0.85"/>
<rect x="300.63" y="99.1" width="0.7" height="2.6" fill="#8e2a2a" stroke="none" stroke-width="0.4" opacity="0.85"/>
<rect x="295.88" y="99.1" width="0.7" height="2.6" fill="#8e2a2a" stroke="none" stroke-width="0.4" opacity="0.85"/>
<rect x="293.76" y="99.1" width="0.7" height="2.6" fill="#8e2a2a" stroke="none" stroke-width="0.4" opacity="0.85"/>
<rect x="298.85" y="99.1" width="0.7" height="2.6" fill="#8e2a2a" stroke="none" stroke-width="0.4" opacity="0.85"/>
<rect x="296.36" y="99.1" width="0.7" height="2.6" fill="#8e2a2a" stroke="none" stroke-width="0.4" opacity="0.85"/>
<rect x="293.49" y="99.1" width="0.7" height="2.6" fill="#8e2a2a" stroke="none" stroke-width="0.4" opacity="0.85"/>
<rect x="302.76" y="99.1" width="0.7" height="2.6" fill="#8e2a2a" stroke="none" stroke-width="0.4" opacity="0.85"/>
<rect x="300.98" y="99.1" width="0.7" height="2.6" fill="#8e2a2a" stroke="none" stroke-width="0.4" opacity="0.85"/>
<rect x="292.44" y="99.1" width="0.7" height="2.6" fill="#8e2a2a" stroke="none" stroke-width="0.4" opacity="0.85"/>
<rect x="298.64" y="99.1" width="0.7" height="2.6" fill="#8e2a2a" stroke="none" stroke-width="0.4" opacity="0.85"/>
<rect x="297.71" y="99.1" width="0.7" height="2.6" fill="#8e2a2a" stroke="none" stroke-width="0.4" opacity="0.85"/>
<rect x="304.28" y="99.1" width="0.7" height="2.6" fill="#8e2a2a" stroke="none" stroke-width="0.4" opacity="0.85"/>
<rect x="301.55" y="99.1" width="0.7" height="2.6" fill="#8e2a2a" stroke="none" stroke-width="0.4" opacity="0.85"/>
<rect x="293.26" y="99.1" width="0.7" height="2.6" fill="#8e2a2a" stroke="none" stroke-width="0.4" opacity="0.85"/>
<rect x="306.25" y="99.1" width="0.7" height="2.6" fill="#8e2a2a" stroke="none" stroke-width="0.4" opacity="0.85"/>
<rect x="290.08" y="99.1" width="0.7" height="2.6" fill="#8e2a2a" stroke="none" stroke-width="0.4" opacity="0.85"/>
<rect x="295.71" y="99.1" width="0.7" height="2.6" fill="#8e2a2a" stroke="none" stroke-width="0.4" opacity="0.85"/>
<rect x="302.07" y="99.1" width="0.7" height="2.6" fill="#8e2a2a" stroke="none" stroke-width="0.4" opacity="0.85"/>
<rect x="290.71" y="99.1" width="0.7" height="2.6" fill="#8e2a2a" stroke="none" stroke-width="0.4" opacity="0.85"/>
<rect x="297.03" y="99.1" width="0.7" height="2.6" fill="#8e2a2a" stroke="none" stroke-width="0.4" opacity="0.85"/>
<rect x="288.6" y="99.1" width="0.7" height="2.6" fill="#8e2a2a" stroke="none" stroke-width="0.4" opacity="0.85"/>
<rect x="300.4" y="99.1" width="0.7" height="2.6" fill="#8e2a2a" stroke="none" stroke-width="0.4" opacity="0.85"/>
<rect x="302.21" y="99.1" width="0.7" height="2.6" fill="#8e2a2a" stroke="none" stroke-width="0.4" opacity="0.85"/>
<rect x="298.61" y="99.1" width="0.7" height="2.6" fill="#8e2a2a" stroke="none" stroke-width="0.4" opacity="0.85"/>
<rect x="309.84" y="99.1" width="0.7" height="2.6" fill="#8e2a2a" stroke="none" stroke-width="0.4" opacity="0.85"/>
<rect x="318.41" y="99.1" width="0.7" height="2.6" fill="#8e2a2a" stroke="none" stroke-width="0.4" opacity="0.85"/>
<rect x="308.44" y="103" width="0.7" height="2.6" fill="#dca060" stroke="none" stroke-width="0.4" opacity="0.85"/>
<rect x="292.49" y="103" width="0.7" height="2.6" fill="#dca060" stroke="none" stroke-width="0.4" opacity="0.85"/>
<rect x="303.33" y="103" width="0.7" height="2.6" fill="#dca060" stroke="none" stroke-width="0.4" opacity="0.85"/>
<rect x="300.46" y="103" width="0.7" height="2.6" fill="#dca060" stroke="none" stroke-width="0.4" opacity="0.85"/>
<rect x="300.05" y="103" width="0.7" height="2.6" fill="#dca060" stroke="none" stroke-width="0.4" opacity="0.85"/>
<rect x="296.53" y="103" width="0.7" height="2.6" fill="#dca060" stroke="none" stroke-width="0.4" opacity="0.85"/>
<rect x="307.44" y="103" width="0.7" height="2.6" fill="#dca060" stroke="none" stroke-width="0.4" opacity="0.85"/>
<rect x="310.41" y="103" width="0.7" height="2.6" fill="#dca060" stroke="none" stroke-width="0.4" opacity="0.85"/>
<rect x="297.04" y="103" width="0.7" height="2.6" fill="#dca060" stroke="none" stroke-width="0.4" opacity="0.85"/>
<rect x="302.44" y="103" width="0.7" height="2.6" fill="#dca060" stroke="none" stroke-width="0.4" opacity="0.85"/>
<rect x="285.3" y="103" width="0.7" height="2.6" fill="#dca060" stroke="none" stroke-width="0.4" opacity="0.85"/>
<rect x="303.5" y="103" width="0.7" height="2.6" fill="#dca060" stroke="none" stroke-width="0.4" opacity="0.85"/>
<rect x="301.96" y="103" width="0.7" height="2.6" fill="#dca060" stroke="none" stroke-width="0.4" opacity="0.85"/>
<rect x="311.79" y="103" width="0.7" height="2.6" fill="#dca060" stroke="none" stroke-width="0.4" opacity="0.85"/>
<rect x="306.92" y="103" width="0.7" height="2.6" fill="#dca060" stroke="none" stroke-width="0.4" opacity="0.85"/>
<rect x="291.66" y="103" width="0.7" height="2.6" fill="#dca060" stroke="none" stroke-width="0.4" opacity="0.85"/>
<rect x="294.53" y="103" width="0.7" height="2.6" fill="#dca060" stroke="none" stroke-width="0.4" opacity="0.85"/>
<rect x="302.57" y="103" width="0.7" height="2.6" fill="#dca060" stroke="none" stroke-width="0.4" opacity="0.85"/>
<rect x="284.21" y="103" width="0.7" height="2.6" fill="#dca060" stroke="none" stroke-width="0.4" opacity="0.85"/>
<rect x="296.69" y="103" width="0.7" height="2.6" fill="#dca060" stroke="none" stroke-width="0.4" opacity="0.85"/>
<rect x="288.35" y="103" width="0.7" height="2.6" fill="#dca060" stroke="none" stroke-width="0.4" opacity="0.85"/>
<rect x="286.9" y="103" width="0.7" height="2.6" fill="#dca060" stroke="none" stroke-width="0.4" opacity="0.85"/>
<rect x="285.25" y="103" width="0.7" height="2.6" fill="#dca060" stroke="none" stroke-width="0.4" opacity="0.85"/>
<rect x="305.4" y="103" width="0.7" height="2.6" fill="#dca060" stroke="none" stroke-width="0.4" opacity="0.85"/>
<rect x="287.25" y="103" width="0.7" height="2.6" fill="#dca060" stroke="none" stroke-width="0.4" opacity="0.85"/>
<rect x="290.61" y="103" width="0.7" height="2.6" fill="#dca060" stroke="none" stroke-width="0.4" opacity="0.85"/>
<rect x="294.68" y="103" width="0.7" height="2.6" fill="#dca060" stroke="none" stroke-width="0.4" opacity="0.85"/>
<rect x="308.33" y="103" width="0.7" height="2.6" fill="#dca060" stroke="none" stroke-width="0.4" opacity="0.85"/>
<rect x="285.86" y="103" width="0.7" height="2.6" fill="#dca060" stroke="none" stroke-width="0.4" opacity="0.85"/>
<rect x="296.33" y="103" width="0.7" height="2.6" fill="#dca060" stroke="none" stroke-width="0.4" opacity="0.85"/>
<rect x="299.18" y="103" width="0.7" height="2.6" fill="#dca060" stroke="none" stroke-width="0.4" opacity="0.85"/>
<rect x="308.67" y="103" width="0.7" height="2.6" fill="#dca060" stroke="none" stroke-width="0.4" opacity="0.85"/>
<rect x="306.85" y="103" width="0.7" height="2.6" fill="#dca060" stroke="none" stroke-width="0.4" opacity="0.85"/>
<rect x="308.12" y="103" width="0.7" height="2.6" fill="#dca060" stroke="none" stroke-width="0.4" opacity="0.85"/>
<rect x="291.48" y="103" width="0.7" height="2.6" fill="#dca060" stroke="none" stroke-width="0.4" opacity="0.85"/>
<rect x="295.37" y="103" width="0.7" height="2.6" fill="#dca060" stroke="none" stroke-width="0.4" opacity="0.85"/>
<rect x="293.77" y="103" width="0.7" height="2.6" fill="#dca060" stroke="none" stroke-width="0.4" opacity="0.85"/>
<rect x="308.69" y="103" width="0.7" height="2.6" fill="#dca060" stroke="none" stroke-width="0.4" opacity="0.85"/>
<rect x="310.78" y="103" width="0.7" height="2.6" fill="#dca060" stroke="none" stroke-width="0.4" opacity="0.85"/>
<rect x="287.86" y="103" width="0.7" height="2.6" fill="#dca060" stroke="none" stroke-width="0.4" opacity="0.85"/>
<rect x="288.58" y="103" width="0.7" height="2.6" fill="#dca060" stroke="none" stroke-width="0.4" opacity="0.85"/>
<rect x="290.16" y="103" width="0.7" height="2.6" fill="#dca060" stroke="none" stroke-width="0.4" opacity="0.85"/>
<rect x="290.2" y="103" width="0.7" height="2.6" fill="#dca060" stroke="none" stroke-width="0.4" opacity="0.85"/>
<rect x="297.35" y="103" width="0.7" height="2.6" fill="#dca060" stroke="none" stroke-width="0.4" opacity="0.85"/>
<rect x="300.31" y="103" width="0.7" height="2.6" fill="#dca060" stroke="none" stroke-width="0.4" opacity="0.85"/>
<rect x="344.68" y="103" width="0.7" height="2.6" fill="#dca060" stroke="none" stroke-width="0.4" opacity="0.85"/>
<rect x="353.79" y="103" width="0.7" height="2.6" fill="#dca060" stroke="none" stroke-width="0.4" opacity="0.85"/>
<rect x="283.04" y="103" width="0.7" height="2.6" fill="#dca060" stroke="none" stroke-width="0.4" opacity="0.85"/>
<rect x="292.45" y="106.6" width="0.7" height="2.6" fill="#e6d27a" stroke="none" stroke-width="0.4" opacity="0.85"/>
<rect x="288.99" y="106.6" width="0.7" height="2.6" fill="#e6d27a" stroke="none" stroke-width="0.4" opacity="0.85"/>
<rect x="294.55" y="106.6" width="0.7" height="2.6" fill="#e6d27a" stroke="none" stroke-width="0.4" opacity="0.85"/>
<rect x="293.88" y="106.6" width="0.7" height="2.6" fill="#e6d27a" stroke="none" stroke-width="0.4" opacity="0.85"/>
<rect x="296.52" y="106.6" width="0.7" height="2.6" fill="#e6d27a" stroke="none" stroke-width="0.4" opacity="0.85"/>
<rect x="301.71" y="106.6" width="0.7" height="2.6" fill="#e6d27a" stroke="none" stroke-width="0.4" opacity="0.85"/>
<rect x="298.19" y="106.6" width="0.7" height="2.6" fill="#e6d27a" stroke="none" stroke-width="0.4" opacity="0.85"/>
<rect x="295.84" y="106.6" width="0.7" height="2.6" fill="#e6d27a" stroke="none" stroke-width="0.4" opacity="0.85"/>
<rect x="297.21" y="106.6" width="0.7" height="2.6" fill="#e6d27a" stroke="none" stroke-width="0.4" opacity="0.85"/>
<rect x="298" y="106.6" width="0.7" height="2.6" fill="#e6d27a" stroke="none" stroke-width="0.4" opacity="0.85"/>
<rect x="289.66" y="106.6" width="0.7" height="2.6" fill="#e6d27a" stroke="none" stroke-width="0.4" opacity="0.85"/>
<rect x="300.99" y="106.6" width="0.7" height="2.6" fill="#e6d27a" stroke="none" stroke-width="0.4" opacity="0.85"/>
<rect x="311.45" y="106.6" width="0.7" height="2.6" fill="#e6d27a" stroke="none" stroke-width="0.4" opacity="0.85"/>
<rect x="291.87" y="110.3" width="0.7" height="2.6" fill="#a6cc98" stroke="none" stroke-width="0.4" opacity="0.85"/>
<rect x="292.68" y="110.3" width="0.7" height="2.6" fill="#a6cc98" stroke="none" stroke-width="0.4" opacity="0.85"/>
<rect x="292.02" y="110.3" width="0.7" height="2.6" fill="#a6cc98" stroke="none" stroke-width="0.4" opacity="0.85"/>
<rect x="288.55" y="110.3" width="0.7" height="2.6" fill="#a6cc98" stroke="none" stroke-width="0.4" opacity="0.85"/>
<rect x="288.6" y="110.3" width="0.7" height="2.6" fill="#a6cc98" stroke="none" stroke-width="0.4" opacity="0.85"/>
<rect x="286.07" y="110.3" width="0.7" height="2.6" fill="#a6cc98" stroke="none" stroke-width="0.4" opacity="0.85"/>
<rect x="290.62" y="110.3" width="0.7" height="2.6" fill="#a6cc98" stroke="none" stroke-width="0.4" opacity="0.85"/>
<rect x="285.72" y="110.3" width="0.7" height="2.6" fill="#a6cc98" stroke="none" stroke-width="0.4" opacity="0.85"/>
<rect x="285.76" y="110.3" width="0.7" height="2.6" fill="#a6cc98" stroke="none" stroke-width="0.4" opacity="0.85"/>
<rect x="286.97" y="110.3" width="0.7" height="2.6" fill="#a6cc98" stroke="none" stroke-width="0.4" opacity="0.85"/>
<rect x="295.9" y="110.3" width="0.7" height="2.6" fill="#a6cc98" stroke="none" stroke-width="0.4" opacity="0.85"/>
<rect x="287.33" y="114.1" width="0.7" height="2.6" fill="#8aaaa6" stroke="none" stroke-width="0.4" opacity="0.85"/>
<rect x="291.61" y="114.1" width="0.7" height="2.6" fill="#8aaaa6" stroke="none" stroke-width="0.4" opacity="0.85"/>
<rect x="302.33" y="114.1" width="0.7" height="2.6" fill="#8aaaa6" stroke="none" stroke-width="0.4" opacity="0.85"/>
<rect x="303.41" y="114.1" width="0.7" height="2.6" fill="#8aaaa6" stroke="none" stroke-width="0.4" opacity="0.85"/>
<rect x="304.48" y="114.1" width="0.7" height="2.6" fill="#8aaaa6" stroke="none" stroke-width="0.4" opacity="0.85"/>
<rect x="307.69" y="114.1" width="0.7" height="2.6" fill="#8aaaa6" stroke="none" stroke-width="0.4" opacity="0.85"/>
<rect x="285.72" y="117.7" width="0.7" height="2.6" fill="#6c88bc" stroke="none" stroke-width="0.4" opacity="0.85"/>
<rect x="294.83" y="117.7" width="0.7" height="2.6" fill="#6c88bc" stroke="none" stroke-width="0.4" opacity="0.85"/>
<rect x="299.12" y="117.7" width="0.7" height="2.6" fill="#6c88bc" stroke="none" stroke-width="0.4" opacity="0.85"/>
<rect x="301.26" y="117.7" width="0.7" height="2.6" fill="#6c88bc" stroke="none" stroke-width="0.4" opacity="0.85"/>
<rect x="288.93" y="121.6" width="0.7" height="2.6" fill="#55559a" stroke="none" stroke-width="0.4" opacity="0.85"/>
<rect x="291.08" y="121.6" width="0.7" height="2.6" fill="#55559a" stroke="none" stroke-width="0.4" opacity="0.85"/>
<rect x="293.76" y="121.6" width="0.7" height="2.6" fill="#55559a" stroke="none" stroke-width="0.4" opacity="0.85"/>
<rect x="295.37" y="121.6" width="0.7" height="2.6" fill="#55559a" stroke="none" stroke-width="0.4" opacity="0.85"/>
<rect x="298.05" y="121.6" width="0.7" height="2.6" fill="#55559a" stroke="none" stroke-width="0.4" opacity="0.85"/>
<rect x="301.26" y="121.6" width="0.7" height="2.6" fill="#55559a" stroke="none" stroke-width="0.4" opacity="0.85"/>
<rect x="306.09" y="125.3" width="0.7" height="2.6" fill="#2c2c66" stroke="none" stroke-width="0.4" opacity="0.85"/>
<rect x="308.23" y="125.3" width="0.7" height="2.6" fill="#2c2c66" stroke="none" stroke-width="0.4" opacity="0.85"/>
<rect x="294.29" y="129.1" width="0.7" height="2.6" fill="#dc8c9c" stroke="none" stroke-width="0.4" opacity="0.85"/>
<rect x="296.44" y="129.1" width="0.7" height="2.6" fill="#dc8c9c" stroke="none" stroke-width="0.4" opacity="0.85"/>
<rect x="292.69" y="133" width="0.7" height="2.6" fill="#d8a4b0" stroke="none" stroke-width="0.4" opacity="0.85"/>
<rect x="294.83" y="133" width="0.7" height="2.6" fill="#d8a4b0" stroke="none" stroke-width="0.4" opacity="0.85"/>
<rect x="305.55" y="133" width="0.7" height="2.6" fill="#d8a4b0" stroke="none" stroke-width="0.4" opacity="0.85"/>
<rect x="311.98" y="136.8" width="0.7" height="2.6" fill="#c89494" stroke="none" stroke-width="0.4" opacity="0.85"/>
<rect x="316.27" y="136.8" width="0.7" height="2.6" fill="#c89494" stroke="none" stroke-width="0.4" opacity="0.85"/>
<rect x="322.7" y="136.8" width="0.7" height="2.6" fill="#c89494" stroke="none" stroke-width="0.4" opacity="0.85"/>
<rect x="292.15" y="140.5" width="0.7" height="2.6" fill="#e6bcbc" stroke="none" stroke-width="0.4" opacity="0.85"/>
<rect x="302.87" y="140.5" width="0.7" height="2.6" fill="#e6bcbc" stroke="none" stroke-width="0.4" opacity="0.85"/>
<rect x="305.55" y="144.3" width="0.7" height="2.6" fill="#eeeee2" stroke="none" stroke-width="0.4" opacity="0.85"/>
<rect x="307.69" y="148.2" width="0.7" height="2.6" fill="#d2d2c8" stroke="none" stroke-width="0.4" opacity="0.85"/>
<rect x="287.86" y="151.8" width="0.7" height="2.6" fill="#b0b0a6" stroke="none" stroke-width="0.4" opacity="0.85"/>
<rect x="321.63" y="155.3" width="0.7" height="2.6" fill="#6e6e6a" stroke="none" stroke-width="0.4" opacity="0.85"/>
<text x="211.5" y="130.3" font-size="7" text-anchor="start" fill="#111" stroke="#111" stroke-width="0.1" font-weight="bold">Phyla</text>
<circle cx="230.8" cy="99.8" r="1.2" fill="#8e2a2a" stroke="#666" stroke-width="0.25"/>
<text x="233.6" y="101.1" font-size="3.6" text-anchor="start" fill="#444" stroke="#444" stroke-width="0.05" font-style="italic">Pseudomonadota</text>
<circle cx="230.8" cy="103.59" r="1.2" fill="#dca060" stroke="#666" stroke-width="0.25"/>
<text x="233.6" y="104.89" font-size="3.6" text-anchor="start" fill="#444" stroke="#444" stroke-width="0.05" font-style="italic">Desulfobacterota</text>
<circle cx="230.8" cy="107.38" r="1.2" fill="#e6d27a" stroke="#666" stroke-width="0.25"/>
<text x="233.6" y="108.68" font-size="3.6" text-anchor="start" fill="#444" stroke="#444" stroke-width="0.05" font-style="italic">Nitrospirota</text>
<circle cx="230.8" cy="111.17" r="1.2" fill="#a6cc98" stroke="#666" stroke-width="0.25"/>
<text x="233.6" y="112.47" font-size="3.6" text-anchor="start" fill="#444" stroke="#444" stroke-width="0.05" font-style="italic">Omnitrophota</text>
<circle cx="230.8" cy="114.96" r="1.2" fill="#8aaaa6" stroke="#666" stroke-width="0.25"/>
<text x="233.6" y="116.26" font-size="3.6" text-anchor="start" fill="#444" stroke="#444" stroke-width="0.05" font-style="italic">Bdellovibrionota</text>
<circle cx="230.8" cy="118.75" r="1.2" fill="#6c88bc" stroke="#666" stroke-width="0.25"/>
<text x="233.6" y="120.05" font-size="3.6" text-anchor="start" fill="#444" stroke="#444" stroke-width="0.05" font-style="italic">Planctomycetota</text>
<circle cx="230.8" cy="122.54" r="1.2" fill="#55559a" stroke="#666" stroke-width="0.25"/>
<text x="233.6" y="123.84" font-size="3.6" text-anchor="start" fill="#444" stroke="#444" stroke-width="0.05" font-style="italic">Nitrospinota</text>
<circle cx="230.8" cy="126.33" r="1.2" fill="#2c2c66" stroke="#666" stroke-width="0.25"/>
<text x="233.6" y="127.63" font-size="3.6" text-anchor="start" fill="#444" stroke="#444" stroke-width="0.05" font-style="italic">SAR324</text>
<circle cx="230.8" cy="130.12" r="1.2" fill="#dc8c9c" stroke="#666" stroke-width="0.25"/>
<text x="233.6" y="131.42" font-size="3.6" text-anchor="start" fill="#444" stroke="#444" stroke-width="0.05" font-style="italic">Elusimicrobiota</text>
<circle cx="230.8" cy="133.91" r="1.2" fill="#d8a4b0" stroke="#666" stroke-width="0.25"/>
<text x="233.6" y="135.21" font-size="3.6" text-anchor="start" fill="#444" stroke="#444" stroke-width="0.05" font-style="italic">Hydrogenedentota</text>
<circle cx="230.8" cy="137.7" r="1.2" fill="#c89494" stroke="#666" stroke-width="0.25"/>
<text x="233.6" y="139" font-size="3.6" text-anchor="start" fill="#444" stroke="#444" stroke-width="0.05" font-style="italic">Riflebacteria</text>
<circle cx="230.8" cy="141.49" r="1.2" fill="#e6bcbc" stroke="#666" stroke-width="0.25"/>
<text x="233.6" y="142.79" font-size="3.6" text-anchor="start" fill="#444" stroke="#444" stroke-width="0.05" font-style="italic">UBA10199</text>
<circle cx="230.8" cy="145.28" r="1.2" fill="#eeeee2" stroke="#666" stroke-width="0.25"/>
<text x="233.6" y="146.58" font-size="3.6" text-anchor="start" fill="#444" stroke="#444" stroke-width="0.05" font-style="italic">Desulfobacterota_G</text>
<circle cx="230.8" cy="149.07" r="1.2" fill="#d2d2c8" stroke="#666" stroke-width="0.25"/>
<text x="233.6" y="150.37" font-size="3.6" text-anchor="start" fill="#444" stroke="#444" stroke-width="0.05" font-style="italic">Fibrobacterota</text>
<circle cx="230.8" cy="152.86" r="1.2" fill="#b0b0a6" stroke="#666" stroke-width="0.25"/>
<text x="233.6" y="154.16" font-size="3.6" text-anchor="start" fill="#444" stroke="#444" stroke-width="0.05" font-style="italic">Latescibacterota</text>
<circle cx="230.8" cy="156.65" r="1.2" fill="#6e6e6a" stroke="#666" stroke-width="0.25"/>
<text x="233.6" y="157.95" font-size="3.6" text-anchor="start" fill="#444" stroke="#444" stroke-width="0.05" font-style="italic">Myxococcota</text>
<text x="368.5" y="9.5" font-size="10.6" text-anchor="start" fill="#1a1a1a" stroke="#1a1a1a" stroke-width="0.3" font-family='"Liberation Sans", sans-serif'>(c)</text>
<rect x="383" y="11.3" width="97" height="10.3" fill="#fff" stroke="#cfcfcf" stroke-width="0.5"/>
<line x1="408.1" y1="11.3" x2="408.1" y2="21.6" stroke="#d6d6d6" stroke-width="0.5"/>
<line x1="432.1" y1="11.3" x2="432.1" y2="21.6" stroke="#d6d6d6" stroke-width="0.5"/>
<line x1="456.1" y1="11.3" x2="456.1" y2="21.6" stroke="#d6d6d6" stroke-width="0.5"/>
<line x1="383" y1="21.6" x2="480" y2="21.6" stroke="#999" stroke-width="0.5"/>
<rect x="383.4" y="12.4" width="3.8" height="8.1" fill="#1c1c1c" stroke="none" stroke-width="0.4" rx="1.2"/>
<rect x="387.2" y="12.4" width="5.3" height="8.1" fill="#707070" stroke="none" stroke-width="0.4"/>
<rect x="392.5" y="12.4" width="4" height="8.1" fill="#262626" stroke="none" stroke-width="0.4"/>
<path d="M385.6 12.8l1.1 1.1m0-1.1l-1.1 1.1M395.7 16.8l1.1 1.1m0-1.1l-1.1 1.1M395.3 19.7l1.1 1.1m0-1.1l-1.1 1.1M384.7 12.8l1.1 1.1m0-1.1l-1.1 1.1M395.1 13.3l1.1 1.1m0-1.1l-1.1 1.1M400.9 13.7h1.2m-.6-.6v1.2M402.7 14.1l1.1 1.1m0-1.1l-1.1 1.1M394.2 16.7h1.2m-.6-.6v1.2M386.5 18.8h1.2m-.6-.6v1.2M403.9 18.9h1.2m-.6-.6v1.2M383.8 14.2l1.1 1.1m0-1.1l-1.1 1.1M396.8 16.0h1.2m-.6-.6v1.2M405.8 14.9l1.1 1.1m0-1.1l-1.1 1.1M386.2 14.2h1.2m-.6-.6v1.2M404.3 16.3h1.2m-.6-.6v1.2M397.6 17.7h1.2m-.6-.6v1.2M403.3 15.7l1.1 1.1m0-1.1l-1.1 1.1M399.1 18.8h1.2m-.6-.6v1.2M385.8 13.0l1.1 1.1m0-1.1l-1.1 1.1M403.9 13.7h1.2m-.6-.6v1.2M402.2 15.3h1.2m-.6-.6v1.2M383.6 20.1h1.2m-.6-.6v1.2M396.5 15.9h1.2m-.6-.6v1.2M398.3 14.0l1.1 1.1m0-1.1l-1.1 1.1M385.3 19.1l1.1 1.1m0-1.1l-1.1 1.1M396.2 16.5h1.2m-.6-.6v1.2M383.7 15.4l1.1 1.1m0-1.1l-1.1 1.1M394.6 13.4l1.1 1.1m0-1.1l-1.1 1.1M394.2 16.5h1.2m-.6-.6v1.2M405.2 16.0h1.2m-.6-.6v1.2M402.7 19.3h1.2m-.6-.6v1.2M397.9 13.0l1.1 1.1m0-1.1l-1.1 1.1M394.4 19.0l1.1 1.1m0-1.1l-1.1 1.1M392.6 13.7h1.2m-.6-.6v1.2M398.4 19.4l1.1 1.1m0-1.1l-1.1 1.1M397.3 18.5l1.1 1.1m0-1.1l-1.1 1.1M384.3 20.2h1.2m-.6-.6v1.2M397.8 14.1l1.1 1.1m0-1.1l-1.1 1.1M398.7 13.0l1.1 1.1m0-1.1l-1.1 1.1M404.1 14.0l1.1 1.1m0-1.1l-1.1 1.1M401.3 17.4l1.1 1.1m0-1.1l-1.1 1.1M393.1 15.3l1.1 1.1m0-1.1l-1.1 1.1M402.0 18.2l1.1 1.1m0-1.1l-1.1 1.1M397.6 18.7l1.1 1.1m0-1.1l-1.1 1.1M385.3 16.1l1.1 1.1m0-1.1l-1.1 1.1M385.7 12.4l1.1 1.1m0-1.1l-1.1 1.1M383.7 14.0l1.1 1.1m0-1.1l-1.1 1.1M396.5 13.4h1.2m-.6-.6v1.2M399.2 19.0h1.2m-.6-.6v1.2M385.2 13.1h1.2m-.6-.6v1.2M385.7 13.3h1.2m-.6-.6v1.2M402.4 14.2l1.1 1.1m0-1.1l-1.1 1.1M401.0 14.5h1.2m-.6-.6v1.2M384.7 15.1l1.1 1.1m0-1.1l-1.1 1.1M393.5 18.8l1.1 1.1m0-1.1l-1.1 1.1M397.2 13.8h1.2m-.6-.6v1.2M384.0 19.0h1.2m-.6-.6v1.2M393.7 18.3l1.1 1.1m0-1.1l-1.1 1.1M404.2 17.1h1.2m-.6-.6v1.2M393.2 13.8l1.1 1.1m0-1.1l-1.1 1.1M401.2 17.4h1.2m-.6-.6v1.2M403.2 16.5h1.2m-.6-.6v1.2M384.4 17.7l1.1 1.1m0-1.1l-1.1 1.1M393.8 19.6l1.1 1.1m0-1.1l-1.1 1.1M401.8 17.0l1.1 1.1m0-1.1l-1.1 1.1M392.9 14.8h1.2m-.6-.6v1.2M398.2 20.1h1.2m-.6-.6v1.2M400.2 14.1l1.1 1.1m0-1.1l-1.1 1.1M398.3 16.5l1.1 1.1m0-1.1l-1.1 1.1M396.7 13.6h1.2m-.6-.6v1.2M395.9 17.5l1.1 1.1m0-1.1l-1.1 1.1M400.5 12.2l1.1 1.1m0-1.1l-1.1 1.1M397.4 18.4h1.2m-.6-.6v1.2M396.4 18.1h1.2m-.6-.6v1.2M401.5 14.8l1.1 1.1m0-1.1l-1.1 1.1M384.1 13.4h1.2m-.6-.6v1.2M396.5 14.0l1.1 1.1m0-1.1l-1.1 1.1M386.1 15.5h1.2m-.6-.6v1.2M404.0 17.5h1.2m-.6-.6v1.2M401.1 17.6l1.1 1.1m0-1.1l-1.1 1.1M397.9 15.7l1.1 1.1m0-1.1l-1.1 1.1M393.8 19.6l1.1 1.1m0-1.1l-1.1 1.1M385.8 13.3l1.1 1.1m0-1.1l-1.1 1.1M400.6 14.3h1.2m-.6-.6v1.2M400.2 13.1l1.1 1.1m0-1.1l-1.1 1.1M403.3 15.2l1.1 1.1m0-1.1l-1.1 1.1M398.4 14.1l1.1 1.1m0-1.1l-1.1 1.1M404.8 12.2l1.1 1.1m0-1.1l-1.1 1.1M395.9 16.2h1.2m-.6-.6v1.2M404.6 19.5l1.1 1.1m0-1.1l-1.1 1.1M385.6 16.6h1.2m-.6-.6v1.2M402.9 17.6h1.2m-.6-.6v1.2M398.4 19.7h1.2m-.6-.6v1.2M385.2 14.5h1.2m-.6-.6v1.2M385.0 13.1h1.2m-.6-.6v1.2M383.6 14.4l1.1 1.1m0-1.1l-1.1 1.1M402.1 18.9l1.1 1.1m0-1.1l-1.1 1.1M392.9 15.3l1.1 1.1m0-1.1l-1.1 1.1M396.4 13.8l1.1 1.1m0-1.1l-1.1 1.1M394.6 18.3h1.2m-.6-.6v1.2M397.0 15.0h1.2m-.6-.6v1.2M386.6 17.9l1.1 1.1m0-1.1l-1.1 1.1M400.6 13.5l1.1 1.1m0-1.1l-1.1 1.1M392.8 19.4l1.1 1.1m0-1.1l-1.1 1.1M386.4 19.6l1.1 1.1m0-1.1l-1.1 1.1M384.2 15.6h1.2m-.6-.6v1.2M403.0 20.3h1.2m-.6-.6v1.2M386.0 19.8h1.2m-.6-.6v1.2M392.8 15.0l1.1 1.1m0-1.1l-1.1 1.1M385.8 12.1l1.1 1.1m0-1.1l-1.1 1.1M396.8 13.6h1.2m-.6-.6v1.2M400.0 12.4l1.1 1.1m0-1.1l-1.1 1.1M396.3 13.5l1.1 1.1m0-1.1l-1.1 1.1M397.4 15.8h1.2m-.6-.6v1.2M397.5 12.3l1.1 1.1m0-1.1l-1.1 1.1M398.6 18.4h1.2m-.6-.6v1.2M405.3 17.5h1.2m-.6-.6v1.2M405.8 15.0l1.1 1.1m0-1.1l-1.1 1.1M394.6 18.3h1.2m-.6-.6v1.2M401.7 14.6l1.1 1.1m0-1.1l-1.1 1.1M394.4 12.7l1.1 1.1m0-1.1l-1.1 1.1M398.6 12.5l1.1 1.1m0-1.1l-1.1 1.1M406.3 14.1l1.1 1.1m0-1.1l-1.1 1.1M392.8 18.4h1.2m-.6-.6v1.2M385.1 18.5l1.1 1.1m0-1.1l-1.1 1.1M395.8 16.5l1.1 1.1m0-1.1l-1.1 1.1M397.3 16.0l1.1 1.1m0-1.1l-1.1 1.1M402.2 19.7l1.1 1.1m0-1.1l-1.1 1.1M394.9 19.1h1.2m-.6-.6v1.2M397.0 17.1h1.2m-.6-.6v1.2M395.6 15.5l1.1 1.1m0-1.1l-1.1 1.1M405.7 13.4h1.2m-.6-.6v1.2M386.5 14.9l1.1 1.1m0-1.1l-1.1 1.1M386.3 12.1l1.1 1.1m0-1.1l-1.1 1.1M386.0 14.5l1.1 1.1m0-1.1l-1.1 1.1M401.1 12.5l1.1 1.1m0-1.1l-1.1 1.1M385.7 17.4l1.1 1.1m0-1.1l-1.1 1.1M395.5 19.7l1.1 1.1m0-1.1l-1.1 1.1M393.6 13.6l1.1 1.1m0-1.1l-1.1 1.1M399.9 18.4l1.1 1.1m0-1.1l-1.1 1.1M400.3 13.3l1.1 1.1m0-1.1l-1.1 1.1M392.4 19.1l1.1 1.1m0-1.1l-1.1 1.1M397.7 16.4h1.2m-.6-.6v1.2M398.2 13.6h1.2m-.6-.6v1.2M400.4 13.0h1.2m-.6-.6v1.2M396.1 17.4h1.2m-.6-.6v1.2M394.5 13.8l1.1 1.1m0-1.1l-1.1 1.1M404.2 13.5l1.1 1.1m0-1.1l-1.1 1.1M397.5 16.9h1.2m-.6-.6v1.2M395.1 13.5h1.2m-.6-.6v1.2M392.2 14.4l1.1 1.1m0-1.1l-1.1 1.1M403.6 15.6l1.1 1.1m0-1.1l-1.1 1.1M384.9 13.0l1.1 1.1m0-1.1l-1.1 1.1M392.3 13.2h1.2m-.6-.6v1.2M400.7 13.0h1.2m-.6-.6v1.2M396.7 13.6h1.2m-.6-.6v1.2M403.1 18.3l1.1 1.1m0-1.1l-1.1 1.1M400.5 20.0h1.2m-.6-.6v1.2M394.5 19.2l1.1 1.1m0-1.1l-1.1 1.1M394.0 13.8h1.2m-.6-.6v1.2M394.8 13.7h1.2m-.6-.6v1.2M398.3 14.6h1.2m-.6-.6v1.2M384.0 13.5l1.1 1.1m0-1.1l-1.1 1.1M402.5 18.9l1.1 1.1m0-1.1l-1.1 1.1M397.8 16.7h1.2m-.6-.6v1.2M395.6 16.9h1.2m-.6-.6v1.2M397.7 20.2h1.2m-.6-.6v1.2M394.6 14.6h1.2m-.6-.6v1.2M385.9 17.8l1.1 1.1m0-1.1l-1.1 1.1M398.5 17.5h1.2m-.6-.6v1.2M392.7 14.5l1.1 1.1m0-1.1l-1.1 1.1M385.5 16.8l1.1 1.1m0-1.1l-1.1 1.1M396.0 13.1l1.1 1.1m0-1.1l-1.1 1.1M383.8 12.1l1.1 1.1m0-1.1l-1.1 1.1M398.5 13.2l1.1 1.1m0-1.1l-1.1 1.1M395.6 18.1l1.1 1.1m0-1.1l-1.1 1.1M383.6 17.6h1.2m-.6-.6v1.2M392.4 16.0h1.2m-.6-.6v1.2M384.3 18.0l1.1 1.1m0-1.1l-1.1 1.1M396.6 13.1l1.1 1.1m0-1.1l-1.1 1.1M398.1 14.4l1.1 1.1m0-1.1l-1.1 1.1M395.9 18.6h1.2m-.6-.6v1.2M395.3 17.8l1.1 1.1m0-1.1l-1.1 1.1M393.9 18.0h1.2m-.6-.6v1.2M394.5 16.1l1.1 1.1m0-1.1l-1.1 1.1M396.9 14.3h1.2m-.6-.6v1.2M396.7 17.8l1.1 1.1m0-1.1l-1.1 1.1M399.1 14.4h1.2m-.6-.6v1.2M393.1 17.7h1.2m-.6-.6v1.2M395.2 18.0h1.2m-.6-.6v1.2M393.6 16.4l1.1 1.1m0-1.1l-1.1 1.1M392.1 13.2h1.2m-.6-.6v1.2M383.8 13.4h1.2m-.6-.6v1.2M385.4 12.3l1.1 1.1m0-1.1l-1.1 1.1M392.3 18.0h1.2m-.6-.6v1.2M404.1 18.9l1.1 1.1m0-1.1l-1.1 1.1M405.3 19.3l1.1 1.1m0-1.1l-1.1 1.1M385.0 12.9h1.2m-.6-.6v1.2M401.9 19.0h1.2m-.6-.6v1.2M384.8 13.4h1.2m-.6-.6v1.2M400.6 19.2h1.2m-.6-.6v1.2" stroke="#111" stroke-width="0.42" fill="none" stroke-opacity="0.8"/>
<path d="M412.4 14.6h1.2M413 14v1.2" stroke="#222" stroke-width="0.5"/>
<path d="M419.4 16.6h1.2M420 16v1.2" stroke="#222" stroke-width="0.5"/>
<path d="M434.5 14.4h1.2M435.1 13.8v1.2" stroke="#222" stroke-width="0.5"/>
<path d="M434.5 18.2h1.2M435.1 17.6v1.2" stroke="#222" stroke-width="0.5"/>
<path d="M447.9 15.5h1.2M448.5 14.9v1.2" stroke="#222" stroke-width="0.5"/>
<path d="M472.2 17.4h1.2M472.8 16.8v1.2" stroke="#222" stroke-width="0.5"/>
<text x="384.1" y="28.4" font-size="5" text-anchor="middle" fill="#333" stroke="#333" stroke-width="0.12">0</text>
<line x1="384.1" y1="21.6" x2="384.1" y2="23" stroke="#999" stroke-width="0.4"/>
<text x="408.1" y="28.4" font-size="5" text-anchor="middle" fill="#333" stroke="#333" stroke-width="0.12">1,000</text>
<line x1="408.1" y1="21.6" x2="408.1" y2="23" stroke="#999" stroke-width="0.4"/>
<text x="432.1" y="28.4" font-size="5" text-anchor="middle" fill="#333" stroke="#333" stroke-width="0.12">2,000</text>
<line x1="432.1" y1="21.6" x2="432.1" y2="23" stroke="#999" stroke-width="0.4"/>
<text x="456.1" y="28.4" font-size="5" text-anchor="middle" fill="#333" stroke="#333" stroke-width="0.12">3,000</text>
<line x1="456.1" y1="21.6" x2="456.1" y2="23" stroke="#999" stroke-width="0.4"/>
<text x="473.8" y="28.4" font-size="5" text-anchor="middle" fill="#333" stroke="#333" stroke-width="0.12">4,000</text>
<line x1="480.1" y1="21.6" x2="480.1" y2="23" stroke="#999" stroke-width="0.4"/>
<text x="431.6" y="35.9" font-size="5.7" text-anchor="middle" fill="#111" stroke="#111" stroke-width="0.1" font-weight="bold">Number of contigs</text>
<rect x="382.8" y="42.3" width="97.6" height="9.8" fill="#fff" stroke="#cfcfcf" stroke-width="0.5"/>
<line x1="398.9" y1="42.3" x2="398.9" y2="52.1" stroke="#d6d6d6" stroke-width="0.5"/>
<line x1="413.8" y1="42.3" x2="413.8" y2="52.1" stroke="#d6d6d6" stroke-width="0.5"/>
<line x1="428.7" y1="42.3" x2="428.7" y2="52.1" stroke="#d6d6d6" stroke-width="0.5"/>
<line x1="443.6" y1="42.3" x2="443.6" y2="52.1" stroke="#d6d6d6" stroke-width="0.5"/>
<line x1="458.5" y1="42.3" x2="458.5" y2="52.1" stroke="#d6d6d6" stroke-width="0.5"/>
<line x1="473.4" y1="42.3" x2="473.4" y2="52.1" stroke="#d6d6d6" stroke-width="0.5"/>
<line x1="382.8" y1="52.1" x2="480.4" y2="52.1" stroke="#999" stroke-width="0.5"/>
<rect x="381.3" y="40.9" width="8" height="12.3" fill="none" stroke="#aaa" stroke-width="0.5"/>
<path d="M383.3 43.2 C383.9 46.5 384.2 50 384.0 52.8 L386.0 52.8 C386.0 51 386.4 49.4 389.5 47.2 L391.6 45.6 L391.2 45.0 L388.6 46.6 C387.4 47.3 386.3 47.4 385.9 46.6 C385.5 45.2 384.9 43.6 383.3 43.2 Z" fill="#1a1a1a"/>
<rect x="383.6" y="47" width="1.6" height="5.6" fill="#777" opacity="0.6"/>
<path d="M393.6 50.5h1.2M394.2 49.9v1.2" stroke="#222" stroke-width="0.5"/>
<path d="M429.4 45h1.2M430 44.4v1.2" stroke="#222" stroke-width="0.5"/>
<path d="M436.4 44.6h1.2M437 44v1.2" stroke="#222" stroke-width="0.5"/>
<path d="M437.4 47h1.2M438 46.4v1.2" stroke="#222" stroke-width="0.5"/>
<path d="M439.4 45.5h1.2M440 44.9v1.2" stroke="#222" stroke-width="0.5"/>
<path d="M441.4 46.5h1.2M442 45.9v1.2" stroke="#222" stroke-width="0.5"/>
<path d="M444.4 47.5h1.2M445 46.9v1.2" stroke="#222" stroke-width="0.5"/>
<path d="M445.4 44.8h1.2M446 44.2v1.2" stroke="#222" stroke-width="0.5"/>
<path d="M447.4 46.8h1.2M448 46.2v1.2" stroke="#222" stroke-width="0.5"/>
<path d="M450.4 47h1.2M451 46.4v1.2" stroke="#222" stroke-width="0.5"/>
<path d="M452.4 46h1.2M453 45.4v1.2" stroke="#222" stroke-width="0.5"/>
<path d="M455.4 44.8h1.2M456 44.2v1.2" stroke="#222" stroke-width="0.5"/>
<path d="M457.4 46.6h1.2M458 46v1.2" stroke="#222" stroke-width="0.5"/>
<path d="M460.4 47.4h1.2M461 46.8v1.2" stroke="#222" stroke-width="0.5"/>
<path d="M464.4 44.8h1.2M465 44.2v1.2" stroke="#222" stroke-width="0.5"/>
<path d="M478.4 49.6h1.2M479 49v1.2" stroke="#222" stroke-width="0.5"/>
<line x1="389.3" y1="53.2" x2="480.4" y2="62.3" stroke="#bbb" stroke-width="0.5"/>
<line x1="381.3" y1="53.2" x2="382.8" y2="62.3" stroke="#bbb" stroke-width="0.5"/>
<text x="384.6" y="58.6" font-size="5" text-anchor="middle" fill="#333" stroke="#333" stroke-width="0.12">0</text>
<text x="413.3" y="58.6" font-size="5" text-anchor="middle" fill="#333" stroke="#333" stroke-width="0.12">2,000,000</text>
<text x="441" y="58.6" font-size="5" text-anchor="middle" fill="#333" stroke="#333" stroke-width="0.12">4,000,000</text>
<text x="474.2" y="58.6" font-size="5" text-anchor="middle" fill="#333" stroke="#333" stroke-width="0.12">6,000,000</text>
<rect x="382.8" y="62.4" width="97.6" height="10.5" fill="#fff" stroke="#cfcfcf" stroke-width="0.5"/>
<line x1="407.2" y1="62.4" x2="407.2" y2="72.9" stroke="#d6d6d6" stroke-width="0.5"/>
<line x1="431" y1="62.4" x2="431" y2="72.9" stroke="#d6d6d6" stroke-width="0.5"/>
<line x1="454.8" y1="62.4" x2="454.8" y2="72.9" stroke="#d6d6d6" stroke-width="0.5"/>
<line x1="478.6" y1="62.4" x2="478.6" y2="72.9" stroke="#d6d6d6" stroke-width="0.5"/>
<line x1="382.8" y1="72.9" x2="480.4" y2="72.9" stroke="#999" stroke-width="0.5"/>
<rect x="383" y="63.2" width="4" height="8.6" fill="#1c1c1c" stroke="none" stroke-width="0.4" rx="1.2"/>
<rect x="387" y="63.2" width="7" height="8.6" fill="#707070" stroke="none" stroke-width="0.4"/>
<rect x="394" y="63.2" width="6.3" height="8.6" fill="#262626" stroke="none" stroke-width="0.4"/>
<path d="M404.4 69.2h1.2m-.6-.6v1.2M398.7 64.1h1.2m-.6-.6v1.2M383.0 65.1h1.2m-.6-.6v1.2M401.3 66.9l1.1 1.1m0-1.1l-1.1 1.1M402.5 66.9l1.1 1.1m0-1.1l-1.1 1.1M403.3 70.6l1.1 1.1m0-1.1l-1.1 1.1M395.8 66.9l1.1 1.1m0-1.1l-1.1 1.1M384.5 69.9h1.2m-.6-.6v1.2M409.0 65.8l1.1 1.1m0-1.1l-1.1 1.1M399.2 64.1h1.2m-.6-.6v1.2M406.7 66.5h1.2m-.6-.6v1.2M411.4 68.1l1.1 1.1m0-1.1l-1.1 1.1M385.8 70.3h1.2m-.6-.6v1.2M386.1 67.0h1.2m-.6-.6v1.2M385.3 67.2h1.2m-.6-.6v1.2M398.4 64.1l1.1 1.1m0-1.1l-1.1 1.1M410.8 64.2h1.2m-.6-.6v1.2M411.0 66.4l1.1 1.1m0-1.1l-1.1 1.1M385.0 64.5l1.1 1.1m0-1.1l-1.1 1.1M385.6 67.8l1.1 1.1m0-1.1l-1.1 1.1M399.5 66.9h1.2m-.6-.6v1.2M399.0 69.7h1.2m-.6-.6v1.2M409.9 68.1l1.1 1.1m0-1.1l-1.1 1.1M394.5 63.7l1.1 1.1m0-1.1l-1.1 1.1M410.6 68.0l1.1 1.1m0-1.1l-1.1 1.1M395.3 70.5l1.1 1.1m0-1.1l-1.1 1.1M397.2 66.0l1.1 1.1m0-1.1l-1.1 1.1M401.4 67.3l1.1 1.1m0-1.1l-1.1 1.1M415.4 67.1l1.1 1.1m0-1.1l-1.1 1.1M394.6 70.2h1.2m-.6-.6v1.2M400.3 65.1h1.2m-.6-.6v1.2M396.9 64.4h1.2m-.6-.6v1.2M384.1 65.1l1.1 1.1m0-1.1l-1.1 1.1M396.5 71.1h1.2m-.6-.6v1.2M397.6 66.1l1.1 1.1m0-1.1l-1.1 1.1M397.1 70.0h1.2m-.6-.6v1.2M404.5 68.6h1.2m-.6-.6v1.2M406.2 65.8h1.2m-.6-.6v1.2M398.2 66.3h1.2m-.6-.6v1.2M386.4 63.4h1.2m-.6-.6v1.2M401.4 70.2h1.2m-.6-.6v1.2M402.0 70.2h1.2m-.6-.6v1.2M383.2 71.2h1.2m-.6-.6v1.2M384.9 64.0l1.1 1.1m0-1.1l-1.1 1.1M404.4 64.7h1.2m-.6-.6v1.2M402.3 70.7h1.2m-.6-.6v1.2M409.7 70.7h1.2m-.6-.6v1.2M402.6 69.1h1.2m-.6-.6v1.2M385.7 66.9l1.1 1.1m0-1.1l-1.1 1.1M398.7 63.5h1.2m-.6-.6v1.2M404.8 66.8h1.2m-.6-.6v1.2M394.6 68.1l1.1 1.1m0-1.1l-1.1 1.1M395.5 70.5l1.1 1.1m0-1.1l-1.1 1.1M406.9 67.4h1.2m-.6-.6v1.2M396.1 68.0l1.1 1.1m0-1.1l-1.1 1.1M404.6 67.3h1.2m-.6-.6v1.2M402.7 66.4l1.1 1.1m0-1.1l-1.1 1.1M398.0 65.8h1.2m-.6-.6v1.2M400.7 68.8h1.2m-.6-.6v1.2M394.6 69.3l1.1 1.1m0-1.1l-1.1 1.1M399.2 67.3l1.1 1.1m0-1.1l-1.1 1.1M383.1 65.0h1.2m-.6-.6v1.2M395.0 69.9h1.2m-.6-.6v1.2M394.2 68.5h1.2m-.6-.6v1.2M395.4 65.1h1.2m-.6-.6v1.2M396.9 63.7l1.1 1.1m0-1.1l-1.1 1.1M397.1 70.9h1.2m-.6-.6v1.2M398.0 69.8h1.2m-.6-.6v1.2M401.4 67.5l1.1 1.1m0-1.1l-1.1 1.1M397.7 68.1h1.2m-.6-.6v1.2M383.3 66.6h1.2m-.6-.6v1.2M416.3 66.7l1.1 1.1m0-1.1l-1.1 1.1M394.8 64.6l1.1 1.1m0-1.1l-1.1 1.1M383.1 68.5l1.1 1.1m0-1.1l-1.1 1.1M401.7 70.0l1.1 1.1m0-1.1l-1.1 1.1M396.1 65.4h1.2m-.6-.6v1.2M383.9 69.7h1.2m-.6-.6v1.2M410.9 64.1h1.2m-.6-.6v1.2M400.6 68.7l1.1 1.1m0-1.1l-1.1 1.1M394.9 69.6l1.1 1.1m0-1.1l-1.1 1.1M396.3 64.8h1.2m-.6-.6v1.2M384.1 66.4h1.2m-.6-.6v1.2M395.3 64.6h1.2m-.6-.6v1.2M394.8 68.0l1.1 1.1m0-1.1l-1.1 1.1M397.3 71.1h1.2m-.6-.6v1.2M410.4 69.6l1.1 1.1m0-1.1l-1.1 1.1M400.8 70.2h1.2m-.6-.6v1.2M395.5 68.3h1.2m-.6-.6v1.2M403.6 62.9l1.1 1.1m0-1.1l-1.1 1.1M393.7 70.1h1.2m-.6-.6v1.2M398.2 70.1h1.2m-.6-.6v1.2M410.0 70.3l1.1 1.1m0-1.1l-1.1 1.1M396.7 70.5l1.1 1.1m0-1.1l-1.1 1.1M395.4 66.7l1.1 1.1m0-1.1l-1.1 1.1M396.7 69.3l1.1 1.1m0-1.1l-1.1 1.1M397.7 69.2l1.1 1.1m0-1.1l-1.1 1.1M399.3 70.7h1.2m-.6-.6v1.2M393.8 64.4l1.1 1.1m0-1.1l-1.1 1.1M395.8 66.4h1.2m-.6-.6v1.2M401.2 65.9l1.1 1.1m0-1.1l-1.1 1.1M397.3 64.7h1.2m-.6-.6v1.2M401.1 70.0l1.1 1.1m0-1.1l-1.1 1.1M400.2 69.7h1.2m-.6-.6v1.2M403.2 63.2l1.1 1.1m0-1.1l-1.1 1.1M384.5 63.8h1.2m-.6-.6v1.2M406.0 71.2h1.2m-.6-.6v1.2M393.9 66.1l1.1 1.1m0-1.1l-1.1 1.1M403.2 68.0h1.2m-.6-.6v1.2M409.7 66.1l1.1 1.1m0-1.1l-1.1 1.1M400.6 71.0l1.1 1.1m0-1.1l-1.1 1.1M414.6 69.7l1.1 1.1m0-1.1l-1.1 1.1M410.5 68.7h1.2m-.6-.6v1.2M385.6 69.6h1.2m-.6-.6v1.2M401.8 65.5l1.1 1.1m0-1.1l-1.1 1.1M385.7 68.4l1.1 1.1m0-1.1l-1.1 1.1M402.8 71.1h1.2m-.6-.6v1.2M402.1 66.5l1.1 1.1m0-1.1l-1.1 1.1M413.2 68.0l1.1 1.1m0-1.1l-1.1 1.1M398.0 67.3h1.2m-.6-.6v1.2M403.4 66.2l1.1 1.1m0-1.1l-1.1 1.1M398.3 65.6l1.1 1.1m0-1.1l-1.1 1.1M400.8 63.9h1.2m-.6-.6v1.2M401.0 71.6h1.2m-.6-.6v1.2M396.2 65.8h1.2m-.6-.6v1.2M397.7 65.6l1.1 1.1m0-1.1l-1.1 1.1M398.2 67.2l1.1 1.1m0-1.1l-1.1 1.1M399.6 65.2h1.2m-.6-.6v1.2M386.3 69.7h1.2m-.6-.6v1.2M384.4 64.1h1.2m-.6-.6v1.2M395.9 70.1h1.2m-.6-.6v1.2M384.2 68.9l1.1 1.1m0-1.1l-1.1 1.1M384.1 69.5l1.1 1.1m0-1.1l-1.1 1.1M413.7 66.9l1.1 1.1m0-1.1l-1.1 1.1M406.4 70.0l1.1 1.1m0-1.1l-1.1 1.1M398.2 65.9l1.1 1.1m0-1.1l-1.1 1.1M393.8 63.4h1.2m-.6-.6v1.2M397.9 69.9l1.1 1.1m0-1.1l-1.1 1.1M398.9 70.7l1.1 1.1m0-1.1l-1.1 1.1M400.7 64.7l1.1 1.1m0-1.1l-1.1 1.1M384.8 68.6l1.1 1.1m0-1.1l-1.1 1.1M393.9 68.1h1.2m-.6-.6v1.2M384.9 70.5h1.2m-.6-.6v1.2M385.2 67.4h1.2m-.6-.6v1.2M385.3 66.2l1.1 1.1m0-1.1l-1.1 1.1M398.7 64.6h1.2m-.6-.6v1.2M386.0 70.2h1.2m-.6-.6v1.2M404.3 64.8l1.1 1.1m0-1.1l-1.1 1.1M400.9 70.0h1.2m-.6-.6v1.2M413.3 63.8h1.2m-.6-.6v1.2M415.2 64.9l1.1 1.1m0-1.1l-1.1 1.1M385.5 71.4h1.2m-.6-.6v1.2M409.0 70.0h1.2m-.6-.6v1.2M401.3 68.1l1.1 1.1m0-1.1l-1.1 1.1M408.8 65.5h1.2m-.6-.6v1.2M400.4 65.2l1.1 1.1m0-1.1l-1.1 1.1M385.2 68.3h1.2m-.6-.6v1.2M385.8 63.9l1.1 1.1m0-1.1l-1.1 1.1M384.6 67.9h1.2m-.6-.6v1.2M395.9 67.2h1.2m-.6-.6v1.2M393.7 62.9l1.1 1.1m0-1.1l-1.1 1.1M403.1 67.4l1.1 1.1m0-1.1l-1.1 1.1M401.0 65.8h1.2m-.6-.6v1.2M384.3 70.0l1.1 1.1m0-1.1l-1.1 1.1M385.0 65.2h1.2m-.6-.6v1.2M385.9 65.6l1.1 1.1m0-1.1l-1.1 1.1M394.2 70.4h1.2m-.6-.6v1.2M396.4 69.5h1.2m-.6-.6v1.2M397.3 69.2h1.2m-.6-.6v1.2M398.8 63.4h1.2m-.6-.6v1.2M408.6 66.0l1.1 1.1m0-1.1l-1.1 1.1M396.2 65.3l1.1 1.1m0-1.1l-1.1 1.1M413.4 66.9l1.1 1.1m0-1.1l-1.1 1.1M393.6 64.1h1.2m-.6-.6v1.2M398.3 70.3h1.2m-.6-.6v1.2M383.9 67.5l1.1 1.1m0-1.1l-1.1 1.1M411.7 67.8h1.2m-.6-.6v1.2M400.3 68.9h1.2m-.6-.6v1.2M393.4 70.6h1.2m-.6-.6v1.2M404.3 67.7h1.2m-.6-.6v1.2M406.9 64.3h1.2m-.6-.6v1.2M397.9 71.5h1.2m-.6-.6v1.2M385.8 65.8h1.2m-.6-.6v1.2M394.0 66.3h1.2m-.6-.6v1.2M383.8 66.8h1.2m-.6-.6v1.2M395.6 62.9l1.1 1.1m0-1.1l-1.1 1.1M408.2 68.3l1.1 1.1m0-1.1l-1.1 1.1M396.9 63.7l1.1 1.1m0-1.1l-1.1 1.1M397.7 63.4l1.1 1.1m0-1.1l-1.1 1.1M404.1 68.7l1.1 1.1m0-1.1l-1.1 1.1M408.1 65.7l1.1 1.1m0-1.1l-1.1 1.1M384.0 70.7h1.2m-.6-.6v1.2M405.8 67.9l1.1 1.1m0-1.1l-1.1 1.1M400.0 69.9l1.1 1.1m0-1.1l-1.1 1.1M412.6 65.9h1.2m-.6-.6v1.2M406.7 70.6l1.1 1.1m0-1.1l-1.1 1.1M396.1 64.7l1.1 1.1m0-1.1l-1.1 1.1M406.5 69.4l1.1 1.1m0-1.1l-1.1 1.1M403.7 67.5l1.1 1.1m0-1.1l-1.1 1.1M385.3 69.6l1.1 1.1m0-1.1l-1.1 1.1M383.7 68.3l1.1 1.1m0-1.1l-1.1 1.1M395.9 63.6l1.1 1.1m0-1.1l-1.1 1.1M401.9 67.0h1.2m-.6-.6v1.2M402.2 66.3h1.2m-.6-.6v1.2M400.4 65.1h1.2m-.6-.6v1.2M395.9 65.5h1.2m-.6-.6v1.2M397.0 66.6h1.2m-.6-.6v1.2M386.3 69.8l1.1 1.1m0-1.1l-1.1 1.1M385.0 67.5l1.1 1.1m0-1.1l-1.1 1.1M411.8 70.6h1.2m-.6-.6v1.2M395.1 65.7l1.1 1.1m0-1.1l-1.1 1.1M395.7 65.4h1.2m-.6-.6v1.2M394.5 64.3l1.1 1.1m0-1.1l-1.1 1.1M411.0 68.7l1.1 1.1m0-1.1l-1.1 1.1M386.0 64.5l1.1 1.1m0-1.1l-1.1 1.1M383.7 65.9h1.2m-.6-.6v1.2M398.3 68.1h1.2m-.6-.6v1.2M383.0 70.2h1.2m-.6-.6v1.2M383.8 70.4h1.2m-.6-.6v1.2M402.7 70.9h1.2m-.6-.6v1.2M395.6 66.6h1.2m-.6-.6v1.2M403.5 64.1h1.2m-.6-.6v1.2M399.9 69.1h1.2m-.6-.6v1.2M409.0 66.6l1.1 1.1m0-1.1l-1.1 1.1M402.0 69.1l1.1 1.1m0-1.1l-1.1 1.1M397.7 65.5h1.2m-.6-.6v1.2M409.1 67.3l1.1 1.1m0-1.1l-1.1 1.1M395.3 64.8l1.1 1.1m0-1.1l-1.1 1.1M407.5 69.1l1.1 1.1m0-1.1l-1.1 1.1M393.9 67.2h1.2m-.6-.6v1.2M401.9 65.2l1.1 1.1m0-1.1l-1.1 1.1M384.1 65.2l1.1 1.1m0-1.1l-1.1 1.1M384.3 63.5h1.2m-.6-.6v1.2M401.6 69.3h1.2m-.6-.6v1.2M385.0 66.9l1.1 1.1m0-1.1l-1.1 1.1M409.2 68.5h1.2m-.6-.6v1.2M383.5 69.8h1.2m-.6-.6v1.2M386.4 68.6h1.2m-.6-.6v1.2M402.3 69.8h1.2m-.6-.6v1.2M404.0 66.4h1.2m-.6-.6v1.2M398.2 64.8l1.1 1.1m0-1.1l-1.1 1.1M394.4 70.1h1.2m-.6-.6v1.2M415.5 66.9l1.1 1.1m0-1.1l-1.1 1.1M395.6 64.2l1.1 1.1m0-1.1l-1.1 1.1M401.7 63.2l1.1 1.1m0-1.1l-1.1 1.1M396.2 63.4h1.2m-.6-.6v1.2M412.1 66.3l1.1 1.1m0-1.1l-1.1 1.1M414.6 64.2l1.1 1.1m0-1.1l-1.1 1.1M384.6 65.5l1.1 1.1m0-1.1l-1.1 1.1M414.6 70.5h1.2m-.6-.6v1.2M408.8 69.5l1.1 1.1m0-1.1l-1.1 1.1M394.1 65.8h1.2m-.6-.6v1.2M406.4 68.2l1.1 1.1m0-1.1l-1.1 1.1M399.2 63.1l1.1 1.1m0-1.1l-1.1 1.1M385.1 64.9h1.2m-.6-.6v1.2M385.1 69.9l1.1 1.1m0-1.1l-1.1 1.1M385.1 67.6h1.2m-.6-.6v1.2M398.7 67.9h1.2m-.6-.6v1.2M401.8 71.5h1.2m-.6-.6v1.2M398.2 66.1l1.1 1.1m0-1.1l-1.1 1.1M407.8 69.2l1.1 1.1m0-1.1l-1.1 1.1M401.5 64.8l1.1 1.1m0-1.1l-1.1 1.1M393.9 64.6l1.1 1.1m0-1.1l-1.1 1.1M398.9 68.0h1.2m-.6-.6v1.2M402.3 69.0l1.1 1.1m0-1.1l-1.1 1.1M410.0 69.6l1.1 1.1m0-1.1l-1.1 1.1M396.4 71.2h1.2m-.6-.6v1.2M394.0 64.2h1.2m-.6-.6v1.2" stroke="#111" stroke-width="0.42" fill="none" stroke-opacity="0.8"/>
<path d="M422.7 66.3h1.2M423.3 65.7v1.2" stroke="#222" stroke-width="0.5"/>
<path d="M424.4 67.5h1.2M425 66.9v1.2" stroke="#222" stroke-width="0.5"/>
<path d="M425.7 63.3h1.2M426.3 62.7v1.2" stroke="#222" stroke-width="0.5"/>
<path d="M427.4 66.3h1.2M428 65.7v1.2" stroke="#222" stroke-width="0.5"/>
<path d="M430.4 66.9h1.2M431 66.3v1.2" stroke="#222" stroke-width="0.5"/>
<path d="M434 63.9h1.2M434.6 63.3v1.2" stroke="#222" stroke-width="0.5"/>
<path d="M444.4 67h1.2M445 66.4v1.2" stroke="#222" stroke-width="0.5"/>
<path d="M451.4 66.8h1.2M452 66.2v1.2" stroke="#222" stroke-width="0.5"/>
<path d="M457.4 66h1.2M458 65.4v1.2" stroke="#222" stroke-width="0.5"/>
<path d="M462.4 64.5h1.2M463 63.9v1.2" stroke="#222" stroke-width="0.5"/>
<path d="M469.4 67.6h1.2M470 67v1.2" stroke="#222" stroke-width="0.5"/>
<text x="383.4" y="79.5" font-size="5" text-anchor="middle" fill="#333" stroke="#333" stroke-width="0.12">0</text>
<line x1="383.4" y1="72.9" x2="383.4" y2="74.3" stroke="#999" stroke-width="0.4"/>
<text x="407.2" y="79.5" font-size="5" text-anchor="middle" fill="#333" stroke="#333" stroke-width="0.12">100,000</text>
<line x1="407.2" y1="72.9" x2="407.2" y2="74.3" stroke="#999" stroke-width="0.4"/>
<text x="431" y="79.5" font-size="5" text-anchor="middle" fill="#333" stroke="#333" stroke-width="0.12">200,000</text>
<line x1="431" y1="72.9" x2="431" y2="74.3" stroke="#999" stroke-width="0.4"/>
<text x="454.8" y="79.5" font-size="5" text-anchor="middle" fill="#333" stroke="#333" stroke-width="0.12">300,000</text>
<line x1="454.8" y1="72.9" x2="454.8" y2="74.3" stroke="#999" stroke-width="0.4"/>
<text x="474.4" y="79.5" font-size="5" text-anchor="middle" fill="#333" stroke="#333" stroke-width="0.12">400,000</text>
<line x1="478.6" y1="72.9" x2="478.6" y2="74.3" stroke="#999" stroke-width="0.4"/>
<text x="431.3" y="87.6" font-size="5.7" text-anchor="middle" fill="#111" stroke="#111" stroke-width="0.1" font-weight="bold">N50</text>
<rect x="383.4" y="91.6" width="96" height="9.6" fill="#fff" stroke="#cfcfcf" stroke-width="0.5"/>
<line x1="401.3" y1="91.6" x2="401.3" y2="101.2" stroke="#d6d6d6" stroke-width="0.5"/>
<line x1="418.6" y1="91.6" x2="418.6" y2="101.2" stroke="#d6d6d6" stroke-width="0.5"/>
<line x1="435.9" y1="91.6" x2="435.9" y2="101.2" stroke="#d6d6d6" stroke-width="0.5"/>
<line x1="453.2" y1="91.6" x2="453.2" y2="101.2" stroke="#d6d6d6" stroke-width="0.5"/>
<line x1="470.5" y1="91.6" x2="470.5" y2="101.2" stroke="#d6d6d6" stroke-width="0.5"/>
<line x1="383.4" y1="101.2" x2="479.4" y2="101.2" stroke="#999" stroke-width="0.5"/>
<rect x="404" y="92.4" width="10" height="8" fill="#808080" stroke="none" stroke-width="0.4" opacity="0.6"/>
<path d="M424.6 99.6h1.2m-.6-.6v1.2M397.3 96.0h1.2m-.6-.6v1.2M394.7 92.2l1.1 1.1m0-1.1l-1.1 1.1M425.0 96.3l1.1 1.1m0-1.1l-1.1 1.1M403.6 93.7h1.2m-.6-.6v1.2M418.0 99.3l1.1 1.1m0-1.1l-1.1 1.1M395.9 96.4h1.2m-.6-.6v1.2M424.4 94.0h1.2m-.6-.6v1.2M426.0 99.2h1.2m-.6-.6v1.2M401.9 94.2h1.2m-.6-.6v1.2M392.3 93.3l1.1 1.1m0-1.1l-1.1 1.1M424.0 92.4l1.1 1.1m0-1.1l-1.1 1.1M400.0 94.7h1.2m-.6-.6v1.2M409.9 96.6h1.2m-.6-.6v1.2M409.6 98.5h1.2m-.6-.6v1.2M429.7 99.7h1.2m-.6-.6v1.2M416.4 98.2h1.2m-.6-.6v1.2M402.6 96.2l1.1 1.1m0-1.1l-1.1 1.1M402.1 95.1h1.2m-.6-.6v1.2M403.2 93.9l1.1 1.1m0-1.1l-1.1 1.1M395.4 92.7h1.2m-.6-.6v1.2M393.1 94.3l1.1 1.1m0-1.1l-1.1 1.1M427.3 92.7l1.1 1.1m0-1.1l-1.1 1.1M424.0 95.3h1.2m-.6-.6v1.2M420.0 92.6l1.1 1.1m0-1.1l-1.1 1.1M425.4 94.0l1.1 1.1m0-1.1l-1.1 1.1M399.9 97.4l1.1 1.1m0-1.1l-1.1 1.1M397.5 97.2h1.2m-.6-.6v1.2M397.4 98.2h1.2m-.6-.6v1.2M393.5 98.8h1.2m-.6-.6v1.2M395.4 94.0h1.2m-.6-.6v1.2M427.8 99.1l1.1 1.1m0-1.1l-1.1 1.1M416.0 97.0l1.1 1.1m0-1.1l-1.1 1.1M402.2 92.5l1.1 1.1m0-1.1l-1.1 1.1M399.5 95.6l1.1 1.1m0-1.1l-1.1 1.1M427.2 99.6l1.1 1.1m0-1.1l-1.1 1.1M415.2 94.6l1.1 1.1m0-1.1l-1.1 1.1M395.6 97.9l1.1 1.1m0-1.1l-1.1 1.1M426.2 96.7h1.2m-.6-.6v1.2M399.5 98.0h1.2m-.6-.6v1.2M425.5 98.5h1.2m-.6-.6v1.2M400.1 96.6h1.2m-.6-.6v1.2M391.1 96.2h1.2m-.6-.6v1.2M425.9 99.6l1.1 1.1m0-1.1l-1.1 1.1M424.6 92.3l1.1 1.1m0-1.1l-1.1 1.1M425.9 93.2l1.1 1.1m0-1.1l-1.1 1.1M421.8 93.3l1.1 1.1m0-1.1l-1.1 1.1M425.2 99.5l1.1 1.1m0-1.1l-1.1 1.1M402.4 98.1l1.1 1.1m0-1.1l-1.1 1.1M421.2 93.4h1.2m-.6-.6v1.2M412.5 95.1l1.1 1.1m0-1.1l-1.1 1.1M404.6 99.6h1.2m-.6-.6v1.2M399.3 94.0l1.1 1.1m0-1.1l-1.1 1.1M397.6 98.4h1.2m-.6-.6v1.2M424.2 94.2h1.2m-.6-.6v1.2M419.8 98.7l1.1 1.1m0-1.1l-1.1 1.1M429.3 94.2l1.1 1.1m0-1.1l-1.1 1.1M420.7 93.8h1.2m-.6-.6v1.2M406.1 96.5l1.1 1.1m0-1.1l-1.1 1.1M425.8 98.5h1.2m-.6-.6v1.2M419.9 99.6l1.1 1.1m0-1.1l-1.1 1.1M394.6 99.5l1.1 1.1m0-1.1l-1.1 1.1M424.8 97.6l1.1 1.1m0-1.1l-1.1 1.1M413.8 92.7l1.1 1.1m0-1.1l-1.1 1.1M428.3 99.3h1.2m-.6-.6v1.2M398.7 98.6h1.2m-.6-.6v1.2M391.5 99.6l1.1 1.1m0-1.1l-1.1 1.1M424.7 95.8l1.1 1.1m0-1.1l-1.1 1.1M396.9 97.3l1.1 1.1m0-1.1l-1.1 1.1M421.7 94.7l1.1 1.1m0-1.1l-1.1 1.1M429.8 97.6l1.1 1.1m0-1.1l-1.1 1.1M399.7 92.6l1.1 1.1m0-1.1l-1.1 1.1M413.9 97.6h1.2m-.6-.6v1.2M414.0 100.1h1.2m-.6-.6v1.2M426.0 95.0l1.1 1.1m0-1.1l-1.1 1.1M424.3 92.6h1.2m-.6-.6v1.2M425.3 96.7l1.1 1.1m0-1.1l-1.1 1.1M397.5 93.5h1.2m-.6-.6v1.2M430.0 93.0h1.2m-.6-.6v1.2M424.4 98.3h1.2m-.6-.6v1.2M415.8 95.5h1.2m-.6-.6v1.2M408.5 96.7l1.1 1.1m0-1.1l-1.1 1.1M421.3 96.2h1.2m-.6-.6v1.2M426.9 96.6h1.2m-.6-.6v1.2M425.2 93.9h1.2m-.6-.6v1.2M412.3 98.9h1.2m-.6-.6v1.2M403.7 98.4l1.1 1.1m0-1.1l-1.1 1.1M399.3 92.8l1.1 1.1m0-1.1l-1.1 1.1M426.9 95.5l1.1 1.1m0-1.1l-1.1 1.1M424.3 97.3l1.1 1.1m0-1.1l-1.1 1.1M417.7 97.8l1.1 1.1m0-1.1l-1.1 1.1M403.2 96.0l1.1 1.1m0-1.1l-1.1 1.1M402.3 94.9l1.1 1.1m0-1.1l-1.1 1.1M400.1 94.5l1.1 1.1m0-1.1l-1.1 1.1M424.6 97.4h1.2m-.6-.6v1.2M392.3 95.4l1.1 1.1m0-1.1l-1.1 1.1M400.7 95.7h1.2m-.6-.6v1.2M425.8 95.5h1.2m-.6-.6v1.2M424.9 100.0h1.2m-.6-.6v1.2M426.0 96.0l1.1 1.1m0-1.1l-1.1 1.1M428.7 92.8h1.2m-.6-.6v1.2M420.8 95.4l1.1 1.1m0-1.1l-1.1 1.1M418.5 97.7h1.2m-.6-.6v1.2M392.2 97.8h1.2m-.6-.6v1.2M428.8 92.9l1.1 1.1m0-1.1l-1.1 1.1M418.3 92.8l1.1 1.1m0-1.1l-1.1 1.1M427.2 93.0h1.2m-.6-.6v1.2M407.1 92.5l1.1 1.1m0-1.1l-1.1 1.1M424.3 98.8h1.2m-.6-.6v1.2M402.1 96.0l1.1 1.1m0-1.1l-1.1 1.1M425.4 94.0l1.1 1.1m0-1.1l-1.1 1.1M419.7 96.8h1.2m-.6-.6v1.2M392.5 94.9h1.2m-.6-.6v1.2M429.6 94.0l1.1 1.1m0-1.1l-1.1 1.1M410.5 94.8l1.1 1.1m0-1.1l-1.1 1.1M427.1 92.4l1.1 1.1m0-1.1l-1.1 1.1M417.5 94.8h1.2m-.6-.6v1.2M427.4 96.1h1.2m-.6-.6v1.2M420.4 92.5l1.1 1.1m0-1.1l-1.1 1.1M392.5 98.6l1.1 1.1m0-1.1l-1.1 1.1M396.9 99.6h1.2m-.6-.6v1.2M426.7 97.7h1.2m-.6-.6v1.2M397.9 98.4l1.1 1.1m0-1.1l-1.1 1.1M425.1 92.8l1.1 1.1m0-1.1l-1.1 1.1M430.4 95.8h1.2m-.6-.6v1.2M421.3 97.3l1.1 1.1m0-1.1l-1.1 1.1M414.2 92.9h1.2m-.6-.6v1.2M398.7 96.5l1.1 1.1m0-1.1l-1.1 1.1M396.0 99.0l1.1 1.1m0-1.1l-1.1 1.1M424.8 98.7h1.2m-.6-.6v1.2M391.9 95.5h1.2m-.6-.6v1.2M424.7 99.6h1.2m-.6-.6v1.2M426.9 94.3l1.1 1.1m0-1.1l-1.1 1.1M426.7 99.1l1.1 1.1m0-1.1l-1.1 1.1M419.8 97.1h1.2m-.6-.6v1.2M395.5 94.7h1.2m-.6-.6v1.2M425.2 99.1l1.1 1.1m0-1.1l-1.1 1.1M423.3 95.2h1.2m-.6-.6v1.2M392.5 94.6l1.1 1.1m0-1.1l-1.1 1.1M415.7 94.0h1.2m-.6-.6v1.2M393.2 96.3l1.1 1.1m0-1.1l-1.1 1.1M417.3 96.6l1.1 1.1m0-1.1l-1.1 1.1M396.3 93.9h1.2m-.6-.6v1.2M419.2 98.7l1.1 1.1m0-1.1l-1.1 1.1M394.0 98.7l1.1 1.1m0-1.1l-1.1 1.1M420.1 96.4h1.2m-.6-.6v1.2M422.5 96.3h1.2m-.6-.6v1.2M413.9 94.3h1.2m-.6-.6v1.2M399.7 92.3l1.1 1.1m0-1.1l-1.1 1.1M400.7 98.8l1.1 1.1m0-1.1l-1.1 1.1M398.7 97.1h1.2m-.6-.6v1.2M392.9 94.5h1.2m-.6-.6v1.2M424.5 97.3h1.2m-.6-.6v1.2M425.8 98.2l1.1 1.1m0-1.1l-1.1 1.1M424.5 99.2l1.1 1.1m0-1.1l-1.1 1.1M393.8 94.5h1.2m-.6-.6v1.2M395.9 94.7l1.1 1.1m0-1.1l-1.1 1.1M398.2 95.1h1.2m-.6-.6v1.2M429.0 95.7l1.1 1.1m0-1.1l-1.1 1.1M430.0 98.3h1.2m-.6-.6v1.2M411.9 98.5l1.1 1.1m0-1.1l-1.1 1.1M402.5 93.8h1.2m-.6-.6v1.2M415.9 93.6h1.2m-.6-.6v1.2M430.0 98.3h1.2m-.6-.6v1.2M427.3 95.9h1.2m-.6-.6v1.2M429.7 94.9h1.2m-.6-.6v1.2M422.6 93.5h1.2m-.6-.6v1.2M425.3 98.4l1.1 1.1m0-1.1l-1.1 1.1M428.1 97.4l1.1 1.1m0-1.1l-1.1 1.1M429.0 97.8h1.2m-.6-.6v1.2M426.1 93.3h1.2m-.6-.6v1.2M425.7 97.1h1.2m-.6-.6v1.2M424.5 95.8l1.1 1.1m0-1.1l-1.1 1.1M418.1 95.8h1.2m-.6-.6v1.2M402.1 93.7l1.1 1.1m0-1.1l-1.1 1.1M427.6 94.3l1.1 1.1m0-1.1l-1.1 1.1M414.4 96.0h1.2m-.6-.6v1.2M424.7 97.2l1.1 1.1m0-1.1l-1.1 1.1M424.9 94.7h1.2m-.6-.6v1.2M398.3 99.4h1.2m-.6-.6v1.2M426.0 96.4h1.2m-.6-.6v1.2M424.0 94.0h1.2m-.6-.6v1.2M426.4 98.2l1.1 1.1m0-1.1l-1.1 1.1M394.2 96.8h1.2m-.6-.6v1.2M403.5 99.7h1.2m-.6-.6v1.2M411.8 95.4l1.1 1.1m0-1.1l-1.1 1.1M421.3 95.8l1.1 1.1m0-1.1l-1.1 1.1M424.5 98.9h1.2m-.6-.6v1.2M405.8 98.3h1.2m-.6-.6v1.2M392.0 94.5l1.1 1.1m0-1.1l-1.1 1.1M429.9 93.7h1.2m-.6-.6v1.2M392.4 95.6h1.2m-.6-.6v1.2M400.3 97.8l1.1 1.1m0-1.1l-1.1 1.1M428.0 95.5h1.2m-.6-.6v1.2M414.1 94.2l1.1 1.1m0-1.1l-1.1 1.1M418.6 98.1l1.1 1.1m0-1.1l-1.1 1.1M396.6 94.4l1.1 1.1m0-1.1l-1.1 1.1M403.7 99.4l1.1 1.1m0-1.1l-1.1 1.1M422.6 93.5l1.1 1.1m0-1.1l-1.1 1.1M394.5 94.0l1.1 1.1m0-1.1l-1.1 1.1M423.2 94.1l1.1 1.1m0-1.1l-1.1 1.1M426.4 99.0h1.2m-.6-.6v1.2M425.5 93.8h1.2m-.6-.6v1.2M409.6 97.1l1.1 1.1m0-1.1l-1.1 1.1M421.7 96.1l1.1 1.1m0-1.1l-1.1 1.1M399.6 97.9l1.1 1.1m0-1.1l-1.1 1.1M427.2 95.3h1.2m-.6-.6v1.2M399.0 93.1h1.2m-.6-.6v1.2M428.0 95.7h1.2m-.6-.6v1.2M401.1 97.5h1.2m-.6-.6v1.2M414.1 97.9l1.1 1.1m0-1.1l-1.1 1.1M428.6 94.6l1.1 1.1m0-1.1l-1.1 1.1M425.7 94.0h1.2m-.6-.6v1.2M408.4 97.1l1.1 1.1m0-1.1l-1.1 1.1M393.0 95.7h1.2m-.6-.6v1.2M428.0 96.4l1.1 1.1m0-1.1l-1.1 1.1M400.0 99.0h1.2m-.6-.6v1.2M424.8 97.7h1.2m-.6-.6v1.2M421.0 99.4h1.2m-.6-.6v1.2M427.8 98.7l1.1 1.1m0-1.1l-1.1 1.1M414.5 96.7l1.1 1.1m0-1.1l-1.1 1.1M398.3 93.3h1.2m-.6-.6v1.2M429.1 95.3h1.2m-.6-.6v1.2M419.0 94.5l1.1 1.1m0-1.1l-1.1 1.1M395.5 94.1l1.1 1.1m0-1.1l-1.1 1.1M424.6 94.3h1.2m-.6-.6v1.2M402.0 96.4l1.1 1.1m0-1.1l-1.1 1.1M425.0 99.0h1.2m-.6-.6v1.2M391.9 98.0l1.1 1.1m0-1.1l-1.1 1.1M398.4 99.2h1.2m-.6-.6v1.2M430.5 95.1h1.2m-.6-.6v1.2M414.7 95.5l1.1 1.1m0-1.1l-1.1 1.1M397.4 94.6h1.2m-.6-.6v1.2M423.5 98.3h1.2m-.6-.6v1.2M428.4 97.5l1.1 1.1m0-1.1l-1.1 1.1M391.2 99.2h1.2m-.6-.6v1.2M399.7 94.8l1.1 1.1m0-1.1l-1.1 1.1M424.2 94.4l1.1 1.1m0-1.1l-1.1 1.1M402.7 99.4h1.2m-.6-.6v1.2M394.3 92.9l1.1 1.1m0-1.1l-1.1 1.1M426.5 100.1h1.2m-.6-.6v1.2M426.6 98.3l1.1 1.1m0-1.1l-1.1 1.1M391.5 99.5h1.2m-.6-.6v1.2M430.7 95.9h1.2m-.6-.6v1.2M418.1 98.4l1.1 1.1m0-1.1l-1.1 1.1M398.0 96.5l1.1 1.1m0-1.1l-1.1 1.1M418.7 98.0l1.1 1.1m0-1.1l-1.1 1.1M420.7 96.1l1.1 1.1m0-1.1l-1.1 1.1M397.7 94.4h1.2m-.6-.6v1.2M394.3 96.5l1.1 1.1m0-1.1l-1.1 1.1M405.6 92.6l1.1 1.1m0-1.1l-1.1 1.1M404.3 97.2l1.1 1.1m0-1.1l-1.1 1.1M414.1 95.6l1.1 1.1m0-1.1l-1.1 1.1M427.5 92.5l1.1 1.1m0-1.1l-1.1 1.1M425.1 95.6h1.2m-.6-.6v1.2M427.7 97.7l1.1 1.1m0-1.1l-1.1 1.1M423.6 98.2l1.1 1.1m0-1.1l-1.1 1.1M398.9 99.1l1.1 1.1m0-1.1l-1.1 1.1M422.1 97.5h1.2m-.6-.6v1.2M396.0 92.7h1.2m-.6-.6v1.2M423.5 97.4l1.1 1.1m0-1.1l-1.1 1.1M424.9 95.9l1.1 1.1m0-1.1l-1.1 1.1M429.9 99.0l1.1 1.1m0-1.1l-1.1 1.1M427.1 98.8h1.2m-.6-.6v1.2M415.8 92.8h1.2m-.6-.6v1.2M426.4 93.5h1.2m-.6-.6v1.2M405.2 93.4h1.2m-.6-.6v1.2M394.0 98.1h1.2m-.6-.6v1.2M424.7 94.8l1.1 1.1m0-1.1l-1.1 1.1M424.8 97.2h1.2m-.6-.6v1.2M424.5 92.6l1.1 1.1m0-1.1l-1.1 1.1M411.3 97.5h1.2m-.6-.6v1.2M430.1 99.0h1.2m-.6-.6v1.2M413.7 98.5l1.1 1.1m0-1.1l-1.1 1.1M424.9 99.2l1.1 1.1m0-1.1l-1.1 1.1M399.3 94.3l1.1 1.1m0-1.1l-1.1 1.1M394.0 96.0h1.2m-.6-.6v1.2M422.1 98.4h1.2m-.6-.6v1.2M428.7 94.1l1.1 1.1m0-1.1l-1.1 1.1M391.5 94.4h1.2m-.6-.6v1.2M425.6 98.5h1.2m-.6-.6v1.2M429.1 96.1l1.1 1.1m0-1.1l-1.1 1.1M425.6 96.8l1.1 1.1m0-1.1l-1.1 1.1M423.2 93.8h1.2m-.6-.6v1.2M428.2 99.4l1.1 1.1m0-1.1l-1.1 1.1M400.5 98.9l1.1 1.1m0-1.1l-1.1 1.1M414.9 99.6l1.1 1.1m0-1.1l-1.1 1.1M413.9 97.8h1.2m-.6-.6v1.2M425.3 94.0l1.1 1.1m0-1.1l-1.1 1.1M397.8 94.6h1.2m-.6-.6v1.2M401.1 92.5l1.1 1.1m0-1.1l-1.1 1.1M403.0 93.1l1.1 1.1m0-1.1l-1.1 1.1M423.4 97.3l1.1 1.1m0-1.1l-1.1 1.1M424.9 92.8l1.1 1.1m0-1.1l-1.1 1.1M414.0 96.0h1.2m-.6-.6v1.2M422.1 95.2h1.2m-.6-.6v1.2M418.6 94.3h1.2m-.6-.6v1.2M428.0 94.2l1.1 1.1m0-1.1l-1.1 1.1M421.2 93.8h1.2m-.6-.6v1.2M423.8 95.5h1.2m-.6-.6v1.2M398.4 92.5l1.1 1.1m0-1.1l-1.1 1.1M424.8 99.4l1.1 1.1m0-1.1l-1.1 1.1M395.5 98.0l1.1 1.1m0-1.1l-1.1 1.1M425.4 95.5h1.2m-.6-.6v1.2M397.4 93.7l1.1 1.1m0-1.1l-1.1 1.1M412.4 95.6l1.1 1.1m0-1.1l-1.1 1.1M419.0 93.8l1.1 1.1m0-1.1l-1.1 1.1M394.7 96.1h1.2m-.6-.6v1.2M394.8 95.7l1.1 1.1m0-1.1l-1.1 1.1M398.3 98.3h1.2m-.6-.6v1.2M430.6 98.6l1.1 1.1m0-1.1l-1.1 1.1M426.9 93.9l1.1 1.1m0-1.1l-1.1 1.1M425.1 92.7l1.1 1.1m0-1.1l-1.1 1.1M426.5 97.6l1.1 1.1m0-1.1l-1.1 1.1M401.5 94.2h1.2m-.6-.6v1.2M394.9 99.5l1.1 1.1m0-1.1l-1.1 1.1M391.2 97.6h1.2m-.6-.6v1.2M407.6 96.6l1.1 1.1m0-1.1l-1.1 1.1M430.4 98.2h1.2m-.6-.6v1.2M421.2 93.4l1.1 1.1m0-1.1l-1.1 1.1M421.1 92.7l1.1 1.1m0-1.1l-1.1 1.1M391.3 99.3l1.1 1.1m0-1.1l-1.1 1.1M427.6 94.2h1.2m-.6-.6v1.2M424.4 95.5l1.1 1.1m0-1.1l-1.1 1.1M425.6 95.1l1.1 1.1m0-1.1l-1.1 1.1M391.6 94.9l1.1 1.1m0-1.1l-1.1 1.1M424.5 96.7l1.1 1.1m0-1.1l-1.1 1.1M394.9 99.3l1.1 1.1m0-1.1l-1.1 1.1M408.4 96.5l1.1 1.1m0-1.1l-1.1 1.1M396.5 96.5l1.1 1.1m0-1.1l-1.1 1.1M420.6 97.6h1.2m-.6-.6v1.2M425.4 99.2l1.1 1.1m0-1.1l-1.1 1.1M421.6 92.8l1.1 1.1m0-1.1l-1.1 1.1M400.5 99.9h1.2m-.6-.6v1.2M408.6 99.1h1.2m-.6-.6v1.2M394.7 94.5h1.2m-.6-.6v1.2M417.7 99.4h1.2m-.6-.6v1.2M393.4 99.4h1.2m-.6-.6v1.2M414.1 94.0l1.1 1.1m0-1.1l-1.1 1.1M411.8 96.2h1.2m-.6-.6v1.2M406.8 97.8h1.2m-.6-.6v1.2M423.1 98.0l1.1 1.1m0-1.1l-1.1 1.1M423.0 93.6l1.1 1.1m0-1.1l-1.1 1.1M430.0 94.4h1.2m-.6-.6v1.2M398.1 94.1l1.1 1.1m0-1.1l-1.1 1.1M422.5 96.4l1.1 1.1m0-1.1l-1.1 1.1M413.6 93.3l1.1 1.1m0-1.1l-1.1 1.1M428.8 99.0h1.2m-.6-.6v1.2M414.5 99.4l1.1 1.1m0-1.1l-1.1 1.1M425.5 94.5h1.2m-.6-.6v1.2M419.3 99.3h1.2m-.6-.6v1.2M391.3 96.7h1.2m-.6-.6v1.2M393.2 92.1l1.1 1.1m0-1.1l-1.1 1.1M391.0 93.8l1.1 1.1m0-1.1l-1.1 1.1M424.0 92.2l1.1 1.1m0-1.1l-1.1 1.1M430.7 93.2l1.1 1.1m0-1.1l-1.1 1.1M401.6 95.2l1.1 1.1m0-1.1l-1.1 1.1M392.7 92.7l1.1 1.1m0-1.1l-1.1 1.1M428.5 94.6l1.1 1.1m0-1.1l-1.1 1.1M422.1 96.3l1.1 1.1m0-1.1l-1.1 1.1M414.1 95.5h1.2m-.6-.6v1.2M417.6 98.1l1.1 1.1m0-1.1l-1.1 1.1M397.2 98.0h1.2m-.6-.6v1.2M425.1 93.3h1.2m-.6-.6v1.2M395.4 94.1h1.2m-.6-.6v1.2M398.2 94.8h1.2m-.6-.6v1.2M416.7 98.9h1.2m-.6-.6v1.2M429.1 94.4l1.1 1.1m0-1.1l-1.1 1.1M392.7 96.7l1.1 1.1m0-1.1l-1.1 1.1M408.1 93.7h1.2m-.6-.6v1.2M397.4 93.5h1.2m-.6-.6v1.2M403.0 98.0h1.2m-.6-.6v1.2M424.7 92.6l1.1 1.1m0-1.1l-1.1 1.1M399.3 97.1l1.1 1.1m0-1.1l-1.1 1.1M406.9 97.5l1.1 1.1m0-1.1l-1.1 1.1M422.0 99.7h1.2m-.6-.6v1.2M423.8 99.0l1.1 1.1m0-1.1l-1.1 1.1M428.8 95.4l1.1 1.1m0-1.1l-1.1 1.1M394.0 99.4l1.1 1.1m0-1.1l-1.1 1.1M416.7 93.1l1.1 1.1m0-1.1l-1.1 1.1M396.3 96.6h1.2m-.6-.6v1.2M396.7 97.9l1.1 1.1m0-1.1l-1.1 1.1M394.9 94.4h1.2m-.6-.6v1.2M399.5 98.2h1.2m-.6-.6v1.2M426.5 99.9h1.2m-.6-.6v1.2M406.5 97.5l1.1 1.1m0-1.1l-1.1 1.1M423.0 93.4h1.2m-.6-.6v1.2M399.2 94.0l1.1 1.1m0-1.1l-1.1 1.1M424.8 98.5l1.1 1.1m0-1.1l-1.1 1.1M415.9 94.6l1.1 1.1m0-1.1l-1.1 1.1M418.4 99.2h1.2m-.6-.6v1.2M416.5 97.2h1.2m-.6-.6v1.2M425.6 99.0h1.2m-.6-.6v1.2M403.1 94.9l1.1 1.1m0-1.1l-1.1 1.1M394.5 94.3h1.2m-.6-.6v1.2M412.2 98.8l1.1 1.1m0-1.1l-1.1 1.1M429.1 100.1h1.2m-.6-.6v1.2M429.2 94.5h1.2m-.6-.6v1.2M419.0 93.6h1.2m-.6-.6v1.2M418.4 95.2h1.2m-.6-.6v1.2M429.8 93.7h1.2m-.6-.6v1.2M413.6 97.0l1.1 1.1m0-1.1l-1.1 1.1M427.1 95.5l1.1 1.1m0-1.1l-1.1 1.1M428.9 98.7l1.1 1.1m0-1.1l-1.1 1.1M399.2 92.8l1.1 1.1m0-1.1l-1.1 1.1M417.6 93.8l1.1 1.1m0-1.1l-1.1 1.1M415.8 93.6l1.1 1.1m0-1.1l-1.1 1.1M417.8 99.3l1.1 1.1m0-1.1l-1.1 1.1M420.9 96.2h1.2m-.6-.6v1.2M401.3 99.2h1.2m-.6-.6v1.2M404.8 98.7l1.1 1.1m0-1.1l-1.1 1.1M403.0 99.9h1.2m-.6-.6v1.2M421.5 92.9h1.2m-.6-.6v1.2M415.0 95.3l1.1 1.1m0-1.1l-1.1 1.1M418.4 98.0l1.1 1.1m0-1.1l-1.1 1.1M415.9 98.1l1.1 1.1m0-1.1l-1.1 1.1M430.9 95.3l1.1 1.1m0-1.1l-1.1 1.1M422.1 93.6l1.1 1.1m0-1.1l-1.1 1.1M415.4 94.0h1.2m-.6-.6v1.2M413.3 93.7h1.2m-.6-.6v1.2M417.5 94.0h1.2m-.6-.6v1.2M416.4 98.7l1.1 1.1m0-1.1l-1.1 1.1M425.0 92.8h1.2m-.6-.6v1.2M430.0 99.9h1.2m-.6-.6v1.2M427.1 93.7h1.2m-.6-.6v1.2M426.2 96.6l1.1 1.1m0-1.1l-1.1 1.1M391.0 95.2h1.2m-.6-.6v1.2M398.8 94.5h1.2m-.6-.6v1.2M415.0 98.3h1.2m-.6-.6v1.2M400.0 99.0h1.2m-.6-.6v1.2M422.6 95.4l1.1 1.1m0-1.1l-1.1 1.1M417.6 97.2l1.1 1.1m0-1.1l-1.1 1.1M425.2 93.6l1.1 1.1m0-1.1l-1.1 1.1M393.7 93.5l1.1 1.1m0-1.1l-1.1 1.1M397.0 95.7l1.1 1.1m0-1.1l-1.1 1.1M426.7 99.2l1.1 1.1m0-1.1l-1.1 1.1M414.4 99.4l1.1 1.1m0-1.1l-1.1 1.1M405.1 94.7l1.1 1.1m0-1.1l-1.1 1.1M419.9 96.4l1.1 1.1m0-1.1l-1.1 1.1M428.4 95.3h1.2m-.6-.6v1.2M426.1 95.3l1.1 1.1m0-1.1l-1.1 1.1M413.1 97.6l1.1 1.1m0-1.1l-1.1 1.1M419.4 98.6h1.2m-.6-.6v1.2M402.2 99.8h1.2m-.6-.6v1.2M396.9 93.5h1.2m-.6-.6v1.2M424.5 94.5l1.1 1.1m0-1.1l-1.1 1.1M403.1 98.9l1.1 1.1m0-1.1l-1.1 1.1M422.1 96.9l1.1 1.1m0-1.1l-1.1 1.1M403.9 96.7l1.1 1.1m0-1.1l-1.1 1.1M403.8 95.4h1.2m-.6-.6v1.2M402.0 98.3l1.1 1.1m0-1.1l-1.1 1.1M391.6 93.5l1.1 1.1m0-1.1l-1.1 1.1M424.8 93.8l1.1 1.1m0-1.1l-1.1 1.1M415.4 98.1h1.2m-.6-.6v1.2M427.1 99.1l1.1 1.1m0-1.1l-1.1 1.1M426.3 94.1h1.2m-.6-.6v1.2M426.0 93.3h1.2m-.6-.6v1.2M427.4 99.5l1.1 1.1m0-1.1l-1.1 1.1M395.0 92.8h1.2m-.6-.6v1.2M394.6 93.3l1.1 1.1m0-1.1l-1.1 1.1M426.3 95.0l1.1 1.1m0-1.1l-1.1 1.1M423.5 100.2h1.2m-.6-.6v1.2M396.9 93.2l1.1 1.1m0-1.1l-1.1 1.1M392.8 96.6h1.2m-.6-.6v1.2M420.5 96.6l1.1 1.1m0-1.1l-1.1 1.1M422.5 99.1h1.2m-.6-.6v1.2M395.6 93.4l1.1 1.1m0-1.1l-1.1 1.1M391.0 98.7h1.2m-.6-.6v1.2M391.0 98.1l1.1 1.1m0-1.1l-1.1 1.1M430.5 99.7h1.2m-.6-.6v1.2M403.5 94.6h1.2m-.6-.6v1.2M429.2 100.1h1.2m-.6-.6v1.2M416.3 94.6h1.2m-.6-.6v1.2M419.7 95.8l1.1 1.1m0-1.1l-1.1 1.1M424.6 99.7h1.2m-.6-.6v1.2M416.4 97.0h1.2m-.6-.6v1.2M424.7 94.2l1.1 1.1m0-1.1l-1.1 1.1M426.4 97.6l1.1 1.1m0-1.1l-1.1 1.1M398.1 97.0l1.1 1.1m0-1.1l-1.1 1.1" stroke="#111" stroke-width="0.42" fill="none" stroke-opacity="0.85"/>
<path d="M432.8 96h1.2M433.4 95.4v1.2" stroke="#222" stroke-width="0.5"/>
<path d="M434.8 94.6h1.2M435.4 94v1.2" stroke="#222" stroke-width="0.5"/>
<path d="M436.4 97.2h1.2M437 96.6v1.2" stroke="#222" stroke-width="0.5"/>
<path d="M438 95.4h1.2M438.6 94.8v1.2" stroke="#222" stroke-width="0.5"/>
<path d="M464.9 94.8h1.2M465.5 94.2v1.2" stroke="#222" stroke-width="0.5"/>
<path d="M473.9 96.4h1.2M474.5 95.8v1.2" stroke="#222" stroke-width="0.5"/>
<text x="384" y="108.9" font-size="5" text-anchor="middle" fill="#333" stroke="#333" stroke-width="0.12">0</text>
<line x1="384" y1="101.2" x2="384" y2="102.6" stroke="#999" stroke-width="0.4"/>
<text x="401.3" y="108.9" font-size="5" text-anchor="middle" fill="#333" stroke="#333" stroke-width="0.12">2,000</text>
<line x1="401.3" y1="101.2" x2="401.3" y2="102.6" stroke="#999" stroke-width="0.4"/>
<text x="418.6" y="108.9" font-size="5" text-anchor="middle" fill="#333" stroke="#333" stroke-width="0.12">4,000</text>
<line x1="418.6" y1="101.2" x2="418.6" y2="102.6" stroke="#999" stroke-width="0.4"/>
<text x="435.9" y="108.9" font-size="5" text-anchor="middle" fill="#333" stroke="#333" stroke-width="0.12">6,000</text>
<line x1="435.9" y1="101.2" x2="435.9" y2="102.6" stroke="#999" stroke-width="0.4"/>
<text x="453.2" y="108.9" font-size="5" text-anchor="middle" fill="#333" stroke="#333" stroke-width="0.12">8,000</text>
<line x1="453.2" y1="101.2" x2="453.2" y2="102.6" stroke="#999" stroke-width="0.4"/>
<text x="470.5" y="108.9" font-size="5" text-anchor="middle" fill="#333" stroke="#333" stroke-width="0.12">10,000</text>
<line x1="470.5" y1="101.2" x2="470.5" y2="102.6" stroke="#999" stroke-width="0.4"/>
<text x="431.5" y="115.6" font-size="5.7" text-anchor="middle" fill="#111" stroke="#111" stroke-width="0.1" font-weight="bold">Number of CDS</text>
<rect x="383" y="120.4" width="96.4" height="10" fill="#fff" stroke="#cfcfcf" stroke-width="0.5"/>
<line x1="405" y1="120.4" x2="405" y2="130.4" stroke="#d6d6d6" stroke-width="0.5"/>
<line x1="427" y1="120.4" x2="427" y2="130.4" stroke="#d6d6d6" stroke-width="0.5"/>
<line x1="449" y1="120.4" x2="449" y2="130.4" stroke="#d6d6d6" stroke-width="0.5"/>
<line x1="471" y1="120.4" x2="471" y2="130.4" stroke="#d6d6d6" stroke-width="0.5"/>
<line x1="383" y1="130.4" x2="479.4" y2="130.4" stroke="#999" stroke-width="0.5"/>
<rect x="451.64" y="120.9" width="21.12" height="7.4" fill="#8a8a8a" stroke="none" stroke-width="0.4" opacity="0.75"/>
<rect x="426.45" y="121" width="1.1" height="7.4" fill="#161616" stroke="none" stroke-width="0.4" opacity="0.8"/>
<path d="M426 123.91h2" stroke="#222" stroke-width="0.4"/>
<path d="M426 127.48h2" stroke="#222" stroke-width="0.4"/>
<path d="M426 127.63h2" stroke="#222" stroke-width="0.4"/>
<rect x="430.85" y="121" width="1.1" height="7.4" fill="#161616" stroke="none" stroke-width="0.4" opacity="0.8"/>
<path d="M430.4 127.99h2" stroke="#222" stroke-width="0.4"/>
<path d="M430.4 124.27h2" stroke="#222" stroke-width="0.4"/>
<path d="M430.4 125.22h2" stroke="#222" stroke-width="0.4"/>
<rect x="435.25" y="121" width="1.1" height="7.4" fill="#161616" stroke="none" stroke-width="0.4" opacity="0.8"/>
<path d="M434.8 126.76h2" stroke="#222" stroke-width="0.4"/>
<path d="M434.8 126.43h2" stroke="#222" stroke-width="0.4"/>
<path d="M434.8 124.47h2" stroke="#222" stroke-width="0.4"/>
<rect x="439.65" y="121" width="1.1" height="7.4" fill="#161616" stroke="none" stroke-width="0.4" opacity="0.8"/>
<path d="M439.2 127.11h2" stroke="#222" stroke-width="0.4"/>
<path d="M439.2 124.11h2" stroke="#222" stroke-width="0.4"/>
<path d="M439.2 127.68h2" stroke="#222" stroke-width="0.4"/>
<rect x="444.05" y="121" width="1.1" height="7.4" fill="#161616" stroke="none" stroke-width="0.4" opacity="0.8"/>
<path d="M443.6 124.57h2" stroke="#222" stroke-width="0.4"/>
<path d="M443.6 122.27h2" stroke="#222" stroke-width="0.4"/>
<path d="M443.6 126.37h2" stroke="#222" stroke-width="0.4"/>
<rect x="448.32" y="121" width="1.35" height="7.4" fill="#161616" stroke="none" stroke-width="0.4" opacity="0.95"/>
<path d="M448 122.44h2" stroke="#222" stroke-width="0.4"/>
<path d="M448 125.92h2" stroke="#222" stroke-width="0.4"/>
<path d="M448 121.85h2" stroke="#222" stroke-width="0.4"/>
<rect x="452.72" y="121" width="1.35" height="7.4" fill="#161616" stroke="none" stroke-width="0.4" opacity="0.95"/>
<path d="M452.4 127.92h2" stroke="#222" stroke-width="0.4"/>
<path d="M452.4 125.02h2" stroke="#222" stroke-width="0.4"/>
<path d="M452.4 126.31h2" stroke="#222" stroke-width="0.4"/>
<rect x="457.12" y="121" width="1.35" height="7.4" fill="#161616" stroke="none" stroke-width="0.4" opacity="0.95"/>
<path d="M456.8 122.35h2" stroke="#222" stroke-width="0.4"/>
<path d="M456.8 125.64h2" stroke="#222" stroke-width="0.4"/>
<path d="M456.8 123.95h2" stroke="#222" stroke-width="0.4"/>
<rect x="461.52" y="121" width="1.35" height="7.4" fill="#161616" stroke="none" stroke-width="0.4" opacity="0.95"/>
<path d="M461.2 123.12h2" stroke="#222" stroke-width="0.4"/>
<path d="M461.2 126.8h2" stroke="#222" stroke-width="0.4"/>
<path d="M461.2 121.72h2" stroke="#222" stroke-width="0.4"/>
<rect x="465.93" y="121" width="1.35" height="7.4" fill="#161616" stroke="none" stroke-width="0.4" opacity="0.95"/>
<path d="M465.6 124.61h2" stroke="#222" stroke-width="0.4"/>
<path d="M465.6 122.06h2" stroke="#222" stroke-width="0.4"/>
<path d="M465.6 127.03h2" stroke="#222" stroke-width="0.4"/>
<rect x="470.32" y="121" width="1.35" height="7.4" fill="#161616" stroke="none" stroke-width="0.4" opacity="0.95"/>
<path d="M470 127.31h2" stroke="#222" stroke-width="0.4"/>
<path d="M470 121.72h2" stroke="#222" stroke-width="0.4"/>
<path d="M470 124.52h2" stroke="#222" stroke-width="0.4"/>
<rect x="474.72" y="121" width="1.35" height="7.4" fill="#161616" stroke="none" stroke-width="0.4" opacity="0.95"/>
<path d="M474.4 124.55h2" stroke="#222" stroke-width="0.4"/>
<path d="M474.4 126.17h2" stroke="#222" stroke-width="0.4"/>
<path d="M474.4 126.24h2" stroke="#222" stroke-width="0.4"/>
<path d="M404.45 122.4h1.1M405 121.85v1.1" stroke="#222" stroke-width="0.5"/>
<path d="M415.45 125h1.1M416 124.45v1.1" stroke="#222" stroke-width="0.5"/>
<path d="M418.97 124h1.1M419.52 123.45v1.1" stroke="#222" stroke-width="0.5"/>
<path d="M418.97 126h1.1M419.52 125.45v1.1" stroke="#222" stroke-width="0.5"/>
<path d="M422.93 125.2h1.1M423.48 124.65v1.1" stroke="#222" stroke-width="0.5"/>
<text x="383" y="137.4" font-size="5" text-anchor="middle" fill="#333" stroke="#333" stroke-width="0.12">0</text>
<line x1="383" y1="130.4" x2="383" y2="131.8" stroke="#999" stroke-width="0.4"/>
<text x="405" y="137.4" font-size="5" text-anchor="middle" fill="#333" stroke="#333" stroke-width="0.12">5</text>
<line x1="405" y1="130.4" x2="405" y2="131.8" stroke="#999" stroke-width="0.4"/>
<text x="427" y="137.4" font-size="5" text-anchor="middle" fill="#333" stroke="#333" stroke-width="0.12">10</text>
<line x1="427" y1="130.4" x2="427" y2="131.8" stroke="#999" stroke-width="0.4"/>
<text x="449" y="137.4" font-size="5" text-anchor="middle" fill="#333" stroke="#333" stroke-width="0.12">15</text>
<line x1="449" y1="130.4" x2="449" y2="131.8" stroke="#999" stroke-width="0.4"/>
<text x="471" y="137.4" font-size="5" text-anchor="middle" fill="#333" stroke="#333" stroke-width="0.12">20</text>
<line x1="471" y1="130.4" x2="471" y2="131.8" stroke="#999" stroke-width="0.4"/>
<text x="431.5" y="144.8" font-size="5.7" text-anchor="middle" fill="#111" stroke="#111" stroke-width="0.1" font-weight="bold">Number of tRNAs</text>
<rect x="383.5" y="149.1" width="95.5" height="9.1" fill="#fff" stroke="#cfcfcf" stroke-width="0.5"/>
<line x1="397.6" y1="149.1" x2="397.6" y2="158.2" stroke="#d6d6d6" stroke-width="0.5"/>
<line x1="411.2" y1="149.1" x2="411.2" y2="158.2" stroke="#d6d6d6" stroke-width="0.5"/>
<line x1="424.8" y1="149.1" x2="424.8" y2="158.2" stroke="#d6d6d6" stroke-width="0.5"/>
<line x1="438.4" y1="149.1" x2="438.4" y2="158.2" stroke="#d6d6d6" stroke-width="0.5"/>
<line x1="452" y1="149.1" x2="452" y2="158.2" stroke="#d6d6d6" stroke-width="0.5"/>
<line x1="465.6" y1="149.1" x2="465.6" y2="158.2" stroke="#d6d6d6" stroke-width="0.5"/>
<line x1="479.2" y1="149.1" x2="479.2" y2="158.2" stroke="#d6d6d6" stroke-width="0.5"/>
<line x1="383.5" y1="158.2" x2="479" y2="158.2" stroke="#999" stroke-width="0.5"/>
<path d="M410.2 153.8h1.4M410.9 153.1v1.4" stroke="#222" stroke-width="0.5"/>
<rect x="423.2" y="153.1" width="1.4" height="1.4" fill="none" stroke="#222" stroke-width="0.4"/><path d="M422.8 153.8h2.2M423.9 152.7v2.2" stroke="#222" stroke-width="0.4"/>
<path d="M448.2 152.9h1.8l-0.9 1.8z" fill="#222"/>
<text x="384" y="166" font-size="5" text-anchor="middle" fill="#333" stroke="#333" stroke-width="0.12">0</text>
<line x1="384" y1="158.2" x2="384" y2="159.6" stroke="#999" stroke-width="0.4"/>
<text x="397.6" y="166" font-size="5" text-anchor="middle" fill="#333" stroke="#333" stroke-width="0.12">50</text>
<line x1="397.6" y1="158.2" x2="397.6" y2="159.6" stroke="#999" stroke-width="0.4"/>
<text x="411.2" y="166" font-size="5" text-anchor="middle" fill="#333" stroke="#333" stroke-width="0.12">100</text>
<line x1="411.2" y1="158.2" x2="411.2" y2="159.6" stroke="#999" stroke-width="0.4"/>
<text x="424.8" y="166" font-size="5" text-anchor="middle" fill="#333" stroke="#333" stroke-width="0.12">150</text>
<line x1="424.8" y1="158.2" x2="424.8" y2="159.6" stroke="#999" stroke-width="0.4"/>
<text x="438.4" y="166" font-size="5" text-anchor="middle" fill="#333" stroke="#333" stroke-width="0.12">200</text>
<line x1="438.4" y1="158.2" x2="438.4" y2="159.6" stroke="#999" stroke-width="0.4"/>
<text x="452" y="166" font-size="5" text-anchor="middle" fill="#333" stroke="#333" stroke-width="0.12">250</text>
<line x1="452" y1="158.2" x2="452" y2="159.6" stroke="#999" stroke-width="0.4"/>
<text x="465.6" y="166" font-size="5" text-anchor="middle" fill="#333" stroke="#333" stroke-width="0.12">300</text>
<line x1="465.6" y1="158.2" x2="465.6" y2="159.6" stroke="#999" stroke-width="0.4"/>
<text x="431.2" y="173.4" font-size="5.7" text-anchor="middle" fill="#111" stroke="#111" stroke-width="0.1" font-weight="bold">Number of genomes with rRNA genes</text>
<path d="M482.3 149.3h1.8l-0.9 1.8z" fill="#444"/>
<text x="485.5" y="152" font-size="5.5" text-anchor="start" fill="#333" stroke="#333" stroke-width="0.12">5S</text>
<rect x="482.5" y="153.6" width="1.4" height="1.4" fill="none" stroke="#444" stroke-width="0.4"/><path d="M482.1 154.3h2.2M483.2 153.2v2.2" stroke="#444" stroke-width="0.4"/>
<text x="485.5" y="156.5" font-size="5.5" text-anchor="start" fill="#333" stroke="#333" stroke-width="0.12">16S</text>
<path d="M482.4 159.2h1.6M483.2 158.4v1.6" stroke="#444" stroke-width="0.4"/>
<text x="485.5" y="161.1" font-size="5.5" text-anchor="start" fill="#333" stroke="#333" stroke-width="0.12">23S</text>
<path d="M483.2 163.2l0.9 0.9-0.9 0.9-0.9-0.9z" fill="#444"/>
<text x="485.5" y="166" font-size="5.5" text-anchor="start" fill="#333" stroke="#333" stroke-width="0.12">5S + 16S + 23S</text>
<text x="0.4" y="191" font-size="10.6" text-anchor="start" fill="#1a1a1a" stroke="#1a1a1a" stroke-width="0.3" font-family='"Liberation Sans", sans-serif'>(d)</text>
<line x1="25.6" y1="203.25" x2="181" y2="203.25" stroke="#d4d4d4" stroke-width="0.5" stroke-dasharray="1.5,1.2"/>
<line x1="25.6" y1="233.5" x2="181" y2="233.5" stroke="#d4d4d4" stroke-width="0.5" stroke-dasharray="1.5,1.2"/>
<line x1="25.6" y1="263.75" x2="181" y2="263.75" stroke="#d4d4d4" stroke-width="0.5" stroke-dasharray="1.5,1.2"/>
<line x1="25.6" y1="195" x2="25.6" y2="294" stroke="#cccccc" stroke-width="0.4"/>
<line x1="24.4" y1="294" x2="181" y2="294" stroke="#999" stroke-width="0.5"/>
<text x="23.9" y="205.05" font-size="5.2" text-anchor="end" fill="#333" stroke="#333" stroke-width="0.12">150</text>
<line x1="24.3" y1="203.25" x2="25.6" y2="203.25" stroke="#999" stroke-width="0.4"/>
<text x="23.9" y="235.3" font-size="5.2" text-anchor="end" fill="#333" stroke="#333" stroke-width="0.12">100</text>
<line x1="24.3" y1="233.5" x2="25.6" y2="233.5" stroke="#999" stroke-width="0.4"/>
<text x="23.9" y="265.55" font-size="5.2" text-anchor="end" fill="#333" stroke="#333" stroke-width="0.12">50</text>
<line x1="24.3" y1="263.75" x2="25.6" y2="263.75" stroke="#999" stroke-width="0.4"/>
<text x="23.9" y="295.8" font-size="5.2" text-anchor="end" fill="#333" stroke="#333" stroke-width="0.12">0</text>
<line x1="24.3" y1="294" x2="25.6" y2="294" stroke="#999" stroke-width="0.4"/>
<text x="11.3" y="245.5" font-size="5.75" text-anchor="middle" fill="#111" stroke="#111" stroke-width="0.1" font-weight="bold" transform="rotate(-90 11.3 245.5)">Number of published MTB genomes</text>
<rect x="26.95" y="290.37" width="8.7" height="3.63" fill="#b9cdea" stroke="none" stroke-width="0.4"/>
<rect x="26.95" y="283.41" width="8.7" height="6.96" fill="#8eaee0" stroke="none" stroke-width="0.4"/>
<rect x="26.95" y="250.14" width="8.7" height="33.28" fill="#5577bb" stroke="none" stroke-width="0.4"/>
<rect x="26.95" y="197.81" width="8.7" height="52.33" fill="#2d4f9a" stroke="none" stroke-width="0.4"/>
<line x1="31.3" y1="294" x2="31.3" y2="296.3" stroke="#888" stroke-width="0.4"/>
<rect x="36.65" y="292.79" width="8.7" height="1.21" fill="#f6d8e6" stroke="none" stroke-width="0.4"/>
<rect x="36.65" y="291.58" width="8.7" height="1.21" fill="#f0bcd2" stroke="none" stroke-width="0.4"/>
<rect x="36.65" y="290.37" width="8.7" height="1.21" fill="#e498b6" stroke="none" stroke-width="0.4"/>
<rect x="36.65" y="288.56" width="8.7" height="1.81" fill="#d6739a" stroke="none" stroke-width="0.4"/>
<rect x="36.65" y="285.53" width="8.7" height="3.03" fill="#b83a6c" stroke="none" stroke-width="0.4"/>
<rect x="36.65" y="281.9" width="8.7" height="3.63" fill="#a02658" stroke="none" stroke-width="0.4"/>
<rect x="36.65" y="274.04" width="8.7" height="7.86" fill="#851c44" stroke="none" stroke-width="0.4"/>
<rect x="36.65" y="243.18" width="8.7" height="30.86" fill="#5e1630" stroke="none" stroke-width="0.4"/>
<line x1="41" y1="294" x2="41" y2="296.3" stroke="#888" stroke-width="0.4"/>
<rect x="46.35" y="265.56" width="8.7" height="28.44" fill="#f1c13e" stroke="none" stroke-width="0.4"/>
<line x1="50.7" y1="294" x2="50.7" y2="296.3" stroke="#888" stroke-width="0.4"/>
<rect x="56.05" y="292.19" width="8.7" height="1.81" fill="#a8dcb8" stroke="none" stroke-width="0.4"/>
<rect x="56.05" y="275.25" width="8.7" height="16.94" fill="#4e9a6e" stroke="none" stroke-width="0.4"/>
<line x1="60.4" y1="294" x2="60.4" y2="296.3" stroke="#888" stroke-width="0.4"/>
<rect x="65.75" y="286.74" width="8.7" height="7.26" fill="#565656" stroke="none" stroke-width="0.4"/>
<line x1="70.1" y1="294" x2="70.1" y2="296.3" stroke="#888" stroke-width="0.4"/>
<rect x="75.45" y="289.76" width="8.7" height="4.23" fill="#565656" stroke="none" stroke-width="0.4"/>
<line x1="79.8" y1="294" x2="79.8" y2="296.3" stroke="#888" stroke-width="0.4"/>
<rect x="85.15" y="290.98" width="8.7" height="3.02" fill="#565656" stroke="none" stroke-width="0.4"/>
<line x1="89.5" y1="294" x2="89.5" y2="296.3" stroke="#888" stroke-width="0.4"/>
<rect x="94.85" y="290.98" width="8.7" height="3.02" fill="#565656" stroke="none" stroke-width="0.4"/>
<line x1="99.2" y1="294" x2="99.2" y2="296.3" stroke="#888" stroke-width="0.4"/>
<rect x="104.55" y="292.19" width="8.7" height="1.81" fill="#7a7a7a" stroke="none" stroke-width="0.4"/>
<line x1="108.9" y1="294" x2="108.9" y2="296.3" stroke="#888" stroke-width="0.4"/>
<rect x="114.25" y="292.19" width="8.7" height="1.81" fill="#7a7a7a" stroke="none" stroke-width="0.4"/>
<line x1="118.6" y1="294" x2="118.6" y2="296.3" stroke="#888" stroke-width="0.4"/>
<rect x="123.95" y="292.19" width="8.7" height="1.81" fill="#7a7a7a" stroke="none" stroke-width="0.4"/>
<line x1="128.3" y1="294" x2="128.3" y2="296.3" stroke="#888" stroke-width="0.4"/>
<rect x="133.65" y="292.79" width="8.7" height="1.21" fill="#7a7a7a" stroke="none" stroke-width="0.4"/>
<line x1="138" y1="294" x2="138" y2="296.3" stroke="#888" stroke-width="0.4"/>
<rect x="143.35" y="293.39" width="8.7" height="0.6" fill="#9a9a9a" stroke="none" stroke-width="0.4"/>
<line x1="147.7" y1="294" x2="147.7" y2="296.3" stroke="#888" stroke-width="0.4"/>
<rect x="153.05" y="293.39" width="8.7" height="0.6" fill="#9a9a9a" stroke="none" stroke-width="0.4"/>
<line x1="157.4" y1="294" x2="157.4" y2="296.3" stroke="#888" stroke-width="0.4"/>
<rect x="162.75" y="293.39" width="8.7" height="0.6" fill="#9a9a9a" stroke="none" stroke-width="0.4"/>
<line x1="167.1" y1="294" x2="167.1" y2="296.3" stroke="#888" stroke-width="0.4"/>
<rect x="172.45" y="293.39" width="8.7" height="0.6" fill="#9a9a9a" stroke="none" stroke-width="0.4"/>
<line x1="176.8" y1="294" x2="176.8" y2="296.3" stroke="#888" stroke-width="0.4"/>
<text x="31.3" y="200.71" font-size="3.8" text-anchor="middle" fill="#fff" stroke="#fff" stroke-width="0.1" font-weight="bold">159</text>
<text x="41" y="246.08" font-size="3.8" text-anchor="middle" fill="#fff" stroke="#fff" stroke-width="0.1" font-weight="bold">84</text>
<text x="50.7" y="268.46" font-size="3.8" text-anchor="middle" fill="#fff" stroke="#fff" stroke-width="0.1" font-weight="bold">47</text>
<text x="60.4" y="278.14" font-size="3.8" text-anchor="middle" fill="#fff" stroke="#fff" stroke-width="0.1" font-weight="bold">31</text>
<text x="70.1" y="289.64" font-size="3.8" text-anchor="middle" fill="#fff" stroke="#fff" stroke-width="0.1" font-weight="bold">12</text>
<text x="79.8" y="288.76" font-size="3.8" text-anchor="middle" fill="#333" stroke="#333" stroke-width="0.12">7</text>
<text x="89.5" y="289.98" font-size="3.8" text-anchor="middle" fill="#333" stroke="#333" stroke-width="0.12">5</text>
<text x="99.2" y="289.98" font-size="3.8" text-anchor="middle" fill="#333" stroke="#333" stroke-width="0.12">5</text>
<text x="108.9" y="291.19" font-size="3.8" text-anchor="middle" fill="#333" stroke="#333" stroke-width="0.12">3</text>
<text x="118.6" y="291.19" font-size="3.8" text-anchor="middle" fill="#333" stroke="#333" stroke-width="0.12">3</text>
<text x="128.3" y="291.19" font-size="3.8" text-anchor="middle" fill="#333" stroke="#333" stroke-width="0.12">3</text>
<text x="138" y="291.79" font-size="3.8" text-anchor="middle" fill="#333" stroke="#333" stroke-width="0.12">2</text>
<text x="147.7" y="292.39" font-size="3.8" text-anchor="middle" fill="#333" stroke="#333" stroke-width="0.12">1</text>
<text x="157.4" y="292.39" font-size="3.8" text-anchor="middle" fill="#333" stroke="#333" stroke-width="0.12">1</text>
<text x="167.1" y="292.39" font-size="3.8" text-anchor="middle" fill="#333" stroke="#333" stroke-width="0.12">1</text>
<text x="176.8" y="292.39" font-size="3.8" text-anchor="middle" fill="#333" stroke="#333" stroke-width="0.12">1</text>
<rect x="37.2" y="199.7" width="2.6" height="2.6" fill="#1e2c5e" stroke="none" stroke-width="0.4"/>
<text x="41.8" y="202.2" font-size="3.7" text-anchor="start" fill="#333" stroke="#333" stroke-width="0.05" font-style="italic">Magnetococcia</text>
<rect x="37.2" y="203.55" width="2.6" height="2.6" fill="#4e609e" stroke="none" stroke-width="0.4"/>
<text x="41.8" y="206.05" font-size="3.7" text-anchor="start" fill="#333" stroke="#333" stroke-width="0.05" font-style="italic">Alphaproteobacteria</text>
<rect x="37.2" y="207.4" width="2.6" height="2.6" fill="#8a94c2" stroke="none" stroke-width="0.4"/>
<text x="41.8" y="209.9" font-size="3.7" text-anchor="start" fill="#333" stroke="#333" stroke-width="0.05" font-style="italic">Gammaproteobacteria</text>
<rect x="37.2" y="211.25" width="2.6" height="2.6" fill="#c6cde6" stroke="none" stroke-width="0.4"/>
<text x="41.8" y="213.75" font-size="3.7" text-anchor="start" fill="#333" stroke="#333" stroke-width="0.05" font-style="italic">Zetaproteobacteria</text>
<rect x="46.5" y="229.9" width="2.8" height="2.8" fill="#3a0f22" stroke="none" stroke-width="0.4"/>
<text x="51" y="232.5" font-size="3.7" text-anchor="start" fill="#333" stroke="#333" stroke-width="0.05" font-style="italic">Desulfobacteria</text>
<rect x="46.5" y="233.92" width="2.8" height="2.8" fill="#5a1530" stroke="none" stroke-width="0.4"/>
<text x="51" y="236.52" font-size="3.7" text-anchor="start" fill="#333" stroke="#333" stroke-width="0.05" font-style="italic">Desulfuromonadia</text>
<rect x="46.5" y="237.94" width="2.8" height="2.8" fill="#7c1c44" stroke="none" stroke-width="0.4"/>
<text x="51" y="240.54" font-size="3.7" text-anchor="start" fill="#333" stroke="#333" stroke-width="0.05" font-style="italic">Desulfovibrionia</text>
<rect x="46.5" y="241.96" width="2.8" height="2.8" fill="#a23262" stroke="none" stroke-width="0.4"/>
<text x="51" y="244.56" font-size="3.7" text-anchor="start" fill="#333" stroke="#333" stroke-width="0.05" font-style="italic">JADFOI01</text>
<rect x="46.5" y="245.98" width="2.8" height="2.8" fill="#c05484" stroke="none" stroke-width="0.4"/>
<text x="51" y="248.58" font-size="3.7" text-anchor="start" fill="#333" stroke="#333" stroke-width="0.05" font-style="italic">Syntrophia</text>
<rect x="46.5" y="250" width="2.8" height="2.8" fill="#d482a4" stroke="none" stroke-width="0.4"/>
<text x="51" y="252.6" font-size="3.7" text-anchor="start" fill="#333" stroke="#333" stroke-width="0.05" font-style="italic">DSM-4660</text>
<rect x="46.5" y="254.02" width="2.8" height="2.8" fill="#e2a4c2" stroke="none" stroke-width="0.4"/>
<text x="51" y="256.62" font-size="3.7" text-anchor="start" fill="#333" stroke="#333" stroke-width="0.05" font-style="italic">Desulfobulbia</text>
<rect x="46.5" y="258.04" width="2.8" height="2.8" fill="#ecc6da" stroke="none" stroke-width="0.4"/>
<text x="51" y="260.64" font-size="3.7" text-anchor="start" fill="#333" stroke="#333" stroke-width="0.05" font-style="italic">Syntrophobacteria</text>
<rect x="46.5" y="262.06" width="2.8" height="2.8" fill="#f4e2ec" stroke="none" stroke-width="0.4"/>
<text x="51" y="264.66" font-size="3.7" text-anchor="start" fill="#333" stroke="#333" stroke-width="0.05" font-style="italic">Desulfarculia</text>
<rect x="57" y="268" width="2.8" height="2.8" fill="#f1c13e" stroke="none" stroke-width="0.4"/>
<text x="60.6" y="270.6" font-size="3.7" text-anchor="start" fill="#333" stroke="#333" stroke-width="0.05" font-style="italic">Thermodesulfovibrionia</text>
<rect x="66.6" y="276.9" width="2.8" height="2.8" fill="#4e9a6e" stroke="none" stroke-width="0.4"/>
<text x="70.2" y="279.5" font-size="3.7" text-anchor="start" fill="#333" stroke="#333" stroke-width="0.05" font-style="italic">Koll11</text>
<rect x="66.6" y="280.9" width="2.8" height="2.8" fill="#a8dcb8" stroke="none" stroke-width="0.4"/>
<text x="70.2" y="283.5" font-size="3.7" text-anchor="start" fill="#333" stroke="#333" stroke-width="0.05" font-style="italic">Omnitrophia</text>
<text x="32.9" y="298.6" font-size="5.3" text-anchor="end" fill="#222" stroke="#222" stroke-width="0.1" font-weight="bold" transform="rotate(-45 32.9 298.6)">Pseudomonadota</text>
<text x="42.6" y="298.6" font-size="5.3" text-anchor="end" fill="#222" stroke="#222" stroke-width="0.1" font-weight="bold" transform="rotate(-45 42.6 298.6)">Desulfobacterota</text>
<text x="52.3" y="298.6" font-size="5.3" text-anchor="end" fill="#222" stroke="#222" stroke-width="0.1" font-weight="bold" transform="rotate(-45 52.3 298.6)">Nitrospirota</text>
<text x="62" y="298.6" font-size="5.3" text-anchor="end" fill="#222" stroke="#222" stroke-width="0.1" font-weight="bold" transform="rotate(-45 62 298.6)">Omnitrophota</text>
<text x="71.7" y="298.6" font-size="5.3" text-anchor="end" fill="#555" stroke="#555" stroke-width="0.05" font-style="italic" transform="rotate(-45 71.7 298.6)">Bdellovibrionota</text>
<text x="81.4" y="298.6" font-size="5.3" text-anchor="end" fill="#555" stroke="#555" stroke-width="0.05" font-style="italic" transform="rotate(-45 81.4 298.6)">Planctomycetota</text>
<text x="91.1" y="298.6" font-size="5.3" text-anchor="end" fill="#555" stroke="#555" stroke-width="0.05" font-style="italic" transform="rotate(-45 91.1 298.6)">Nitrospinota</text>
<text x="100.8" y="298.6" font-size="5.3" text-anchor="end" fill="#555" stroke="#555" stroke-width="0.05" font-style="italic" transform="rotate(-45 100.8 298.6)">SAR324</text>
<text x="110.5" y="298.6" font-size="5.3" text-anchor="end" fill="#555" stroke="#555" stroke-width="0.05" font-style="italic" transform="rotate(-45 110.5 298.6)">Elusimicrobiota</text>
<text x="120.2" y="298.6" font-size="5.3" text-anchor="end" fill="#555" stroke="#555" stroke-width="0.05" font-style="italic" transform="rotate(-45 120.2 298.6)">Hydrogenedentota</text>
<text x="129.9" y="298.6" font-size="5.3" text-anchor="end" fill="#555" stroke="#555" stroke-width="0.05" font-style="italic" transform="rotate(-45 129.9 298.6)">Riflebacteria</text>
<text x="139.6" y="298.6" font-size="5.3" text-anchor="end" fill="#555" stroke="#555" stroke-width="0.05" font-style="italic" transform="rotate(-45 139.6 298.6)">UBA10199</text>
<text x="149.3" y="298.6" font-size="5.3" text-anchor="end" fill="#555" stroke="#555" stroke-width="0.05" font-style="italic" transform="rotate(-45 149.3 298.6)">Desulfobacterota_G</text>
<text x="159" y="298.6" font-size="5.3" text-anchor="end" fill="#555" stroke="#555" stroke-width="0.05" font-style="italic" transform="rotate(-45 159 298.6)">Fibrobacterota</text>
<text x="168.7" y="298.6" font-size="5.3" text-anchor="end" fill="#555" stroke="#555" stroke-width="0.05" font-style="italic" transform="rotate(-45 168.7 298.6)">Latescibacterota</text>
<text x="178.4" y="298.6" font-size="5.3" text-anchor="end" fill="#555" stroke="#555" stroke-width="0.05" font-style="italic" transform="rotate(-45 178.4 298.6)">Myxococcota</text>
<text x="102" y="339.6" font-size="5.7" text-anchor="middle" fill="#111" stroke="#111" stroke-width="0.1" font-weight="bold">Phyla</text>
<text x="186.2" y="192.9" font-size="10.6" text-anchor="start" fill="#1a1a1a" stroke="#1a1a1a" stroke-width="0.3" font-family='"Liberation Sans", sans-serif'>(e)</text>
<line x1="290.2" y1="268.1" x2="277.57" y2="256.72" stroke="#8c8c8c" stroke-width="0.55"/>
<line x1="277.57" y1="256.72" x2="269.5" y2="253.2" stroke="#8c8c8c" stroke-width="0.5"/>
<linearGradient id="g1" gradientUnits="userSpaceOnUse" x1="269.5" y1="253.2" x2="235.2" y2="231.6"><stop offset="0" stop-color="#ffffff" stop-opacity="0.2"/><stop offset="1" stop-color="#4e6ea6" stop-opacity="0.95"/></linearGradient>
<polygon points="269.5,253.2 235.2,231.6 238.2,235.6" fill="url(#g1)"/>
<linearGradient id="g2" gradientUnits="userSpaceOnUse" x1="269.5" y1="253.2" x2="238.2" y2="235.6"><stop offset="0" stop-color="#ffffff" stop-opacity="0.2"/><stop offset="1" stop-color="#7090c6" stop-opacity="0.95"/></linearGradient>
<polygon points="269.5,253.2 238.2,235.6 235.6,239.2" fill="url(#g2)"/>
<linearGradient id="g3" gradientUnits="userSpaceOnUse" x1="269.5" y1="253.2" x2="235.6" y2="239.2"><stop offset="0" stop-color="#ffffff" stop-opacity="0.2"/><stop offset="1" stop-color="#3c5c94" stop-opacity="0.95"/></linearGradient>
<polygon points="269.5,253.2 235.6,239.2 237.4,242.6" fill="url(#g3)"/>
<linearGradient id="g4" gradientUnits="userSpaceOnUse" x1="269.5" y1="253.2" x2="237.4" y2="242.6"><stop offset="0" stop-color="#ffffff" stop-opacity="0.2"/><stop offset="1" stop-color="#8cb0da" stop-opacity="0.95"/></linearGradient>
<polygon points="269.5,253.2 237.4,242.6 236,246.2" fill="url(#g4)"/>
<linearGradient id="g5" gradientUnits="userSpaceOnUse" x1="269.5" y1="253.2" x2="236" y2="246.2"><stop offset="0" stop-color="#ffffff" stop-opacity="0.2"/><stop offset="1" stop-color="#a4d0e8" stop-opacity="0.95"/></linearGradient>
<polygon points="269.5,253.2 236,246.2 241.8,249.2" fill="url(#g5)"/>
<line x1="269.5" y1="253.2" x2="235.2" y2="231.6" stroke="#34486a" stroke-width="0.35"/>
<line x1="269.5" y1="253.2" x2="238.2" y2="235.6" stroke="#34486a" stroke-width="0.35"/>
<line x1="269.5" y1="253.2" x2="235.6" y2="239.2" stroke="#34486a" stroke-width="0.35"/>
<line x1="269.5" y1="253.2" x2="237.4" y2="242.6" stroke="#34486a" stroke-width="0.35"/>
<line x1="269.5" y1="253.2" x2="236" y2="246.2" stroke="#34486a" stroke-width="0.35"/>
<line x1="269.5" y1="253.2" x2="241.8" y2="249.2" stroke="#34486a" stroke-width="0.35"/>
<line x1="263" y1="250.8" x2="236" y2="244.5" stroke="#22304e" stroke-width="0.45"/>
<line x1="263" y1="249.5" x2="238.5" y2="236" stroke="#22304e" stroke-width="0.45"/>
<line x1="277.57" y1="256.72" x2="271.2" y2="247.4" stroke="#8c8c8c" stroke-width="0.5"/>
<linearGradient id="g6" gradientUnits="userSpaceOnUse" x1="271.2" y1="247.4" x2="257.2" y2="227.4"><stop offset="0" stop-color="#ffffff" stop-opacity="0.15"/><stop offset="1" stop-color="#4868aa" stop-opacity="0.95"/></linearGradient>
<polygon points="271.2,247.4 257.2,227.4 258.6,221.8" fill="url(#g6)"/>
<linearGradient id="g7" gradientUnits="userSpaceOnUse" x1="271.2" y1="247.4" x2="258.6" y2="221.8"><stop offset="0" stop-color="#ffffff" stop-opacity="0.15"/><stop offset="1" stop-color="#6888c2" stop-opacity="0.95"/></linearGradient>
<polygon points="271.2,247.4 258.6,221.8 260.4,225" fill="url(#g7)"/>
<linearGradient id="g8" gradientUnits="userSpaceOnUse" x1="271.2" y1="247.4" x2="260.4" y2="225"><stop offset="0" stop-color="#ffffff" stop-opacity="0.15"/><stop offset="1" stop-color="#5878ba" stop-opacity="0.95"/></linearGradient>
<polygon points="271.2,247.4 260.4,225 262.2,220.5" fill="url(#g8)"/>
<linearGradient id="g9" gradientUnits="userSpaceOnUse" x1="271.2" y1="247.4" x2="262.2" y2="220.5"><stop offset="0" stop-color="#ffffff" stop-opacity="0.15"/><stop offset="1" stop-color="#98b2de" stop-opacity="0.95"/></linearGradient>
<polygon points="271.2,247.4 262.2,220.5 264,223.5" fill="url(#g9)"/>
<linearGradient id="g10" gradientUnits="userSpaceOnUse" x1="271.2" y1="247.4" x2="264" y2="223.5"><stop offset="0" stop-color="#ffffff" stop-opacity="0.15"/><stop offset="1" stop-color="#7896ca" stop-opacity="0.95"/></linearGradient>
<polygon points="271.2,247.4 264,223.5 265.9,219.5" fill="url(#g10)"/>
<linearGradient id="g11" gradientUnits="userSpaceOnUse" x1="271.2" y1="247.4" x2="265.9" y2="219.5"><stop offset="0" stop-color="#ffffff" stop-opacity="0.15"/><stop offset="1" stop-color="#3a5a9c" stop-opacity="0.95"/></linearGradient>
<polygon points="271.2,247.4 265.9,219.5 267.2,226" fill="url(#g11)"/>
<line x1="271.2" y1="247.4" x2="257.2" y2="227.4" stroke="#2a3a6a" stroke-width="0.3"/>
<line x1="271.2" y1="247.4" x2="260.4" y2="225" stroke="#2a3a6a" stroke-width="0.3"/>
<line x1="271.2" y1="247.4" x2="264" y2="223.5" stroke="#2a3a6a" stroke-width="0.3"/>
<line x1="271.2" y1="247.4" x2="267.2" y2="226" stroke="#2a3a6a" stroke-width="0.3"/>
<line x1="277.57" y1="256.72" x2="282.4" y2="243.6" stroke="#8c8c8c" stroke-width="0.5"/>
<linearGradient id="g12" gradientUnits="userSpaceOnUse" x1="282.4" y1="243.6" x2="276.6" y2="211"><stop offset="0" stop-color="#ffffff" stop-opacity="0.2"/><stop offset="1" stop-color="#1e2a48" stop-opacity="1"/></linearGradient>
<polygon points="282.4,243.6 275.9,210.8 277.7,211.4" fill="url(#g12)"/>
<line x1="282.4" y1="243.6" x2="276.6" y2="211" stroke="#222a40" stroke-width="0.5"/>
<line x1="290.2" y1="268.1" x2="285.6" y2="243.6" stroke="#8c8c8c" stroke-width="0.5"/>
<linearGradient id="g13" gradientUnits="userSpaceOnUse" x1="285.6" y1="243.6" x2="283.5" y2="214"><stop offset="0" stop-color="#ffffff" stop-opacity="0.2"/><stop offset="1" stop-color="#5a6a88" stop-opacity="0.9"/></linearGradient>
<polygon points="285.6,243.6 281,214.4 286.5,213.5" fill="url(#g13)"/>
<linearGradient id="g14" gradientUnits="userSpaceOnUse" x1="285.6" y1="243.6" x2="289" y2="212"><stop offset="0" stop-color="#ffffff" stop-opacity="0.2"/><stop offset="1" stop-color="#1a2240" stop-opacity="1"/></linearGradient>
<polygon points="285.6,243.6 286.5,213.5 291.2,210.8 288.2,222" fill="url(#g14)"/>
<line x1="285.6" y1="243.6" x2="291.2" y2="210.8" stroke="#1c2440" stroke-width="0.5"/>
<line x1="285.6" y1="243.6" x2="286.5" y2="213.5" stroke="#2a3450" stroke-width="0.4"/>
<path d="M226.5 246.8 C229 222 248 204 271 200.8 C279 200 287 201 293.6 203.8" fill="none" stroke="#3e6e8e" stroke-width="0.9"/>
<line x1="290.2" y1="268.1" x2="294.29" y2="254.71" stroke="#8c8c8c" stroke-width="0.5"/>
<linearGradient id="g15" gradientUnits="userSpaceOnUse" x1="294.29" y1="254.71" x2="303.69" y2="223.97"><stop offset="0" stop-color="#ffffff" stop-opacity="0.05"/><stop offset="1" stop-color="#b04a66" stop-opacity="0.95"/></linearGradient>
<polygon points="294.29,254.71 301.84,223.08 303.69,223.97 305.49,224.93" fill="url(#g15)"/>
<line x1="294.29" y1="254.71" x2="301.84" y2="223.08" stroke="#6a2030" stroke-width="0.3"/>
<line x1="294.29" y1="254.71" x2="303.69" y2="223.97" stroke="#6a2030" stroke-width="0.3"/>
<line x1="294.29" y1="254.71" x2="305.49" y2="224.93" stroke="#6a2030" stroke-width="0.3"/>
<line x1="290.2" y1="268.1" x2="297.67" y2="258.71" stroke="#8c8c8c" stroke-width="0.5"/>
<linearGradient id="g16" gradientUnits="userSpaceOnUse" x1="297.67" y1="258.71" x2="315.47" y2="236.33"><stop offset="0" stop-color="#ffffff" stop-opacity="0.05"/><stop offset="1" stop-color="#a85848" stop-opacity="0.95"/></linearGradient>
<polygon points="297.67,258.71 313.54,235.98 315.47,236.33 317.43,236.78" fill="url(#g16)"/>
<line x1="297.67" y1="258.71" x2="313.54" y2="235.98" stroke="#4a2018" stroke-width="0.3"/>
<line x1="297.67" y1="258.71" x2="315.47" y2="236.33" stroke="#4a2018" stroke-width="0.3"/>
<line x1="297.67" y1="258.71" x2="317.43" y2="236.78" stroke="#4a2018" stroke-width="0.3"/>
<line x1="290.2" y1="268.1" x2="299.34" y2="257.49" stroke="#8c8c8c" stroke-width="0.5"/>
<linearGradient id="g17" gradientUnits="userSpaceOnUse" x1="299.34" y1="257.49" x2="323.03" y2="229.99"><stop offset="0" stop-color="#ffffff" stop-opacity="0.05"/><stop offset="1" stop-color="#6a6030" stop-opacity="0.95"/></linearGradient>
<polygon points="299.34,257.49 321.33,228.97 323.03,229.99 324.71,231.09" fill="url(#g17)"/>
<line x1="299.34" y1="257.49" x2="321.33" y2="228.97" stroke="#3a3018" stroke-width="0.3"/>
<line x1="299.34" y1="257.49" x2="323.03" y2="229.99" stroke="#3a3018" stroke-width="0.3"/>
<line x1="299.34" y1="257.49" x2="324.71" y2="231.09" stroke="#3a3018" stroke-width="0.3"/>
<line x1="309.08" y1="244.79" x2="322.67" y2="230.08" stroke="#d8b040" stroke-width="0.6"/>
<linearGradient id="g18" gradientUnits="userSpaceOnUse" x1="293.2" y1="265.45" x2="349.01" y2="216.25"><stop offset="0" stop-color="#ffffff" stop-opacity="0.0"/><stop offset="1" stop-color="#1c2028" stop-opacity="1.0"/></linearGradient>
<polygon points="293.2,265.45 348.46,215.64 349.55,216.87" fill="url(#g18)"/>
<line x1="293.2" y1="265.45" x2="348.46" y2="215.64" stroke="#7a7a7a" stroke-width="0.3"/>
<line x1="293.2" y1="265.45" x2="349.55" y2="216.87" stroke="#7a7a7a" stroke-width="0.3"/>
<linearGradient id="g19" gradientUnits="userSpaceOnUse" x1="293.14" y1="265.39" x2="340.7" y2="221.67"><stop offset="0" stop-color="#ffffff" stop-opacity="0.0"/><stop offset="1" stop-color="#1c2028" stop-opacity="1.0"/></linearGradient>
<polygon points="293.14,265.39 340.21,221.14 341.18,222.2" fill="url(#g19)"/>
<line x1="293.14" y1="265.39" x2="340.21" y2="221.14" stroke="#7a7a7a" stroke-width="0.3"/>
<line x1="293.14" y1="265.39" x2="341.18" y2="222.2" stroke="#7a7a7a" stroke-width="0.3"/>
<linearGradient id="g20" gradientUnits="userSpaceOnUse" x1="293.09" y1="265.33" x2="333.51" y2="226.57"><stop offset="0" stop-color="#ffffff" stop-opacity="0.0"/><stop offset="1" stop-color="#1c2028" stop-opacity="1.0"/></linearGradient>
<polygon points="293.09,265.33 333.07,226.12 333.94,227.03" fill="url(#g20)"/>
<line x1="293.09" y1="265.33" x2="333.07" y2="226.12" stroke="#7a7a7a" stroke-width="0.3"/>
<line x1="293.09" y1="265.33" x2="333.94" y2="227.03" stroke="#7a7a7a" stroke-width="0.3"/>
<linearGradient id="g21" gradientUnits="userSpaceOnUse" x1="293.29" y1="265.56" x2="345.76" y2="222.3"><stop offset="0" stop-color="#ffffff" stop-opacity="0.0"/><stop offset="1" stop-color="#1c2028" stop-opacity="1.0"/></linearGradient>
<polygon points="293.29,265.56 345.27,221.72 346.23,222.89" fill="url(#g21)"/>
<line x1="293.29" y1="265.56" x2="345.27" y2="221.72" stroke="#7a7a7a" stroke-width="0.3"/>
<line x1="293.29" y1="265.56" x2="346.23" y2="222.89" stroke="#7a7a7a" stroke-width="0.3"/>
<line x1="290.2" y1="268.1" x2="304.24" y2="260.43" stroke="#8c8c8c" stroke-width="0.5"/>
<linearGradient id="g22" gradientUnits="userSpaceOnUse" x1="304.24" y1="260.43" x2="348.29" y2="236.36"><stop offset="0" stop-color="#ffffff" stop-opacity="0.0"/><stop offset="1" stop-color="#dce8b4" stop-opacity="1.0"/></linearGradient>
<polygon points="304.24,260.43 338.57,234.73 342.42,234.68 344.45,235.98 347.04,237.05 349.42,238.36 356.81,237.49 359.59,239.07" fill="url(#g22)"/>
<linearGradient id="g23" gradientUnits="userSpaceOnUse" x1="294.35" y1="265.3" x2="337.46" y2="236.23"><stop offset="0" stop-color="#ffffff" stop-opacity="0.0"/><stop offset="1" stop-color="#2a3420" stop-opacity="0.9"/></linearGradient>
<polygon points="294.35,265.3 337.18,235.81 337.73,236.64" fill="url(#g23)"/>
<linearGradient id="g24" gradientUnits="userSpaceOnUse" x1="294.51" y1="265.56" x2="346.21" y2="235.11"><stop offset="0" stop-color="#ffffff" stop-opacity="0.0"/><stop offset="1" stop-color="#2a3420" stop-opacity="0.9"/></linearGradient>
<polygon points="294.51,265.56 345.92,234.62 346.49,235.6" fill="url(#g24)"/>
<linearGradient id="g25" gradientUnits="userSpaceOnUse" x1="294.66" y1="265.83" x2="353.46" y2="235.87"><stop offset="0" stop-color="#ffffff" stop-opacity="0.0"/><stop offset="1" stop-color="#2a3420" stop-opacity="0.9"/></linearGradient>
<polygon points="294.66,265.83 353.18,235.32 353.74,236.42" fill="url(#g25)"/>
<linearGradient id="g26" gradientUnits="userSpaceOnUse" x1="294.79" y1="266.11" x2="358.98" y2="238.19"><stop offset="0" stop-color="#ffffff" stop-opacity="0.0"/><stop offset="1" stop-color="#2a3420" stop-opacity="0.9"/></linearGradient>
<polygon points="294.79,266.11 358.72,237.59 359.24,238.8" fill="url(#g26)"/>
<linearGradient id="g27" gradientUnits="userSpaceOnUse" x1="293.19" y1="267.86" x2="327.48" y2="265.1"><stop offset="0" stop-color="#ffffff" stop-opacity="0.0"/><stop offset="1" stop-color="#333" stop-opacity="0.9"/></linearGradient>
<polygon points="293.19,267.86 327.45,264.71 327.51,265.49" fill="url(#g27)"/>
<line x1="293.19" y1="267.86" x2="327.45" y2="264.71" stroke="#8a8a8a" stroke-width="0.3"/>
<line x1="293.19" y1="267.86" x2="327.51" y2="265.49" stroke="#8a8a8a" stroke-width="0.3"/>
<linearGradient id="g28" gradientUnits="userSpaceOnUse" x1="293.2" y1="268.25" x2="351.72" y2="271.22"><stop offset="0" stop-color="#ffffff" stop-opacity="0.0"/><stop offset="1" stop-color="#333" stop-opacity="0.9"/></linearGradient>
<polygon points="293.2,268.25 351.75,270.57 351.69,271.86" fill="url(#g28)"/>
<line x1="293.2" y1="268.25" x2="351.75" y2="270.57" stroke="#8a8a8a" stroke-width="0.3"/>
<line x1="293.2" y1="268.25" x2="351.69" y2="271.86" stroke="#8a8a8a" stroke-width="0.3"/>
<linearGradient id="g29" gradientUnits="userSpaceOnUse" x1="293.14" y1="268.68" x2="336.6" y2="277.29"><stop offset="0" stop-color="#ffffff" stop-opacity="0.0"/><stop offset="1" stop-color="#333" stop-opacity="0.9"/></linearGradient>
<polygon points="293.14,268.68 336.69,276.8 336.5,277.77" fill="url(#g29)"/>
<line x1="293.14" y1="268.68" x2="336.69" y2="276.8" stroke="#8a8a8a" stroke-width="0.3"/>
<line x1="293.14" y1="268.68" x2="336.5" y2="277.77" stroke="#8a8a8a" stroke-width="0.3"/>
<linearGradient id="g30" gradientUnits="userSpaceOnUse" x1="293.2" y1="268.13" x2="345.2" y2="268.58"><stop offset="0" stop-color="#ffffff" stop-opacity="0.0"/><stop offset="1" stop-color="#333" stop-opacity="0.9"/></linearGradient>
<polygon points="293.2,268.13 345.2,268 345.19,269.16" fill="url(#g30)"/>
<line x1="293.2" y1="268.13" x2="345.2" y2="268" stroke="#8a8a8a" stroke-width="0.3"/>
<line x1="293.2" y1="268.13" x2="345.19" y2="269.16" stroke="#8a8a8a" stroke-width="0.3"/>
<linearGradient id="g31" gradientUnits="userSpaceOnUse" x1="293.18" y1="268.41" x2="341.92" y2="273.54"><stop offset="0" stop-color="#ffffff" stop-opacity="0.0"/><stop offset="1" stop-color="#333" stop-opacity="0.9"/></linearGradient>
<polygon points="293.18,268.41 341.97,272.99 341.86,274.08" fill="url(#g31)"/>
<line x1="293.18" y1="268.41" x2="341.97" y2="272.99" stroke="#8a8a8a" stroke-width="0.3"/>
<line x1="293.18" y1="268.41" x2="341.86" y2="274.08" stroke="#8a8a8a" stroke-width="0.3"/>
<linearGradient id="g32" gradientUnits="userSpaceOnUse" x1="293.2" y1="267.94" x2="335.14" y2="265.74"><stop offset="0" stop-color="#ffffff" stop-opacity="0.0"/><stop offset="1" stop-color="#333" stop-opacity="0.9"/></linearGradient>
<polygon points="293.2,267.94 335.11,265.27 335.16,266.22" fill="url(#g32)"/>
<line x1="293.2" y1="267.94" x2="335.11" y2="265.27" stroke="#8a8a8a" stroke-width="0.3"/>
<line x1="293.2" y1="267.94" x2="335.16" y2="266.22" stroke="#8a8a8a" stroke-width="0.3"/>
<line x1="290.2" y1="268.1" x2="304.61" y2="275.06" stroke="#8c8c8c" stroke-width="0.5"/>
<linearGradient id="g33" gradientUnits="userSpaceOnUse" x1="304.61" y1="275.06" x2="336.03" y2="290.25"><stop offset="0" stop-color="#ffffff" stop-opacity="0.0"/><stop offset="1" stop-color="#d4e8c4" stop-opacity="1.0"/></linearGradient>
<polygon points="304.61,275.06 329.15,283.13 331.56,285.64 335.06,288.89 336.46,291.41 339.58,295.04 341.41,298.26" fill="url(#g33)"/>
<line x1="304.61" y1="275.06" x2="329.48" y2="283.26" stroke="#5a6a58" stroke-width="0.4"/>
<line x1="304.61" y1="275.06" x2="335.33" y2="289.63" stroke="#5a6a58" stroke-width="0.4"/>
<line x1="304.61" y1="275.06" x2="341.64" y2="298.4" stroke="#5a6a58" stroke-width="0.4"/>
<linearGradient id="g34" gradientUnits="userSpaceOnUse" x1="292.22" y1="270.32" x2="322.5" y2="303.47"><stop offset="0" stop-color="#ffffff" stop-opacity="0.0"/><stop offset="1" stop-color="#3a3a3a" stop-opacity="1.0"/></linearGradient>
<polygon points="292.22,270.32 322.87,303.13 322.13,303.81" fill="url(#g34)"/>
<line x1="292.22" y1="270.32" x2="322.87" y2="303.13" stroke="#888" stroke-width="0.3"/>
<line x1="292.22" y1="270.32" x2="322.13" y2="303.81" stroke="#888" stroke-width="0.3"/>
<linearGradient id="g35" gradientUnits="userSpaceOnUse" x1="292.48" y1="270.04" x2="330.56" y2="302.45"><stop offset="0" stop-color="#ffffff" stop-opacity="0.0"/><stop offset="1" stop-color="#3a3a3a" stop-opacity="1.0"/></linearGradient>
<polygon points="292.48,270.04 330.92,302.03 330.2,302.87" fill="url(#g35)"/>
<line x1="292.48" y1="270.04" x2="330.92" y2="302.03" stroke="#888" stroke-width="0.3"/>
<line x1="292.48" y1="270.04" x2="330.2" y2="302.87" stroke="#888" stroke-width="0.3"/>
<linearGradient id="g36" gradientUnits="userSpaceOnUse" x1="292.63" y1="269.86" x2="330.65" y2="297.49"><stop offset="0" stop-color="#ffffff" stop-opacity="0.0"/><stop offset="1" stop-color="#3a3a3a" stop-opacity="1.0"/></linearGradient>
<polygon points="292.63,269.86 330.96,297.06 330.34,297.91" fill="url(#g36)"/>
<line x1="292.63" y1="269.86" x2="330.96" y2="297.06" stroke="#888" stroke-width="0.3"/>
<line x1="292.63" y1="269.86" x2="330.34" y2="297.91" stroke="#888" stroke-width="0.3"/>
<linearGradient id="g37" gradientUnits="userSpaceOnUse" x1="296.29" y1="280.7" x2="309.79" y2="308.61"><stop offset="0" stop-color="#ffffff" stop-opacity="0.0"/><stop offset="1" stop-color="#94a4d6" stop-opacity="0.9"/></linearGradient>
<polygon points="296.29,280.7 310.98,308.02 308.57,309.18" fill="url(#g37)"/>
<line x1="296.29" y1="280.7" x2="310.98" y2="308.02" stroke="#6a7aae" stroke-width="0.3"/>
<line x1="296.29" y1="280.7" x2="308.57" y2="309.18" stroke="#6a7aae" stroke-width="0.3"/>
<line x1="296.29" y1="280.7" x2="309.04" y2="307.97" stroke="#4a568e" stroke-width="0.35"/>
<linearGradient id="g38" gradientUnits="userSpaceOnUse" x1="295.08" y1="281.22" x2="306.69" y2="312.43"><stop offset="0" stop-color="#ffffff" stop-opacity="0.0"/><stop offset="1" stop-color="#94a4d6" stop-opacity="0.9"/></linearGradient>
<polygon points="295.08,281.22 307.92,311.96 305.44,312.88" fill="url(#g38)"/>
<line x1="295.08" y1="281.22" x2="307.92" y2="311.96" stroke="#6a7aae" stroke-width="0.3"/>
<line x1="295.08" y1="281.22" x2="305.44" y2="312.88" stroke="#6a7aae" stroke-width="0.3"/>
<line x1="295.08" y1="281.22" x2="305.99" y2="311.68" stroke="#4a568e" stroke-width="0.35"/>
<linearGradient id="g39" gradientUnits="userSpaceOnUse" x1="293.96" y1="281.58" x2="303.7" y2="316.45"><stop offset="0" stop-color="#ffffff" stop-opacity="0.0"/><stop offset="1" stop-color="#94a4d6" stop-opacity="0.9"/></linearGradient>
<polygon points="293.96,281.58 304.96,316.08 302.43,316.79" fill="url(#g39)"/>
<line x1="293.96" y1="281.58" x2="304.96" y2="316.08" stroke="#6a7aae" stroke-width="0.3"/>
<line x1="293.96" y1="281.58" x2="302.43" y2="316.79" stroke="#6a7aae" stroke-width="0.3"/>
<line x1="293.96" y1="281.58" x2="303.06" y2="315.59" stroke="#4a568e" stroke-width="0.35"/>
<line x1="290.2" y1="268.1" x2="295.44" y2="281.08" stroke="#8c8c8c" stroke-width="0.5"/>
<linearGradient id="g40" gradientUnits="userSpaceOnUse" x1="290.64" y1="280.09" x2="292.49" y2="330.66"><stop offset="0" stop-color="#ffffff" stop-opacity="0.0"/><stop offset="1" stop-color="#9a9ad0" stop-opacity="0.9"/></linearGradient>
<polygon points="290.64,280.09 294.24,330.57 290.75,330.7" fill="url(#g40)"/>
<line x1="290.64" y1="280.09" x2="294.24" y2="330.57" stroke="#6a6aa6" stroke-width="0.3"/>
<line x1="290.64" y1="280.09" x2="290.75" y2="330.7" stroke="#6a6aa6" stroke-width="0.3"/>
<line x1="290.64" y1="280.09" x2="291.93" y2="329.42" stroke="#50508a" stroke-width="0.35"/>
<linearGradient id="g41" gradientUnits="userSpaceOnUse" x1="289.53" y1="280.08" x2="286.96" y2="326.01"><stop offset="0" stop-color="#ffffff" stop-opacity="0.0"/><stop offset="1" stop-color="#9a9ad0" stop-opacity="0.9"/></linearGradient>
<polygon points="289.53,280.08 288.38,326.07 285.55,325.91" fill="url(#g41)"/>
<line x1="289.53" y1="280.08" x2="288.38" y2="326.07" stroke="#6a6aa6" stroke-width="0.3"/>
<line x1="289.53" y1="280.08" x2="285.55" y2="325.91" stroke="#6a6aa6" stroke-width="0.3"/>
<line x1="289.53" y1="280.08" x2="286.61" y2="324.83" stroke="#50508a" stroke-width="0.35"/>
<linearGradient id="g42" gradientUnits="userSpaceOnUse" x1="287.07" y1="281.75" x2="277.5" y2="323.56"><stop offset="0" stop-color="#ffffff" stop-opacity="0.0"/><stop offset="1" stop-color="#a6a6d2" stop-opacity="0.9"/></linearGradient>
<polygon points="287.07,281.75 278.95,323.88 276.05,323.21" fill="url(#g42)"/>
<line x1="287.07" y1="281.75" x2="278.95" y2="323.88" stroke="#6e6ea4" stroke-width="0.3"/>
<line x1="287.07" y1="281.75" x2="276.05" y2="323.21" stroke="#6e6ea4" stroke-width="0.3"/>
<line x1="287.07" y1="281.75" x2="277.32" y2="322.36" stroke="#58588e" stroke-width="0.35"/>
<linearGradient id="g43" gradientUnits="userSpaceOnUse" x1="286.39" y1="281.57" x2="274.05" y2="325.16"><stop offset="0" stop-color="#ffffff" stop-opacity="0.0"/><stop offset="1" stop-color="#a6a6d2" stop-opacity="0.9"/></linearGradient>
<polygon points="286.39,281.57 275.35,325.51 272.76,324.78" fill="url(#g43)"/>
<line x1="286.39" y1="281.57" x2="275.35" y2="325.51" stroke="#6e6ea4" stroke-width="0.3"/>
<line x1="286.39" y1="281.57" x2="272.76" y2="324.78" stroke="#6e6ea4" stroke-width="0.3"/>
<line x1="286.39" y1="281.57" x2="274" y2="323.91" stroke="#58588e" stroke-width="0.35"/>
<linearGradient id="g44" gradientUnits="userSpaceOnUse" x1="285.14" y1="281.15" x2="267.16" y2="327.49"><stop offset="0" stop-color="#ffffff" stop-opacity="0.0"/><stop offset="1" stop-color="#a6a6d2" stop-opacity="0.9"/></linearGradient>
<polygon points="285.14,281.15 269.04,328.18 265.31,326.74" fill="url(#g44)"/>
<line x1="285.14" y1="281.15" x2="269.04" y2="328.18" stroke="#6e6ea4" stroke-width="0.3"/>
<line x1="285.14" y1="281.15" x2="265.31" y2="326.74" stroke="#6e6ea4" stroke-width="0.3"/>
<line x1="285.14" y1="281.15" x2="267.08" y2="326.09" stroke="#58588e" stroke-width="0.35"/>
<linearGradient id="g45" gradientUnits="userSpaceOnUse" x1="283.5" y1="280.39" x2="259.95" y2="323.59"><stop offset="0" stop-color="#ffffff" stop-opacity="0.0"/><stop offset="1" stop-color="#a6a6d2" stop-opacity="0.9"/></linearGradient>
<polygon points="283.5,280.39 261.9,324.61 258.03,322.5" fill="url(#g45)"/>
<line x1="283.5" y1="280.39" x2="261.9" y2="324.61" stroke="#6e6ea4" stroke-width="0.3"/>
<line x1="283.5" y1="280.39" x2="258.03" y2="322.5" stroke="#6e6ea4" stroke-width="0.3"/>
<line x1="283.5" y1="280.39" x2="259.98" y2="322.17" stroke="#58588e" stroke-width="0.35"/>
<linearGradient id="g46" gradientUnits="userSpaceOnUse" x1="282.11" y1="279.53" x2="256.16" y2="316.17"><stop offset="0" stop-color="#ffffff" stop-opacity="0.0"/><stop offset="1" stop-color="#a6a6d2" stop-opacity="0.9"/></linearGradient>
<polygon points="282.11,279.53 257.43,317.04 254.92,315.26" fill="url(#g46)"/>
<line x1="282.11" y1="279.53" x2="257.43" y2="317.04" stroke="#6e6ea4" stroke-width="0.3"/>
<line x1="282.11" y1="279.53" x2="254.92" y2="315.26" stroke="#6e6ea4" stroke-width="0.3"/>
<line x1="282.11" y1="279.53" x2="256.48" y2="314.95" stroke="#58588e" stroke-width="0.35"/>
<line x1="290.2" y1="268.1" x2="285.41" y2="281.26" stroke="#8c8c8c" stroke-width="0.5"/>
<linearGradient id="g47" gradientUnits="userSpaceOnUse" x1="284.61" y1="273.83" x2="248.57" y2="310.76"><stop offset="0" stop-color="#ffffff" stop-opacity="0.0"/><stop offset="1" stop-color="#888896" stop-opacity="1.0"/></linearGradient>
<polygon points="284.61,273.83 249.33,311.48 247.84,310.02" fill="url(#g47)"/>
<line x1="284.61" y1="273.83" x2="249.33" y2="311.48" stroke="#666" stroke-width="0.3"/>
<line x1="284.61" y1="273.83" x2="247.84" y2="310.02" stroke="#666" stroke-width="0.3"/>
<line x1="290.2" y1="268.1" x2="235.85" y2="308.46" stroke="#b070a0" stroke-width="0.6"/>
<line x1="290.2" y1="268.1" x2="237.09" y2="306.26" stroke="#d080a0" stroke-width="0.6"/>
<line x1="290.2" y1="268.1" x2="234.82" y2="302.7" stroke="#902030" stroke-width="0.7"/>
<linearGradient id="g48" gradientUnits="userSpaceOnUse" x1="266.75" y1="279.33" x2="237.44" y2="293.38"><stop offset="0" stop-color="#ffffff" stop-opacity="0.0"/><stop offset="1" stop-color="#ecd070" stop-opacity="1.0"/></linearGradient>
<polygon points="266.75,279.33 238.45,295.38 236.51,291.33" fill="url(#g48)"/>
<line x1="290.2" y1="268.1" x2="232.43" y2="296.78" stroke="#705820" stroke-width="0.5"/>
<line x1="290.2" y1="268.1" x2="218.88" y2="294.06" stroke="#3a6a90" stroke-width="0.6"/>
<linearGradient id="g49" gradientUnits="userSpaceOnUse" x1="286.24" y1="268.66" x2="215.35" y2="278.75"><stop offset="0" stop-color="#ffffff" stop-opacity="0.0"/><stop offset="1" stop-color="#3a3a3a" stop-opacity="0.9"/></linearGradient>
<polygon points="286.24,268.66 215.54,279.99 215.19,277.51" fill="url(#g49)"/>
<line x1="286.24" y1="268.66" x2="215.54" y2="279.99" stroke="#8a8a8a" stroke-width="0.3"/>
<line x1="286.24" y1="268.66" x2="215.19" y2="277.51" stroke="#8a8a8a" stroke-width="0.3"/>
<linearGradient id="g50" gradientUnits="userSpaceOnUse" x1="286.29" y1="268.93" x2="209.6" y2="285.23"><stop offset="0" stop-color="#ffffff" stop-opacity="0.0"/><stop offset="1" stop-color="#3a3a3a" stop-opacity="0.9"/></linearGradient>
<polygon points="286.29,268.93 209.78,286.08 209.43,284.39" fill="url(#g50)"/>
<line x1="286.29" y1="268.93" x2="209.78" y2="286.08" stroke="#8a8a8a" stroke-width="0.3"/>
<line x1="286.29" y1="268.93" x2="209.43" y2="284.39" stroke="#8a8a8a" stroke-width="0.3"/>
<linearGradient id="g51" gradientUnits="userSpaceOnUse" x1="286.23" y1="268.6" x2="222.24" y2="276.69"><stop offset="0" stop-color="#ffffff" stop-opacity="0.0"/><stop offset="1" stop-color="#3a3a3a" stop-opacity="0.9"/></linearGradient>
<polygon points="286.23,268.6 222.35,277.51 222.14,275.85" fill="url(#g51)"/>
<line x1="286.23" y1="268.6" x2="222.35" y2="277.51" stroke="#8a8a8a" stroke-width="0.3"/>
<line x1="286.23" y1="268.6" x2="222.14" y2="275.85" stroke="#8a8a8a" stroke-width="0.3"/>
<linearGradient id="g52" gradientUnits="userSpaceOnUse" x1="286.27" y1="268.82" x2="221.35" y2="280.74"><stop offset="0" stop-color="#ffffff" stop-opacity="0.0"/><stop offset="1" stop-color="#3a3a3a" stop-opacity="0.9"/></linearGradient>
<polygon points="286.27,268.82 221.46,281.34 221.24,280.14" fill="url(#g52)"/>
<line x1="286.27" y1="268.82" x2="221.46" y2="281.34" stroke="#8a8a8a" stroke-width="0.3"/>
<line x1="286.27" y1="268.82" x2="221.24" y2="280.14" stroke="#8a8a8a" stroke-width="0.3"/>
<line x1="290.2" y1="268.1" x2="232.24" y2="283.63" stroke="#8a8a8a" stroke-width="0.45"/>
<line x1="290.2" y1="268.1" x2="239.2" y2="288.7" stroke="#8a8a8a" stroke-width="0.45"/>
<line x1="290.2" y1="268.1" x2="253.04" y2="301.56" stroke="#8a8a8a" stroke-width="0.45"/>
<line x1="290.2" y1="268.1" x2="262.5" y2="303.56" stroke="#8a8a8a" stroke-width="0.45"/>
<text x="228.6" y="267.4" font-size="4.85" text-anchor="start" fill="#111" stroke="#111" stroke-width="0.12">Tree scale: 0.5</text>
<line x1="256.4" y1="265.6" x2="279.5" y2="265.6" stroke="#222" stroke-width="0.5"/>
<line x1="256.4" y1="264.6" x2="256.4" y2="266.6" stroke="#222" stroke-width="0.4"/>
<line x1="279.5" y1="264.6" x2="279.5" y2="266.6" stroke="#222" stroke-width="0.4"/>
<text x="231" y="219.5" font-size="6" text-anchor="start" fill="#3e6e8e" stroke="#3e6e8e" stroke-width="0.05" font-style="italic" transform="rotate(-35 231 219.5)">Pseudomonadota</text>
<text x="244" y="228.4" font-size="4.6" text-anchor="start" fill="#5a7898" stroke="#5a7898" stroke-width="0.05" font-style="italic" transform="rotate(37 244 228.4)">Magnetococcia</text>
<text x="231.6" y="250.9" font-size="4.4" text-anchor="start" fill="#8cc4d8" stroke="#8cc4d8" stroke-width="0.05" font-style="italic" transform="rotate(10.8 231.6 250.9)">Alphaproteobacteria</text>
<text x="271" y="209.8" font-size="4.3" text-anchor="start" fill="#4a5a6a" stroke="#4a5a6a" stroke-width="0.05" font-style="italic" transform="rotate(74 271 209.8)">Zetaproteobacteria</text>
<text x="293.4" y="207.4" font-size="4.4" text-anchor="start" fill="#2e3e50" stroke="#2e3e50" stroke-width="0.05" font-style="italic" transform="rotate(85 293.4 207.4)">Gammaproteobacteria</text>
<text x="304" y="222.8" font-size="5.5" text-anchor="start" fill="#c85a74" stroke="#c85a74" stroke-width="0.05" font-style="italic" transform="rotate(-54 304 222.8)">Nitrospinota</text>
<text x="318.4" y="225.6" font-size="5.6" text-anchor="start" fill="#d8684e" stroke="#d8684e" stroke-width="0.05" font-style="italic" transform="rotate(-53 318.4 225.6)">UBA10199</text>
<text x="329.4" y="225" font-size="5.6" text-anchor="start" fill="#dcb448" stroke="#dcb448" stroke-width="0.05" font-style="italic" transform="rotate(-40.6 329.4 225)">Myxococcota</text>
<text x="342.4" y="234.4" font-size="5.9" text-anchor="start" fill="#aec07a" stroke="#aec07a" stroke-width="0.05" font-style="italic" transform="rotate(-9 342.4 234.4)">Bdellovibrionota</text>
<text x="338" y="283.2" font-size="6" text-anchor="start" fill="#9cb490" stroke="#9cb490" stroke-width="0.05" font-style="italic">Desulfobacterota</text>
<text x="324.2" y="312.6" font-size="5.7" text-anchor="start" fill="#a4c2b4" stroke="#a4c2b4" stroke-width="0.05" font-style="italic">Desulfobacterota_G</text>
<text x="306.8" y="323.5" font-size="5.55" text-anchor="start" fill="#7088c4" stroke="#7088c4" stroke-width="0.05" font-style="italic">Nitrospirota</text>
<text x="251.4" y="338.1" font-size="6.2" text-anchor="start" fill="#6e70b6" stroke="#6e70b6" stroke-width="0.05" font-style="italic">Omnitrophota</text>
<text x="287.6" y="338.1" font-size="5.9" text-anchor="start" fill="#6e70b6" stroke="#6e70b6" stroke-width="0.05" font-style="italic">Elusimicrobiota</text>
<text x="235.2" y="322.4" font-size="6.2" text-anchor="start" fill="#8a8a9a" stroke="#8a8a9a" stroke-width="0.05" font-style="italic" transform="rotate(-10 235.2 322.4)">SAR324</text>
<text x="209.6" y="335.6" font-size="5.7" text-anchor="start" fill="#c070a0" stroke="#c070a0" stroke-width="0.05" font-style="italic" transform="rotate(-37.8 209.6 335.6)">Riflebacteria</text>
<text x="207.6" y="328.8" font-size="5.9" text-anchor="start" fill="#d87098" stroke="#d87098" stroke-width="0.05" font-style="italic" transform="rotate(-36.6 207.6 328.8)">Latescibacterota</text>
<text x="202.4" y="324" font-size="5.7" text-anchor="start" fill="#c02040" stroke="#c02040" stroke-width="0.1" font-weight="bold" transform="rotate(-29.7 202.4 324)">Fibrobacterota</text>
<text x="184.8" y="301.2" font-size="6.1" text-anchor="start" fill="#d0a828" stroke="#d0a828" stroke-width="0.05" font-style="italic" transform="rotate(-1 184.8 301.2)">Hydrogenedentota</text>
<text x="184.8" y="290.8" font-size="5.8" text-anchor="start" fill="#888" stroke="#888" stroke-width="0.05" font-style="italic" transform="rotate(-1 184.8 290.8)">Planctomycetota</text>
<text x="370.8" y="193.4" font-size="10.6" text-anchor="start" fill="#1a1a1a" stroke="#1a1a1a" stroke-width="0.3" font-family='"Liberation Sans", sans-serif'>(f)</text>
<line x1="402.3" y1="194" x2="402.3" y2="291.7" stroke="#cfcfcf" stroke-width="0.5" stroke-dasharray="0.9,0.9"/>
<line x1="407.37" y1="194" x2="407.37" y2="291.7" stroke="#cfcfcf" stroke-width="0.5" stroke-dasharray="0.9,0.9"/>
<line x1="412.44" y1="194" x2="412.44" y2="291.7" stroke="#cfcfcf" stroke-width="0.5" stroke-dasharray="0.9,0.9"/>
<line x1="417.51" y1="194" x2="417.51" y2="291.7" stroke="#cfcfcf" stroke-width="0.5" stroke-dasharray="0.9,0.9"/>
<line x1="422.58" y1="194" x2="422.58" y2="291.7" stroke="#cfcfcf" stroke-width="0.5" stroke-dasharray="0.9,0.9"/>
<line x1="427.65" y1="194" x2="427.65" y2="291.7" stroke="#cfcfcf" stroke-width="0.5" stroke-dasharray="0.9,0.9"/>
<line x1="432.72" y1="194" x2="432.72" y2="291.7" stroke="#cfcfcf" stroke-width="0.5" stroke-dasharray="0.9,0.9"/>
<line x1="437.79" y1="194" x2="437.79" y2="291.7" stroke="#cfcfcf" stroke-width="0.5" stroke-dasharray="0.9,0.9"/>
<line x1="442.86" y1="194" x2="442.86" y2="291.7" stroke="#cfcfcf" stroke-width="0.5" stroke-dasharray="0.9,0.9"/>
<line x1="447.93" y1="194" x2="447.93" y2="291.7" stroke="#cfcfcf" stroke-width="0.5" stroke-dasharray="0.9,0.9"/>
<line x1="453" y1="194" x2="453" y2="291.7" stroke="#cfcfcf" stroke-width="0.5" stroke-dasharray="0.9,0.9"/>
<line x1="458.07" y1="194" x2="458.07" y2="291.7" stroke="#cfcfcf" stroke-width="0.5" stroke-dasharray="0.9,0.9"/>
<line x1="463.14" y1="194" x2="463.14" y2="291.7" stroke="#cfcfcf" stroke-width="0.5" stroke-dasharray="0.9,0.9"/>
<line x1="468.21" y1="194" x2="468.21" y2="291.7" stroke="#cfcfcf" stroke-width="0.5" stroke-dasharray="0.9,0.9"/>
<line x1="473.28" y1="194" x2="473.28" y2="291.7" stroke="#cfcfcf" stroke-width="0.5" stroke-dasharray="0.9,0.9"/>
<line x1="478.35" y1="194" x2="478.35" y2="291.7" stroke="#cfcfcf" stroke-width="0.5" stroke-dasharray="0.9,0.9"/>
<line x1="483.42" y1="194" x2="483.42" y2="291.7" stroke="#cfcfcf" stroke-width="0.5" stroke-dasharray="0.9,0.9"/>
<line x1="488.49" y1="194" x2="488.49" y2="291.7" stroke="#cfcfcf" stroke-width="0.5" stroke-dasharray="0.9,0.9"/>
<line x1="493.56" y1="194" x2="493.56" y2="291.7" stroke="#cfcfcf" stroke-width="0.5" stroke-dasharray="0.9,0.9"/>
<line x1="498.63" y1="194" x2="498.63" y2="291.7" stroke="#cfcfcf" stroke-width="0.5" stroke-dasharray="0.9,0.9"/>
<line x1="402.3" y1="193" x2="402.3" y2="291.7" stroke="#777" stroke-width="0.55"/>
<line x1="402.3" y1="291.7" x2="506" y2="291.7" stroke="#888" stroke-width="0.5"/>
<path d="M504.2 290.3L507.2 291.7L504.2 293.1" fill="none" stroke="#888" stroke-width="0.5"/>
<text x="399.3" y="293.5" font-size="5.2" text-anchor="end" fill="#333" stroke="#333" stroke-width="0.12">0</text>
<line x1="400.8" y1="291.7" x2="402.3" y2="291.7" stroke="#777" stroke-width="0.4"/>
<text x="399.3" y="281.3" font-size="5.2" text-anchor="end" fill="#333" stroke="#333" stroke-width="0.12">50</text>
<line x1="400.8" y1="279.5" x2="402.3" y2="279.5" stroke="#777" stroke-width="0.4"/>
<text x="399.3" y="269.1" font-size="5.2" text-anchor="end" fill="#333" stroke="#333" stroke-width="0.12">100</text>
<line x1="400.8" y1="267.3" x2="402.3" y2="267.3" stroke="#777" stroke-width="0.4"/>
<text x="399.3" y="256.9" font-size="5.2" text-anchor="end" fill="#333" stroke="#333" stroke-width="0.12">150</text>
<line x1="400.8" y1="255.1" x2="402.3" y2="255.1" stroke="#777" stroke-width="0.4"/>
<text x="399.3" y="244.7" font-size="5.2" text-anchor="end" fill="#333" stroke="#333" stroke-width="0.12">200</text>
<line x1="400.8" y1="242.9" x2="402.3" y2="242.9" stroke="#777" stroke-width="0.4"/>
<text x="399.3" y="232.5" font-size="5.2" text-anchor="end" fill="#333" stroke="#333" stroke-width="0.12">250</text>
<line x1="400.8" y1="230.7" x2="402.3" y2="230.7" stroke="#777" stroke-width="0.4"/>
<text x="399.3" y="220.3" font-size="5.2" text-anchor="end" fill="#333" stroke="#333" stroke-width="0.12">300</text>
<line x1="400.8" y1="218.5" x2="402.3" y2="218.5" stroke="#777" stroke-width="0.4"/>
<text x="399.3" y="208.1" font-size="5.2" text-anchor="end" fill="#333" stroke="#333" stroke-width="0.12">350</text>
<line x1="400.8" y1="206.3" x2="402.3" y2="206.3" stroke="#777" stroke-width="0.4"/>
<text x="399.3" y="195.9" font-size="5.2" text-anchor="end" fill="#333" stroke="#333" stroke-width="0.12">400</text>
<line x1="400.8" y1="194.1" x2="402.3" y2="194.1" stroke="#777" stroke-width="0.4"/>
<text x="388" y="237.2" font-size="5.25" text-anchor="middle" fill="#111" stroke="#111" stroke-width="0.1" font-weight="bold" transform="rotate(-90 388 237.2)">Cumulative number of published genomes</text>
<path d="M402.3 291.46 L422.58 291.21 L427.65 290.97 L437.79 290.48 L442.86 289.5 L447.93 287.31 L453 285.84 L458.07 283.89 L463.14 281.21 L468.21 276.33 L473.28 276.08 L478.35 225.09 L483.42 224.11 L488.49 222.16 L493.56 218.26 L498.63 202.64" fill="none" stroke="#c85048" stroke-width="1.2"/>
<circle cx="402.3" cy="291.46" r="1.55" fill="#fff" stroke="#c04848" stroke-width="0.75"/>
<circle cx="422.58" cy="291.21" r="1.55" fill="#fff" stroke="#c04848" stroke-width="0.75"/>
<circle cx="427.65" cy="290.97" r="1.55" fill="#fff" stroke="#c04848" stroke-width="0.75"/>
<circle cx="437.79" cy="290.48" r="1.55" fill="#fff" stroke="#c04848" stroke-width="0.75"/>
<circle cx="442.86" cy="289.5" r="1.55" fill="#fff" stroke="#c04848" stroke-width="0.75"/>
<circle cx="447.93" cy="287.31" r="1.55" fill="#fff" stroke="#c04848" stroke-width="0.75"/>
<circle cx="453" cy="285.84" r="1.55" fill="#fff" stroke="#c04848" stroke-width="0.75"/>
<circle cx="458.07" cy="283.89" r="1.55" fill="#fff" stroke="#c04848" stroke-width="0.75"/>
<circle cx="463.14" cy="281.21" r="1.55" fill="#fff" stroke="#c04848" stroke-width="0.75"/>
<circle cx="468.21" cy="276.33" r="1.55" fill="#fff" stroke="#c04848" stroke-width="0.75"/>
<circle cx="473.28" cy="276.08" r="1.55" fill="#fff" stroke="#c04848" stroke-width="0.75"/>
<circle cx="478.35" cy="225.09" r="1.55" fill="#fff" stroke="#c04848" stroke-width="0.75"/>
<circle cx="483.42" cy="224.11" r="1.55" fill="#fff" stroke="#c04848" stroke-width="0.75"/>
<circle cx="488.49" cy="222.16" r="1.55" fill="#fff" stroke="#c04848" stroke-width="0.75"/>
<circle cx="493.56" cy="218.26" r="1.55" fill="#fff" stroke="#c04848" stroke-width="0.75"/>
<circle cx="498.63" cy="202.64" r="1.55" fill="#fff" stroke="#c04848" stroke-width="0.75"/>
<path d="M402.3 291.46 L422.58 291.21 L427.65 290.97 L437.79 290.48 L442.86 289.5 L447.93 287.55 L453 286.33 L458.07 284.38 L463.14 281.94 L468.21 278.77 L473.28 277.79 L478.35 235.34 L483.42 234.36 L488.49 232.9 L493.56 229.72 L498.63 228.75" fill="none" stroke="#ebb640" stroke-width="1.25"/>
<circle cx="402.3" cy="291.46" r="1.55" fill="#fff" stroke="#e2bc3a" stroke-width="0.75"/>
<circle cx="422.58" cy="291.21" r="1.55" fill="#fff" stroke="#e2bc3a" stroke-width="0.75"/>
<circle cx="427.65" cy="290.97" r="1.55" fill="#fff" stroke="#e2bc3a" stroke-width="0.75"/>
<circle cx="437.79" cy="290.48" r="1.55" fill="#fff" stroke="#e2bc3a" stroke-width="0.75"/>
<circle cx="442.86" cy="289.5" r="1.55" fill="#fff" stroke="#e2bc3a" stroke-width="0.75"/>
<circle cx="447.93" cy="287.55" r="1.55" fill="#fff" stroke="#e2bc3a" stroke-width="0.75"/>
<circle cx="453" cy="286.33" r="1.55" fill="#fff" stroke="#e2bc3a" stroke-width="0.75"/>
<circle cx="458.07" cy="284.38" r="1.55" fill="#fff" stroke="#e2bc3a" stroke-width="0.75"/>
<circle cx="463.14" cy="281.94" r="1.55" fill="#fff" stroke="#e2bc3a" stroke-width="0.75"/>
<circle cx="468.21" cy="278.77" r="1.55" fill="#fff" stroke="#e2bc3a" stroke-width="0.75"/>
<circle cx="473.28" cy="277.79" r="1.55" fill="#fff" stroke="#e2bc3a" stroke-width="0.75"/>
<circle cx="478.35" cy="235.34" r="1.55" fill="#fff" stroke="#e2bc3a" stroke-width="0.75"/>
<circle cx="483.42" cy="234.36" r="1.55" fill="#fff" stroke="#e2bc3a" stroke-width="0.75"/>
<circle cx="488.49" cy="232.9" r="1.55" fill="#fff" stroke="#e2bc3a" stroke-width="0.75"/>
<circle cx="493.56" cy="229.72" r="1.55" fill="#fff" stroke="#e2bc3a" stroke-width="0.75"/>
<circle cx="498.63" cy="228.75" r="1.55" fill="#fff" stroke="#e2bc3a" stroke-width="0.75"/>
<path d="M447.93 290.72 L453 290.72 L458.07 290.72 L463.14 290.48 L468.21 289.5 L473.28 288.77 L478.35 280.48 L483.42 280.48 L488.49 280.48 L493.56 280.23 L498.63 264.13" fill="none" stroke="#4a6aa8" stroke-width="1.2"/>
<circle cx="447.93" cy="290.72" r="1.55" fill="#fff" stroke="#4a66a8" stroke-width="0.75"/>
<circle cx="453" cy="290.72" r="1.55" fill="#fff" stroke="#4a66a8" stroke-width="0.75"/>
<circle cx="458.07" cy="290.72" r="1.55" fill="#fff" stroke="#4a66a8" stroke-width="0.75"/>
<circle cx="463.14" cy="290.48" r="1.55" fill="#fff" stroke="#4a66a8" stroke-width="0.75"/>
<circle cx="468.21" cy="289.5" r="1.55" fill="#fff" stroke="#4a66a8" stroke-width="0.75"/>
<circle cx="473.28" cy="288.77" r="1.55" fill="#fff" stroke="#4a66a8" stroke-width="0.75"/>
<circle cx="478.35" cy="280.48" r="1.55" fill="#fff" stroke="#4a66a8" stroke-width="0.75"/>
<circle cx="483.42" cy="280.48" r="1.55" fill="#fff" stroke="#4a66a8" stroke-width="0.75"/>
<circle cx="488.49" cy="280.48" r="1.55" fill="#fff" stroke="#4a66a8" stroke-width="0.75"/>
<circle cx="493.56" cy="280.23" r="1.55" fill="#fff" stroke="#4a66a8" stroke-width="0.75"/>
<circle cx="498.63" cy="264.13" r="1.55" fill="#fff" stroke="#4a66a8" stroke-width="0.75"/>
<text x="407.5" y="202.4" font-size="5.35" text-anchor="start" fill="#111" stroke="#111" stroke-width="0.1" font-weight="bold">Group</text>
<circle cx="409.3" cy="206.4" r="1.45" fill="#fff" stroke="#c04848" stroke-width="0.85"/>
<text x="412.5" y="208.2" font-size="5.05" text-anchor="start" fill="#333" stroke="#333" stroke-width="0.12">Total MTB genomes</text>
<circle cx="409.3" cy="211.7" r="1.45" fill="#fff" stroke="#dcbc30" stroke-width="0.85"/>
<text x="412.5" y="213.4" font-size="5.05" text-anchor="start" fill="#333" stroke="#333" stroke-width="0.12">cMTB genomes</text>
<circle cx="409.3" cy="216.9" r="1.45" fill="#fff" stroke="#4a66a8" stroke-width="0.85"/>
<text x="412.5" y="218.6" font-size="5.05" text-anchor="start" fill="#333" stroke="#333" stroke-width="0.12">pMTB genomes</text>
<text x="403.5" y="296" font-size="4.3" text-anchor="end" fill="#333" stroke="#333" stroke-width="0.12" transform="rotate(-60 403.5 296)">2005</text>
<text x="423.78" y="296" font-size="4.3" text-anchor="end" fill="#333" stroke="#333" stroke-width="0.12" transform="rotate(-60 423.78 296)">2009</text>
<text x="428.85" y="296" font-size="4.3" text-anchor="end" fill="#333" stroke="#333" stroke-width="0.12" transform="rotate(-60 428.85 296)">2010</text>
<text x="438.99" y="295.8" font-size="3.9" text-anchor="end" fill="#444" stroke="#444" stroke-width="0.12" transform="rotate(-50 438.99 295.8)">12.6</text>
<text x="444.06" y="295.8" font-size="3.9" text-anchor="end" fill="#444" stroke="#444" stroke-width="0.12" transform="rotate(-50 444.06 295.8)">13.7</text>
<text x="449.13" y="295.8" font-size="3.9" text-anchor="end" fill="#444" stroke="#444" stroke-width="0.12" transform="rotate(-50 449.13 295.8)">14.8</text>
<text x="454.2" y="295.8" font-size="3.9" text-anchor="end" fill="#444" stroke="#444" stroke-width="0.12" transform="rotate(-50 454.2 295.8)">15.9</text>
<text x="459.27" y="295.8" font-size="3.9" text-anchor="end" fill="#444" stroke="#444" stroke-width="0.12" transform="rotate(-50 459.27 295.8)">16.1</text>
<text x="464.34" y="295.8" font-size="3.9" text-anchor="end" fill="#444" stroke="#444" stroke-width="0.12" transform="rotate(-50 464.34 295.8)">17.2</text>
<text x="469.41" y="295.8" font-size="3.9" text-anchor="end" fill="#444" stroke="#444" stroke-width="0.12" transform="rotate(-50 469.41 295.8)">18.3</text>
<text x="474.48" y="295.8" font-size="3.9" text-anchor="end" fill="#444" stroke="#444" stroke-width="0.12" transform="rotate(-50 474.48 295.8)">19.4</text>
<text x="479.55" y="295.8" font-size="3.9" text-anchor="end" fill="#444" stroke="#444" stroke-width="0.12" transform="rotate(-50 479.55 295.8)">20.5</text>
<text x="484.62" y="295.8" font-size="3.9" text-anchor="end" fill="#444" stroke="#444" stroke-width="0.12" transform="rotate(-50 484.62 295.8)">21.6</text>
<text x="489.69" y="295.8" font-size="3.9" text-anchor="end" fill="#444" stroke="#444" stroke-width="0.12" transform="rotate(-50 489.69 295.8)">22.7</text>
<text x="494.76" y="295.8" font-size="3.9" text-anchor="end" fill="#444" stroke="#444" stroke-width="0.12" transform="rotate(-50 494.76 295.8)">23.8</text>
<text x="499.83" y="295.8" font-size="3.9" text-anchor="end" fill="#444" stroke="#444" stroke-width="0.12" transform="rotate(-50 499.83 295.8)">24.9</text>
<text x="440.8" y="307.8" font-size="5.7" text-anchor="start" fill="#111" stroke="#111" stroke-width="0.1" font-weight="bold">Timeline</text>
<line x1="445.4" y1="309.7" x2="487" y2="309.7" stroke="#777" stroke-width="0.5"/>
<line x1="490" y1="309.7" x2="498.5" y2="309.7" stroke="#777" stroke-width="0.5"/>
<path d="M402.3 303.2 L402.0 311.5" stroke="#aaa" stroke-width="0.4" fill="none"/>
<path d="M421 303 C418 306 412 308 408.4 311.5" stroke="#aaa" stroke-width="0.4" fill="none"/>
<path d="M425 303 C423 306 418 308 414.7 311.5" stroke="#aaa" stroke-width="0.4" fill="none"/>
<path d="M427 303 C427 306 423 309 421.1 311.5" stroke="#aaa" stroke-width="0.4" fill="none"/>
<path d="M436 301 C434 303 431 306 427.4 311.5" stroke="#aaa" stroke-width="0.4" fill="none"/>
<path d="M442 301 C440 304 436 307 433.8 311.5" stroke="#aaa" stroke-width="0.4" fill="none"/>
<path d="M446 301 C444 304 442 306 440.1 311.5" stroke="#aaa" stroke-width="0.4" fill="none"/>
<path d="M467.7 309.7 L476 297.5" stroke="#888" stroke-width="0.4" fill="none"/>
<path d="M497 309.7 L494.6 300" stroke="#888" stroke-width="0.4" fill="none"/>
<circle cx="402" cy="313.4" r="1.35" fill="#dcc868" stroke="#7a6a28" stroke-width="0.55"/>
<text x="403.2" y="316.9" font-size="4.3" text-anchor="end" fill="#333" stroke="#333" stroke-width="0.05" font-style="italic" transform="rotate(-45 403.2 316.9)">Pseudomonadota</text>
<circle cx="408.35" cy="313.4" r="1.35" fill="#dcc868" stroke="#7a6a28" stroke-width="0.55"/>
<text x="409.55" y="316.9" font-size="4.3" text-anchor="end" fill="#333" stroke="#333" stroke-width="0.05" font-style="italic" transform="rotate(-45 409.55 316.9)">Desulfobacterota</text>
<circle cx="414.7" cy="313.4" r="1.35" fill="#dcc868" stroke="#7a6a28" stroke-width="0.55"/>
<text x="415.9" y="316.9" font-size="4.3" text-anchor="end" fill="#333" stroke="#333" stroke-width="0.05" font-style="italic" transform="rotate(-45 415.9 316.9)">Nitrospirota</text>
<circle cx="421.05" cy="313.4" r="1.35" fill="#5462a8" stroke="#2a3470" stroke-width="0.55"/>
<text x="422.25" y="316.9" font-size="4.3" text-anchor="end" fill="#333" stroke="#333" stroke-width="0.05" font-style="italic" transform="rotate(-45 422.25 316.9)">Latescibacterota</text>
<circle cx="427.4" cy="313.4" r="1.35" fill="#dcc868" stroke="#7a6a28" stroke-width="0.55"/>
<text x="428.6" y="316.9" font-size="4.3" text-anchor="end" fill="#333" stroke="#333" stroke-width="0.05" font-style="italic" transform="rotate(-45 428.6 316.9)">Omnitrophota</text>
<circle cx="433.75" cy="313.4" r="1.35" fill="#dcc868" stroke="#7a6a28" stroke-width="0.55"/>
<text x="434.95" y="316.9" font-size="4.3" text-anchor="end" fill="#333" stroke="#333" stroke-width="0.05" font-style="italic" transform="rotate(-45 434.95 316.9)">Planctomycetota</text>
<circle cx="440.1" cy="313.4" r="1.35" fill="#dcc868" stroke="#7a6a28" stroke-width="0.55"/>
<text x="441.3" y="316.9" font-size="4.3" text-anchor="end" fill="#333" stroke="#333" stroke-width="0.05" font-style="italic" transform="rotate(-45 441.3 316.9)">SAR324</text>
<circle cx="446.45" cy="313.4" r="1.35" fill="#dcc868" stroke="#7a6a28" stroke-width="0.55"/>
<text x="447.65" y="316.9" font-size="4.3" text-anchor="end" fill="#333" stroke="#333" stroke-width="0.05" font-style="italic" transform="rotate(-45 447.65 316.9)">Riflebacteria</text>
<circle cx="452.8" cy="313.4" r="1.35" fill="#dcc868" stroke="#7a6a28" stroke-width="0.55"/>
<text x="454" y="316.9" font-size="4.3" text-anchor="end" fill="#333" stroke="#333" stroke-width="0.05" font-style="italic" transform="rotate(-45 454 316.9)">Fibrobacterota</text>
<circle cx="459.15" cy="313.4" r="1.35" fill="#dcc868" stroke="#7a6a28" stroke-width="0.55"/>
<text x="460.35" y="316.9" font-size="4.3" text-anchor="end" fill="#333" stroke="#333" stroke-width="0.05" font-style="italic" transform="rotate(-45 460.35 316.9)">Bdellovibrionota</text>
<circle cx="465.5" cy="313.4" r="1.35" fill="#5462a8" stroke="#2a3470" stroke-width="0.55"/>
<text x="466.7" y="316.9" font-size="4.3" text-anchor="end" fill="#333" stroke="#333" stroke-width="0.05" font-style="italic" transform="rotate(-45 466.7 316.9)">Hydrogenedentota</text>
<circle cx="471.85" cy="313.4" r="1.35" fill="#dcc868" stroke="#7a6a28" stroke-width="0.55"/>
<text x="473.05" y="316.9" font-size="4.3" text-anchor="end" fill="#333" stroke="#333" stroke-width="0.05" font-style="italic" transform="rotate(-45 473.05 316.9)">Nitrospinota</text>
<circle cx="478.2" cy="313.4" r="1.35" fill="#dcc868" stroke="#7a6a28" stroke-width="0.55"/>
<text x="479.4" y="316.9" font-size="4.3" text-anchor="end" fill="#333" stroke="#333" stroke-width="0.05" font-style="italic" transform="rotate(-45 479.4 316.9)">UBA10199</text>
<circle cx="484.55" cy="313.4" r="1.35" fill="#dcc868" stroke="#7a6a28" stroke-width="0.55"/>
<text x="485.75" y="316.9" font-size="4.3" text-anchor="end" fill="#333" stroke="#333" stroke-width="0.05" font-style="italic" transform="rotate(-45 485.75 316.9)">Elusimicrobiota</text>
<circle cx="490.9" cy="313.4" r="1.35" fill="#5462a8" stroke="#2a3470" stroke-width="0.55"/>
<text x="492.1" y="316.9" font-size="4.3" text-anchor="end" fill="#333" stroke="#333" stroke-width="0.05" font-style="italic" transform="rotate(-45 492.1 316.9)">Myxococcota</text>
<circle cx="497.25" cy="313.4" r="1.35" fill="#5462a8" stroke="#2a3470" stroke-width="0.55"/>
<text x="498.45" y="316.9" font-size="4.3" text-anchor="end" fill="#333" stroke="#333" stroke-width="0.05" font-style="italic" transform="rotate(-45 498.45 316.9)">Desulfobacterota_G</text>
<text x="452.7" y="344.6" font-size="4.95" text-anchor="middle" fill="#111" stroke="#111" stroke-width="0.1" font-weight="bold">History of first published MTB genome from 16 Bacterial phyla</text>
</svg></body></html>
